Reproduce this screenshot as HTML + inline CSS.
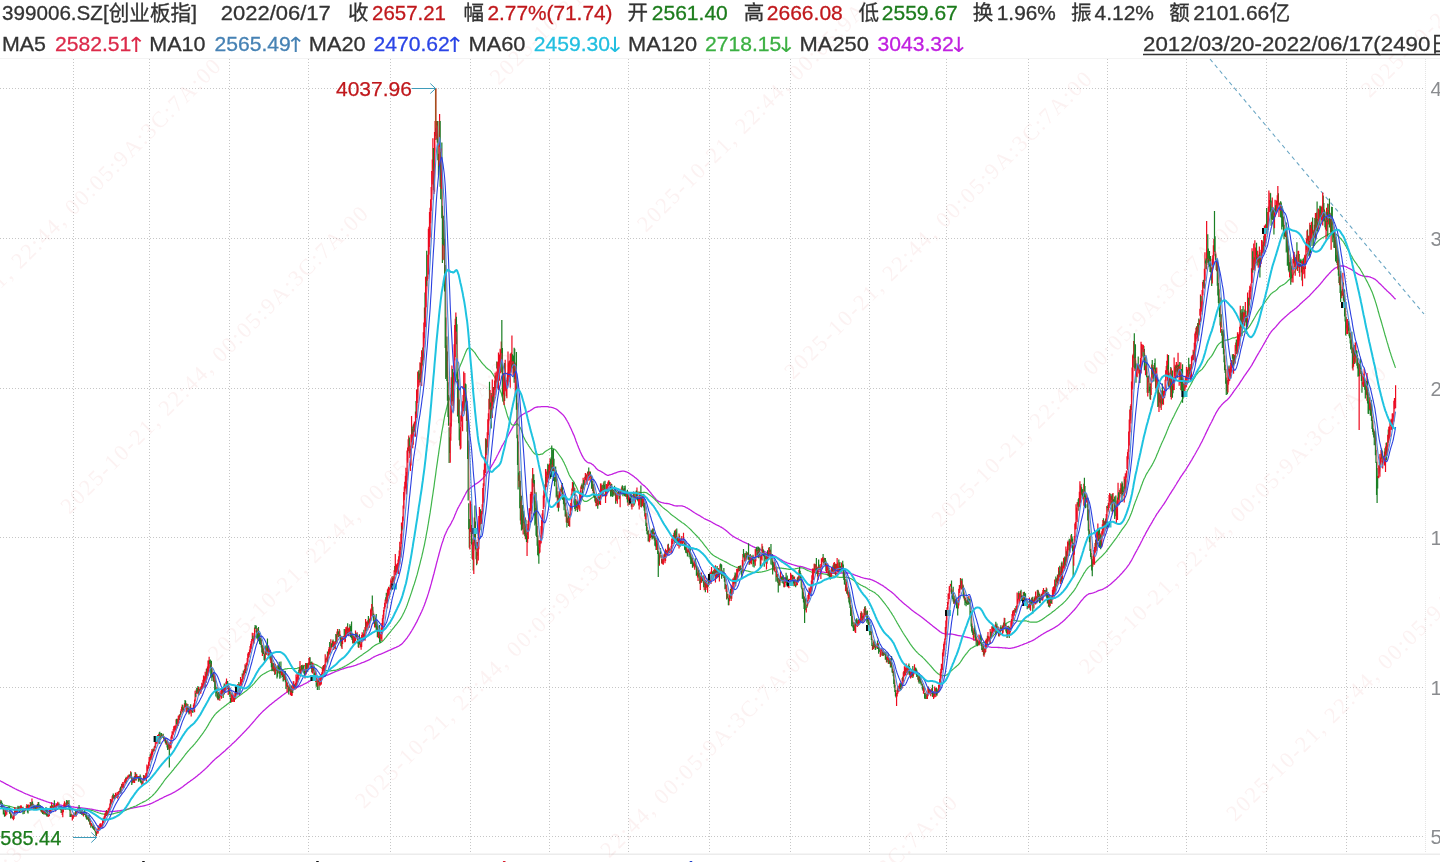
<!DOCTYPE html>
<html lang="zh-CN"><head><meta charset="utf-8"><title>399006.SZ 创业板指</title>
<style>
html,body{margin:0;padding:0;background:#fff;}
body{width:1440px;height:862px;overflow:hidden;position:relative;font-family:"Liberation Sans","Noto Sans CJK SC",sans-serif;}
svg{position:absolute;left:0;top:0;display:block;}
</style></head><body>
<svg width="1440" height="862" viewBox="0 0 1440 862">
<defs><clipPath id="cp"><rect x="0" y="59" width="1440" height="794"/></clipPath></defs>
<rect width="1440" height="862" fill="#fff"/>
<g stroke="#c6c6c6" stroke-width="1" stroke-dasharray="1 2" fill="none">
<path d="M73.5 59V853"/>
<path d="M149.5 59V853"/>
<path d="M229.5 59V853"/>
<path d="M308.5 59V853"/>
<path d="M390.5 59V853"/>
<path d="M470.5 59V853"/>
<path d="M549.5 59V853"/>
<path d="M628.5 59V853"/>
<path d="M709.5 59V853"/>
<path d="M790.5 59V853"/>
<path d="M869.5 59V853"/>
<path d="M946.5 59V853"/>
<path d="M1028.5 59V853"/>
<path d="M1107.5 59V853"/>
<path d="M1186.5 59V853"/>
<path d="M1266.5 59V853"/>
<path d="M1346.5 59V853"/>
<path d="M0 88.5H1424"/>
<path d="M0 238.5H1424"/>
<path d="M0 388.5H1424"/>
<path d="M0 537.5H1424"/>
<path d="M0 687.5H1424"/>
<path d="M0 836.5H1424"/>
</g>
<path d="M1425.5 59V853" stroke="#e4e4e4" stroke-width="1" stroke-dasharray="1 1"/>
<path d="M0 58.5H1440" stroke="#f3f3f3" stroke-width="1"/>
<path d="M0 854.2H1440" stroke="#ececec" stroke-width="1.6"/>
<g><g transform="rotate(-45)" font-family="'Liberation Serif', serif" font-size="22.5" fill="#d93a3a" fill-opacity="0.065">
<text x="-922.0" y="-3.3" textLength="424" lengthAdjust="spacing">2025-10-21, 22:44, 00:05:9A:3C:7A:00</text>
<text x="-922.0" y="205.0" textLength="424" lengthAdjust="spacing">2025-10-21, 22:44, 00:05:9A:3C:7A:00</text>
<text x="-922.0" y="413.3" textLength="424" lengthAdjust="spacing">2025-10-21, 22:44, 00:05:9A:3C:7A:00</text>
<text x="-922.0" y="621.6" textLength="424" lengthAdjust="spacing">2025-10-21, 22:44, 00:05:9A:3C:7A:00</text>
<text x="-922.0" y="829.9" textLength="424" lengthAdjust="spacing">2025-10-21, 22:44, 00:05:9A:3C:7A:00</text>
<text x="-922.0" y="1038.2" textLength="424" lengthAdjust="spacing">2025-10-21, 22:44, 00:05:9A:3C:7A:00</text>
<text x="-922.0" y="1246.5" textLength="424" lengthAdjust="spacing">2025-10-21, 22:44, 00:05:9A:3C:7A:00</text>
<text x="-922.0" y="1454.8" textLength="424" lengthAdjust="spacing">2025-10-21, 22:44, 00:05:9A:3C:7A:00</text>
<text x="-922.0" y="1663.1" textLength="424" lengthAdjust="spacing">2025-10-21, 22:44, 00:05:9A:3C:7A:00</text>
<text x="-315.0" y="-3.3" textLength="424" lengthAdjust="spacing">2025-10-21, 22:44, 00:05:9A:3C:7A:00</text>
<text x="-315.0" y="205.0" textLength="424" lengthAdjust="spacing">2025-10-21, 22:44, 00:05:9A:3C:7A:00</text>
<text x="-315.0" y="413.3" textLength="424" lengthAdjust="spacing">2025-10-21, 22:44, 00:05:9A:3C:7A:00</text>
<text x="-315.0" y="621.6" textLength="424" lengthAdjust="spacing">2025-10-21, 22:44, 00:05:9A:3C:7A:00</text>
<text x="-315.0" y="829.9" textLength="424" lengthAdjust="spacing">2025-10-21, 22:44, 00:05:9A:3C:7A:00</text>
<text x="-315.0" y="1038.2" textLength="424" lengthAdjust="spacing">2025-10-21, 22:44, 00:05:9A:3C:7A:00</text>
<text x="-315.0" y="1246.5" textLength="424" lengthAdjust="spacing">2025-10-21, 22:44, 00:05:9A:3C:7A:00</text>
<text x="-315.0" y="1454.8" textLength="424" lengthAdjust="spacing">2025-10-21, 22:44, 00:05:9A:3C:7A:00</text>
<text x="-315.0" y="1663.1" textLength="424" lengthAdjust="spacing">2025-10-21, 22:44, 00:05:9A:3C:7A:00</text>
<text x="292.0" y="-3.3" textLength="424" lengthAdjust="spacing">2025-10-21, 22:44, 00:05:9A:3C:7A:00</text>
<text x="292.0" y="205.0" textLength="424" lengthAdjust="spacing">2025-10-21, 22:44, 00:05:9A:3C:7A:00</text>
<text x="292.0" y="413.3" textLength="424" lengthAdjust="spacing">2025-10-21, 22:44, 00:05:9A:3C:7A:00</text>
<text x="292.0" y="621.6" textLength="424" lengthAdjust="spacing">2025-10-21, 22:44, 00:05:9A:3C:7A:00</text>
<text x="292.0" y="829.9" textLength="424" lengthAdjust="spacing">2025-10-21, 22:44, 00:05:9A:3C:7A:00</text>
<text x="292.0" y="1038.2" textLength="424" lengthAdjust="spacing">2025-10-21, 22:44, 00:05:9A:3C:7A:00</text>
<text x="292.0" y="1246.5" textLength="424" lengthAdjust="spacing">2025-10-21, 22:44, 00:05:9A:3C:7A:00</text>
<text x="292.0" y="1454.8" textLength="424" lengthAdjust="spacing">2025-10-21, 22:44, 00:05:9A:3C:7A:00</text>
<text x="292.0" y="1663.1" textLength="424" lengthAdjust="spacing">2025-10-21, 22:44, 00:05:9A:3C:7A:00</text>
<text x="899.0" y="-3.3" textLength="424" lengthAdjust="spacing">2025-10-21, 22:44, 00:05:9A:3C:7A:00</text>
<text x="899.0" y="205.0" textLength="424" lengthAdjust="spacing">2025-10-21, 22:44, 00:05:9A:3C:7A:00</text>
<text x="899.0" y="413.3" textLength="424" lengthAdjust="spacing">2025-10-21, 22:44, 00:05:9A:3C:7A:00</text>
<text x="899.0" y="621.6" textLength="424" lengthAdjust="spacing">2025-10-21, 22:44, 00:05:9A:3C:7A:00</text>
<text x="899.0" y="829.9" textLength="424" lengthAdjust="spacing">2025-10-21, 22:44, 00:05:9A:3C:7A:00</text>
<text x="899.0" y="1038.2" textLength="424" lengthAdjust="spacing">2025-10-21, 22:44, 00:05:9A:3C:7A:00</text>
<text x="899.0" y="1246.5" textLength="424" lengthAdjust="spacing">2025-10-21, 22:44, 00:05:9A:3C:7A:00</text>
<text x="899.0" y="1454.8" textLength="424" lengthAdjust="spacing">2025-10-21, 22:44, 00:05:9A:3C:7A:00</text>
<text x="899.0" y="1663.1" textLength="424" lengthAdjust="spacing">2025-10-21, 22:44, 00:05:9A:3C:7A:00</text>
</g></g>
<path d="M1210 59L1424 314" stroke="#6aa6c4" stroke-width="1.1" stroke-dasharray="4 3.5" fill="none"/>
<polyline points="0.0,780.7 0.6,781.0 1.1,781.3 1.7,781.6 2.2,781.9 2.8,782.2 3.4,782.5 3.9,782.8 4.5,783.1 5.0,783.4 5.6,783.7 6.2,784.1 6.7,784.4 7.3,784.6 7.8,784.9 8.4,785.2 9.0,785.5 9.5,785.8 10.1,786.1 10.7,786.4 11.2,786.7 11.8,787.0 12.3,787.3 12.9,787.7 13.5,788.0 14.0,788.2 14.6,788.5 15.1,788.8 15.7,789.0 16.3,789.3 16.8,789.6 17.4,789.9 17.9,790.2 18.5,790.4 19.1,790.7 19.6,791.0 20.2,791.2 20.7,791.4 21.3,791.7 21.9,792.0 22.4,792.2 23.0,792.5 23.5,792.8 24.1,793.0 24.7,793.3 25.2,793.5 25.8,793.8 26.4,794.0 26.9,794.2 27.5,794.5 28.0,794.7 28.6,795.0 29.2,795.2 29.7,795.4 30.3,795.6 30.8,795.8 31.4,796.1 32.0,796.2 32.5,796.4 33.1,796.7 33.6,796.9 34.2,797.1 34.8,797.3 35.3,797.5 35.9,797.7 36.4,798.0 37.0,798.2 37.6,798.4 38.1,798.6 38.7,798.8 39.2,799.0 39.8,799.1 40.4,799.3 40.9,799.6 41.5,799.8 42.1,799.9 42.6,800.1 43.2,800.3 43.7,800.6 44.3,800.8 44.9,801.0 45.4,801.2 46.0,801.4 46.5,801.6 47.1,801.8 47.7,802.0 48.2,802.2 48.8,802.4 49.3,802.5 49.9,802.7 50.5,802.9 51.0,803.0 51.6,803.1 52.1,803.3 52.7,803.4 53.3,803.6 53.8,803.7 54.4,803.8 54.9,804.0 55.5,804.1 56.1,804.2 56.6,804.3 57.2,804.5 57.8,804.6 58.3,804.7 58.9,804.8 59.4,804.9 60.0,805.0 60.6,805.1 61.1,805.2 61.7,805.4 62.2,805.5 62.8,805.6 63.4,805.7 63.9,805.7 64.5,805.8 65.0,805.9 65.6,806.0 66.2,806.1 66.7,806.1 67.3,806.2 67.8,806.3 68.4,806.3 69.0,806.4 69.5,806.5 70.1,806.6 70.6,806.6 71.2,806.7 71.8,806.8 72.3,806.9 72.9,807.0 73.5,807.0 74.0,807.1 74.6,807.2 75.1,807.3 75.7,807.3 76.3,807.4 76.8,807.4 77.4,807.5 77.9,807.5 78.5,807.6 79.1,807.6 79.6,807.7 80.2,807.7 80.7,807.8 81.3,807.8 81.9,807.9 82.4,808.0 83.0,808.1 83.5,808.1 84.1,808.2 84.7,808.3 85.2,808.3 85.8,808.4 86.3,808.5 86.9,808.6 87.5,808.6 88.0,808.7 88.6,808.8 89.2,808.9 89.7,809.0 90.3,809.1 90.8,809.1 91.4,809.2 92.0,809.3 92.5,809.4 93.1,809.5 93.6,809.7 94.2,809.8 94.8,809.9 95.3,810.0 95.9,810.1 96.4,810.3 97.0,810.4 97.6,810.5 98.1,810.6 98.7,810.7 99.2,810.8 99.8,810.9 100.4,811.0 100.9,811.0 101.5,811.1 102.0,811.2 102.6,811.3 103.2,811.3 103.7,811.4 104.3,811.4 104.9,811.5 105.4,811.5 106.0,811.5 106.5,811.6 107.1,811.6 107.7,811.6 108.2,811.6 108.8,811.6 109.3,811.6 109.9,811.6 110.5,811.6 111.0,811.6 111.6,811.5 112.1,811.5 112.7,811.4 113.3,811.4 113.8,811.3 114.4,811.3 114.9,811.3 115.5,811.2 116.1,811.1 116.6,811.1 117.2,811.0 117.7,811.0 118.3,810.9 118.9,810.8 119.4,810.8 120.0,810.7 120.6,810.6 121.1,810.5 121.7,810.4 122.2,810.3 122.8,810.2 123.4,810.1 123.9,810.0 124.5,809.9 125.0,809.7 125.6,809.6 126.2,809.5 126.7,809.4 127.3,809.2 127.8,809.1 128.4,809.0 129.0,808.8 129.5,808.7 130.1,808.5 130.6,808.4 131.2,808.3 131.8,808.2 132.3,808.1 132.9,808.0 133.4,807.8 134.0,807.7 134.6,807.6 135.1,807.5 135.7,807.4 136.3,807.3 136.8,807.1 137.4,807.0 137.9,806.9 138.5,806.8 139.1,806.7 139.6,806.6 140.2,806.5 140.7,806.4 141.3,806.3 141.9,806.2 142.4,806.1 143.0,806.0 143.5,805.9 144.1,805.8 144.7,805.6 145.2,805.5 145.8,805.3 146.3,805.2 146.9,805.0 147.5,804.8 148.0,804.7 148.6,804.5 149.1,804.3 149.7,804.1 150.3,803.8 150.8,803.6 151.4,803.4 152.0,803.1 152.5,802.8 153.1,802.6 153.6,802.3 154.2,802.0 154.8,801.8 155.3,801.5 155.9,801.2 156.4,800.9 157.0,800.7 157.6,800.4 158.1,800.1 158.7,799.8 159.2,799.5 159.8,799.2 160.4,798.9 160.9,798.7 161.5,798.4 162.0,798.1 162.6,797.8 163.2,797.5 163.7,797.2 164.3,796.9 164.8,796.6 165.4,796.4 166.0,796.1 166.5,795.8 167.1,795.6 167.7,795.4 168.2,795.1 168.8,794.9 169.3,794.6 169.9,794.4 170.5,794.1 171.0,793.9 171.6,793.6 172.1,793.3 172.7,793.0 173.3,792.7 173.8,792.4 174.4,792.1 174.9,791.8 175.5,791.5 176.1,791.1 176.6,790.8 177.2,790.4 177.7,790.1 178.3,789.7 178.9,789.4 179.4,789.0 180.0,788.7 180.5,788.3 181.1,787.9 181.7,787.5 182.2,787.1 182.8,786.7 183.4,786.2 183.9,785.8 184.5,785.4 185.0,784.9 185.6,784.5 186.2,784.1 186.7,783.7 187.3,783.2 187.8,782.8 188.4,782.4 189.0,782.0 189.5,781.6 190.1,781.2 190.6,780.8 191.2,780.4 191.8,780.0 192.3,779.6 192.9,779.2 193.4,778.8 194.0,778.4 194.6,778.0 195.1,777.5 195.7,777.1 196.2,776.6 196.8,776.2 197.4,775.7 197.9,775.3 198.5,774.8 199.1,774.3 199.6,773.9 200.2,773.4 200.7,772.9 201.3,772.4 201.9,771.9 202.4,771.4 203.0,770.9 203.5,770.4 204.1,769.9 204.7,769.4 205.2,768.9 205.8,768.4 206.3,767.9 206.9,767.4 207.5,766.8 208.0,766.3 208.6,765.7 209.1,765.1 209.7,764.5 210.3,763.9 210.8,763.3 211.4,762.8 211.9,762.2 212.5,761.6 213.1,761.1 213.6,760.5 214.2,760.0 214.8,759.4 215.3,758.9 215.9,758.5 216.4,758.0 217.0,757.5 217.6,757.1 218.1,756.6 218.7,756.2 219.2,755.7 219.8,755.2 220.4,754.8 220.9,754.3 221.5,753.8 222.0,753.3 222.6,752.8 223.2,752.4 223.7,751.8 224.3,751.4 224.8,750.9 225.4,750.4 226.0,749.8 226.5,749.3 227.1,748.7 227.6,748.2 228.2,747.7 228.8,747.2 229.3,746.7 229.9,746.1 230.5,745.7 231.0,745.2 231.6,744.6 232.1,744.1 232.7,743.6 233.3,743.1 233.8,742.6 234.4,742.0 234.9,741.5 235.5,740.9 236.1,740.4 236.6,739.8 237.2,739.3 237.7,738.7 238.3,738.1 238.9,737.6 239.4,737.0 240.0,736.5 240.5,735.9 241.1,735.3 241.7,734.7 242.2,734.1 242.8,733.5 243.3,733.0 243.9,732.4 244.5,731.8 245.0,731.2 245.6,730.6 246.2,730.0 246.7,729.4 247.3,728.8 247.8,728.2 248.4,727.6 249.0,727.0 249.5,726.3 250.1,725.7 250.6,725.1 251.2,724.4 251.8,723.8 252.3,723.2 252.9,722.5 253.4,721.9 254.0,721.2 254.6,720.6 255.1,719.9 255.7,719.2 256.2,718.6 256.8,717.9 257.4,717.3 257.9,716.6 258.5,716.0 259.0,715.3 259.6,714.7 260.2,714.1 260.7,713.5 261.3,713.0 261.9,712.4 262.4,711.9 263.0,711.3 263.5,710.8 264.1,710.3 264.7,709.8 265.2,709.3 265.8,708.8 266.3,708.3 266.9,707.8 267.5,707.3 268.0,706.8 268.6,706.3 269.1,705.8 269.7,705.3 270.3,704.8 270.8,704.4 271.4,703.9 271.9,703.5 272.5,703.0 273.1,702.6 273.6,702.1 274.2,701.7 274.7,701.2 275.3,700.8 275.9,700.4 276.4,700.0 277.0,699.6 277.6,699.1 278.1,698.7 278.7,698.3 279.2,697.8 279.8,697.4 280.4,697.0 280.9,696.5 281.5,696.1 282.0,695.6 282.6,695.2 283.2,694.8 283.7,694.4 284.3,694.0 284.8,693.6 285.4,693.2 286.0,692.8 286.5,692.5 287.1,692.1 287.6,691.8 288.2,691.5 288.8,691.2 289.3,690.9 289.9,690.7 290.4,690.4 291.0,690.1 291.6,689.9 292.1,689.6 292.7,689.4 293.2,689.1 293.8,688.9 294.4,688.6 294.9,688.4 295.5,688.1 296.1,687.9 296.6,687.7 297.2,687.4 297.7,687.2 298.3,686.9 298.9,686.7 299.4,686.4 300.0,686.1 300.5,685.9 301.1,685.6 301.7,685.3 302.2,685.1 302.8,684.8 303.3,684.5 303.9,684.2 304.5,684.0 305.0,683.7 305.6,683.4 306.1,683.1 306.7,682.8 307.3,682.5 307.8,682.2 308.4,681.9 308.9,681.5 309.5,681.2 310.1,680.9 310.6,680.5 311.2,680.3 311.8,680.0 312.3,679.7 312.9,679.5 313.4,679.2 314.0,679.0 314.6,678.8 315.1,678.6 315.7,678.4 316.2,678.2 316.8,678.1 317.4,677.9 317.9,677.8 318.5,677.6 319.0,677.5 319.6,677.3 320.2,677.2 320.7,677.1 321.3,676.9 321.8,676.8 322.4,676.6 323.0,676.5 323.5,676.3 324.1,676.2 324.6,676.0 325.2,675.8 325.8,675.6 326.3,675.4 326.9,675.2 327.5,675.1 328.0,674.8 328.6,674.6 329.1,674.3 329.7,674.1 330.3,673.9 330.8,673.6 331.4,673.4 331.9,673.1 332.5,672.8 333.1,672.6 333.6,672.3 334.2,672.1 334.7,671.9 335.3,671.7 335.9,671.5 336.4,671.2 337.0,671.0 337.5,670.8 338.1,670.6 338.7,670.3 339.2,670.1 339.8,669.9 340.3,669.7 340.9,669.5 341.5,669.3 342.0,669.1 342.6,668.9 343.2,668.8 343.7,668.6 344.3,668.4 344.8,668.2 345.4,668.0 346.0,667.9 346.5,667.7 347.1,667.5 347.6,667.4 348.2,667.2 348.8,667.1 349.3,667.0 349.9,666.9 350.4,666.8 351.0,666.6 351.6,666.5 352.1,666.3 352.7,666.2 353.2,666.0 353.8,665.9 354.4,665.7 354.9,665.5 355.5,665.3 356.0,665.1 356.6,664.9 357.2,664.6 357.7,664.4 358.3,664.2 358.9,664.0 359.4,663.8 360.0,663.6 360.5,663.4 361.1,663.2 361.7,662.9 362.2,662.7 362.8,662.5 363.3,662.3 363.9,662.1 364.5,661.9 365.0,661.6 365.6,661.3 366.1,661.1 366.7,660.9 367.3,660.6 367.8,660.4 368.4,660.1 368.9,659.9 369.5,659.6 370.1,659.3 370.6,658.9 371.2,658.6 371.7,658.2 372.3,657.8 372.9,657.5 373.4,657.2 374.0,656.9 374.6,656.6 375.1,656.3 375.7,656.0 376.2,655.8 376.8,655.5 377.4,655.3 377.9,655.1 378.5,654.9 379.0,654.6 379.6,654.4 380.2,654.3 380.7,654.1 381.3,653.9 381.8,653.7 382.4,653.4 383.0,653.2 383.5,653.0 384.1,652.7 384.6,652.4 385.2,652.2 385.8,651.9 386.3,651.6 386.9,651.4 387.4,651.1 388.0,650.8 388.6,650.6 389.1,650.3 389.7,650.1 390.3,649.8 390.8,649.6 391.4,649.3 391.9,649.1 392.5,648.9 393.1,648.6 393.6,648.4 394.2,648.2 394.7,647.9 395.3,647.7 395.9,647.5 396.4,647.2 397.0,646.9 397.5,646.7 398.1,646.4 398.7,646.1 399.2,645.8 399.8,645.4 400.3,645.0 400.9,644.6 401.5,644.2 402.0,643.7 402.6,643.2 403.1,642.6 403.7,641.9 404.3,641.3 404.8,640.6 405.4,639.9 406.0,639.2 406.5,638.5 407.1,637.8 407.6,637.0 408.2,636.1 408.8,635.3 409.3,634.5 409.9,633.6 410.4,632.8 411.0,631.9 411.6,631.0 412.1,630.0 412.7,629.1 413.2,628.1 413.8,627.2 414.4,626.2 414.9,625.2 415.5,624.2 416.0,623.1 416.6,622.1 417.2,620.9 417.7,619.8 418.3,618.6 418.8,617.4 419.4,616.3 420.0,615.1 420.5,613.9 421.1,612.7 421.7,611.5 422.2,610.2 422.8,608.9 423.3,607.6 423.9,606.2 424.5,604.7 425.0,603.3 425.6,601.7 426.1,600.1 426.7,598.5 427.3,596.8 427.8,595.1 428.4,593.4 428.9,591.6 429.5,589.7 430.1,587.8 430.6,585.9 431.2,583.9 431.7,581.8 432.3,579.7 432.9,577.5 433.4,575.5 434.0,573.5 434.5,571.3 435.1,569.0 435.7,566.8 436.2,564.6 436.8,562.3 437.4,560.2 437.9,558.1 438.5,556.1 439.0,554.0 439.6,551.9 440.2,549.8 440.7,547.9 441.3,545.9 441.8,544.1 442.4,542.4 443.0,540.7 443.5,539.0 444.1,537.3 444.6,535.7 445.2,534.4 445.8,533.2 446.3,531.9 446.9,530.7 447.4,529.6 448.0,528.5 448.6,527.5 449.1,526.7 449.7,525.9 450.2,524.9 450.8,523.9 451.4,522.8 451.9,521.6 452.5,520.5 453.1,519.5 453.6,518.3 454.2,517.0 454.7,515.6 455.3,514.2 455.9,512.8 456.4,511.4 457.0,510.2 457.5,509.0 458.1,507.9 458.7,506.8 459.2,505.8 459.8,504.8 460.3,503.8 460.9,502.8 461.5,501.8 462.0,500.7 462.6,499.6 463.1,498.6 463.7,497.5 464.3,496.4 464.8,495.3 465.4,494.2 465.9,493.2 466.5,492.2 467.1,491.2 467.6,490.4 468.2,489.8 468.8,489.3 469.3,488.9 469.9,488.4 470.4,487.8 471.0,487.4 471.6,486.9 472.1,486.6 472.7,486.2 473.2,485.9 473.8,485.5 474.4,485.0 474.9,484.5 475.5,484.1 476.0,483.8 476.6,483.5 477.2,483.2 477.7,482.8 478.3,482.4 478.8,482.0 479.4,481.5 480.0,481.0 480.5,480.5 481.1,480.0 481.6,479.5 482.2,479.0 482.8,478.4 483.3,477.8 483.9,477.1 484.5,476.5 485.0,475.8 485.6,475.0 486.1,474.3 486.7,473.6 487.3,472.8 487.8,472.0 488.4,471.1 488.9,470.2 489.5,469.3 490.1,468.4 490.6,467.5 491.2,466.6 491.7,465.7 492.3,464.7 492.9,463.8 493.4,462.8 494.0,461.8 494.5,460.8 495.1,459.8 495.7,458.8 496.2,457.7 496.8,456.6 497.3,455.5 497.9,454.5 498.5,453.3 499.0,452.2 499.6,451.1 500.2,449.9 500.7,448.7 501.3,447.6 501.8,446.4 502.4,445.4 503.0,444.5 503.5,443.5 504.1,442.5 504.6,441.6 505.2,440.6 505.8,439.6 506.3,438.7 506.9,437.7 507.4,436.8 508.0,435.8 508.6,434.7 509.1,433.7 509.7,432.7 510.2,431.7 510.8,430.7 511.4,429.7 511.9,428.7 512.5,427.7 513.0,426.7 513.6,425.7 514.2,424.7 514.7,423.7 515.3,422.7 515.9,421.7 516.4,420.8 517.0,420.0 517.5,419.3 518.1,418.6 518.7,418.0 519.2,417.4 519.8,416.8 520.3,416.3 520.9,415.8 521.5,415.3 522.0,414.9 522.6,414.5 523.1,414.2 523.7,413.8 524.3,413.5 524.8,413.2 525.4,412.9 525.9,412.7 526.5,412.4 527.1,412.2 527.6,412.0 528.2,411.7 528.7,411.4 529.3,411.1 529.9,410.8 530.4,410.5 531.0,410.1 531.6,409.7 532.1,409.4 532.7,409.0 533.2,408.6 533.8,408.2 534.4,407.9 534.9,407.6 535.5,407.4 536.0,407.3 536.6,407.1 537.2,407.0 537.7,407.0 538.3,406.9 538.8,406.9 539.4,406.9 540.0,406.8 540.5,406.8 541.1,406.7 541.6,406.7 542.2,406.7 542.8,406.7 543.3,406.6 543.9,406.6 544.4,406.6 545.0,406.6 545.6,406.6 546.1,406.6 546.7,406.6 547.3,406.7 547.8,406.7 548.4,406.9 548.9,407.0 549.5,407.1 550.1,407.1 550.6,407.2 551.2,407.3 551.7,407.4 552.3,407.6 552.9,407.7 553.4,407.9 554.0,408.1 554.5,408.3 555.1,408.5 555.7,408.8 556.2,409.0 556.8,409.4 557.3,409.8 557.9,410.3 558.5,410.8 559.0,411.3 559.6,411.8 560.1,412.2 560.7,412.7 561.3,413.2 561.8,413.7 562.4,414.2 562.9,414.8 563.5,415.4 564.1,416.1 564.6,416.9 565.2,417.7 565.8,418.6 566.3,419.6 566.9,420.5 567.4,421.5 568.0,422.5 568.6,423.6 569.1,424.7 569.7,425.9 570.2,427.1 570.8,428.3 571.4,429.5 571.9,430.8 572.5,432.0 573.0,433.4 573.6,434.6 574.2,435.8 574.7,437.3 575.3,438.8 575.8,440.4 576.4,441.9 577.0,443.4 577.5,444.9 578.1,446.3 578.6,447.7 579.2,449.1 579.8,450.5 580.3,451.8 580.9,453.0 581.5,454.3 582.0,455.4 582.6,456.4 583.1,457.3 583.7,458.3 584.3,459.2 584.8,460.0 585.4,460.6 585.9,461.0 586.5,461.6 587.1,462.0 587.6,462.3 588.2,462.6 588.7,462.8 589.3,462.9 589.9,463.0 590.4,463.2 591.0,463.4 591.5,463.8 592.1,464.3 592.7,464.6 593.2,465.0 593.8,465.5 594.3,466.1 594.9,466.7 595.5,467.4 596.0,468.2 596.6,468.8 597.2,469.3 597.7,469.7 598.3,470.1 598.8,470.5 599.4,470.7 600.0,471.0 600.5,471.2 601.1,471.5 601.6,471.8 602.2,472.1 602.8,472.5 603.3,472.8 603.9,473.2 604.4,473.6 605.0,474.0 605.6,474.4 606.1,474.7 606.7,475.0 607.2,475.3 607.8,475.4 608.4,475.4 608.9,475.2 609.5,474.9 610.0,474.8 610.6,474.7 611.2,474.5 611.7,474.3 612.3,474.1 612.9,473.8 613.4,473.6 614.0,473.4 614.5,473.2 615.1,473.1 615.7,472.9 616.2,472.6 616.8,472.4 617.3,472.2 617.9,472.0 618.5,471.8 619.0,471.7 619.6,471.6 620.1,471.5 620.7,471.4 621.3,471.3 621.8,471.2 622.4,471.1 622.9,471.1 623.5,471.2 624.1,471.2 624.6,471.3 625.2,471.5 625.7,471.6 626.3,471.8 626.9,472.0 627.4,472.3 628.0,472.5 628.6,472.9 629.1,473.2 629.7,473.6 630.2,474.0 630.8,474.4 631.4,474.8 631.9,475.1 632.5,475.5 633.0,475.9 633.6,476.3 634.2,476.7 634.7,477.2 635.3,477.7 635.8,478.1 636.4,478.6 637.0,479.1 637.5,479.6 638.1,480.1 638.6,480.7 639.2,481.2 639.8,481.8 640.3,482.3 640.9,482.9 641.4,483.5 642.0,484.1 642.6,484.5 643.1,484.9 643.7,485.4 644.3,485.8 644.8,486.3 645.4,486.8 645.9,487.4 646.5,488.0 647.1,488.5 647.6,489.2 648.2,489.8 648.7,490.5 649.3,491.2 649.9,491.9 650.4,492.5 651.0,493.2 651.5,493.9 652.1,494.6 652.7,495.3 653.2,496.0 653.8,496.6 654.3,497.3 654.9,498.0 655.5,498.7 656.0,499.4 656.6,499.9 657.1,500.4 657.7,500.8 658.3,501.1 658.8,501.4 659.4,501.7 660.0,501.9 660.5,502.1 661.1,502.3 661.6,502.5 662.2,502.7 662.8,502.8 663.3,502.9 663.9,503.1 664.4,503.2 665.0,503.3 665.6,503.4 666.1,503.4 666.7,503.5 667.2,503.5 667.8,503.6 668.4,503.7 668.9,503.8 669.5,503.9 670.0,504.1 670.6,504.3 671.2,504.5 671.7,504.7 672.3,504.9 672.8,505.2 673.4,505.4 674.0,505.6 674.5,505.7 675.1,505.8 675.7,505.9 676.2,505.9 676.8,506.0 677.3,506.0 677.9,505.9 678.5,505.9 679.0,505.8 679.6,505.8 680.1,505.8 680.7,505.8 681.3,505.9 681.8,505.9 682.4,506.0 682.9,506.2 683.5,506.3 684.1,506.5 684.6,506.7 685.2,507.0 685.7,507.3 686.3,507.6 686.9,507.8 687.4,508.2 688.0,508.5 688.5,508.8 689.1,509.1 689.7,509.5 690.2,509.8 690.8,510.2 691.4,510.6 691.9,511.0 692.5,511.3 693.0,511.7 693.6,512.1 694.2,512.5 694.7,512.8 695.3,513.2 695.8,513.5 696.4,513.9 697.0,514.2 697.5,514.5 698.1,514.8 698.6,515.1 699.2,515.4 699.8,515.7 700.3,516.1 700.9,516.4 701.4,516.8 702.0,517.1 702.6,517.5 703.1,517.8 703.7,518.2 704.2,518.5 704.8,518.8 705.4,519.1 705.9,519.4 706.5,519.6 707.1,519.9 707.6,520.2 708.2,520.4 708.7,520.7 709.3,520.9 709.9,521.1 710.4,521.4 711.0,521.7 711.5,522.0 712.1,522.3 712.7,522.7 713.2,523.1 713.8,523.4 714.3,523.7 714.9,524.0 715.5,524.3 716.0,524.6 716.6,524.8 717.1,525.1 717.7,525.4 718.3,525.6 718.8,525.9 719.4,526.2 719.9,526.5 720.5,526.8 721.1,527.1 721.6,527.4 722.2,527.8 722.8,528.1 723.3,528.5 723.9,528.9 724.4,529.3 725.0,529.7 725.6,530.1 726.1,530.6 726.7,531.0 727.2,531.5 727.8,532.0 728.4,532.5 728.9,533.0 729.5,533.5 730.0,534.0 730.6,534.5 731.2,534.9 731.7,535.4 732.3,535.8 732.8,536.1 733.4,536.5 734.0,536.9 734.5,537.2 735.1,537.5 735.6,537.8 736.2,538.1 736.8,538.4 737.3,538.7 737.9,539.0 738.5,539.2 739.0,539.5 739.6,539.8 740.1,540.1 740.7,540.4 741.3,540.7 741.8,541.0 742.4,541.3 742.9,541.6 743.5,541.9 744.1,542.2 744.6,542.4 745.2,542.7 745.7,542.9 746.3,543.2 746.9,543.5 747.4,543.7 748.0,544.0 748.5,544.3 749.1,544.6 749.7,544.9 750.2,545.2 750.8,545.5 751.3,545.8 751.9,546.0 752.5,546.3 753.0,546.6 753.6,546.8 754.2,547.1 754.7,547.4 755.3,547.6 755.8,547.8 756.4,548.0 757.0,548.2 757.5,548.5 758.1,548.7 758.6,548.9 759.2,549.2 759.8,549.4 760.3,549.7 760.9,549.9 761.4,550.2 762.0,550.4 762.6,550.7 763.1,550.9 763.7,551.2 764.2,551.4 764.8,551.7 765.4,552.0 765.9,552.2 766.5,552.5 767.0,552.7 767.6,553.0 768.2,553.2 768.7,553.4 769.3,553.6 769.9,553.8 770.4,554.0 771.0,554.3 771.5,554.5 772.1,554.7 772.7,555.0 773.2,555.3 773.8,555.5 774.3,555.8 774.9,556.1 775.5,556.4 776.0,556.7 776.6,557.1 777.1,557.4 777.7,557.8 778.3,558.1 778.8,558.4 779.4,558.8 779.9,559.1 780.5,559.4 781.1,559.7 781.6,560.1 782.2,560.4 782.7,560.7 783.3,561.1 783.9,561.4 784.4,561.7 785.0,562.0 785.6,562.2 786.1,562.4 786.7,562.7 787.2,562.9 787.8,563.1 788.4,563.3 788.9,563.4 789.5,563.6 790.0,563.8 790.6,564.0 791.2,564.1 791.7,564.3 792.3,564.5 792.8,564.7 793.4,564.8 794.0,565.0 794.5,565.2 795.1,565.4 795.6,565.5 796.2,565.7 796.8,565.9 797.3,566.0 797.9,566.1 798.4,566.2 799.0,566.3 799.6,566.3 800.1,566.4 800.7,566.5 801.3,566.6 801.8,566.7 802.4,566.9 802.9,567.0 803.5,567.1 804.1,567.3 804.6,567.5 805.2,567.7 805.7,568.0 806.3,568.2 806.9,568.4 807.4,568.6 808.0,568.8 808.5,569.0 809.1,569.1 809.7,569.3 810.2,569.5 810.8,569.6 811.3,569.8 811.9,569.9 812.5,570.0 813.0,570.2 813.6,570.3 814.1,570.4 814.7,570.5 815.3,570.7 815.8,570.8 816.4,570.9 817.0,571.0 817.5,571.2 818.1,571.3 818.6,571.4 819.2,571.5 819.8,571.7 820.3,571.8 820.9,571.8 821.4,571.9 822.0,572.0 822.6,572.1 823.1,572.2 823.7,572.2 824.2,572.3 824.8,572.4 825.4,572.4 825.9,572.5 826.5,572.6 827.0,572.7 827.6,572.7 828.2,572.8 828.7,572.9 829.3,573.0 829.8,573.1 830.4,573.2 831.0,573.2 831.5,573.3 832.1,573.3 832.7,573.3 833.2,573.4 833.8,573.4 834.3,573.4 834.9,573.4 835.5,573.4 836.0,573.4 836.6,573.4 837.1,573.4 837.7,573.4 838.3,573.4 838.8,573.3 839.4,573.3 839.9,573.3 840.5,573.2 841.1,573.2 841.6,573.1 842.2,573.1 842.7,573.0 843.3,573.0 843.9,573.0 844.4,572.9 845.0,572.9 845.5,572.9 846.1,573.0 846.7,573.0 847.2,573.0 847.8,573.0 848.3,573.1 848.9,573.1 849.5,573.2 850.0,573.3 850.6,573.5 851.2,573.6 851.7,573.8 852.3,574.0 852.8,574.2 853.4,574.4 854.0,574.7 854.5,574.9 855.1,575.1 855.6,575.3 856.2,575.5 856.8,575.7 857.3,575.9 857.9,576.1 858.4,576.3 859.0,576.5 859.6,576.7 860.1,576.9 860.7,577.1 861.2,577.3 861.8,577.5 862.4,577.7 862.9,577.8 863.5,578.0 864.0,578.2 864.6,578.3 865.2,578.4 865.7,578.5 866.3,578.6 866.9,578.7 867.4,578.8 868.0,578.9 868.5,579.0 869.1,579.1 869.7,579.2 870.2,579.4 870.8,579.5 871.3,579.7 871.9,579.9 872.5,580.2 873.0,580.4 873.6,580.7 874.1,580.9 874.7,581.2 875.3,581.5 875.8,581.7 876.4,582.0 876.9,582.3 877.5,582.6 878.1,582.9 878.6,583.2 879.2,583.6 879.7,583.9 880.3,584.2 880.9,584.6 881.4,584.9 882.0,585.2 882.6,585.5 883.1,585.9 883.7,586.3 884.2,586.7 884.8,587.1 885.4,587.5 885.9,587.9 886.5,588.3 887.0,588.7 887.6,589.2 888.2,589.6 888.7,590.0 889.3,590.4 889.8,590.8 890.4,591.2 891.0,591.6 891.5,592.1 892.1,592.5 892.6,593.0 893.2,593.4 893.8,593.9 894.3,594.4 894.9,594.9 895.4,595.5 896.0,596.1 896.6,596.7 897.1,597.2 897.7,597.8 898.3,598.3 898.8,598.9 899.4,599.4 899.9,599.9 900.5,600.4 901.1,601.0 901.6,601.5 902.2,602.0 902.7,602.5 903.3,603.0 903.9,603.5 904.4,603.9 905.0,604.4 905.5,604.8 906.1,605.3 906.7,605.7 907.2,606.2 907.8,606.6 908.3,607.1 908.9,607.6 909.5,608.0 910.0,608.5 910.6,609.0 911.1,609.5 911.7,609.9 912.3,610.4 912.8,610.8 913.4,611.3 914.0,611.7 914.5,612.1 915.1,612.5 915.6,612.9 916.2,613.3 916.8,613.7 917.3,614.0 917.9,614.4 918.4,614.8 919.0,615.2 919.6,615.6 920.1,616.0 920.7,616.4 921.2,616.8 921.8,617.2 922.4,617.7 922.9,618.1 923.5,618.5 924.0,619.0 924.6,619.4 925.2,619.9 925.7,620.4 926.3,620.8 926.8,621.3 927.4,621.7 928.0,622.2 928.5,622.6 929.1,623.0 929.7,623.5 930.2,623.9 930.8,624.4 931.3,624.8 931.9,625.3 932.5,625.7 933.0,626.2 933.6,626.6 934.1,627.1 934.7,627.5 935.3,628.0 935.8,628.4 936.4,628.8 936.9,629.3 937.5,629.7 938.1,630.1 938.6,630.6 939.2,631.0 939.7,631.5 940.3,631.9 940.9,632.2 941.4,632.6 942.0,632.9 942.5,633.1 943.1,633.3 943.7,633.5 944.2,633.7 944.8,633.8 945.4,634.0 945.9,634.0 946.5,634.0 947.0,634.1 947.6,634.1 948.2,634.1 948.7,634.1 949.3,634.1 949.8,634.1 950.4,634.0 951.0,634.0 951.5,634.1 952.1,634.1 952.6,634.2 953.2,634.3 953.8,634.5 954.3,634.6 954.9,634.7 955.4,634.9 956.0,635.0 956.6,635.1 957.1,635.3 957.7,635.4 958.2,635.6 958.8,635.7 959.4,635.7 959.9,635.8 960.5,635.9 961.1,635.9 961.6,636.0 962.2,636.1 962.7,636.2 963.3,636.4 963.9,636.5 964.4,636.7 965.0,636.8 965.5,637.0 966.1,637.1 966.7,637.2 967.2,637.4 967.8,637.5 968.3,637.6 968.9,637.7 969.5,637.8 970.0,638.0 970.6,638.2 971.1,638.3 971.7,638.6 972.3,638.8 972.8,639.1 973.4,639.3 973.9,639.6 974.5,639.8 975.1,640.1 975.6,640.4 976.2,640.7 976.8,641.0 977.3,641.3 977.9,641.6 978.4,641.9 979.0,642.1 979.6,642.4 980.1,642.7 980.7,643.0 981.2,643.3 981.8,643.7 982.4,644.0 982.9,644.3 983.5,644.6 984.0,644.9 984.6,645.2 985.2,645.5 985.7,645.7 986.3,645.9 986.8,646.1 987.4,646.3 988.0,646.5 988.5,646.7 989.1,646.8 989.6,647.0 990.2,647.1 990.8,647.2 991.3,647.3 991.9,647.3 992.5,647.3 993.0,647.3 993.6,647.3 994.1,647.3 994.7,647.3 995.3,647.3 995.8,647.4 996.4,647.4 996.9,647.4 997.5,647.4 998.1,647.5 998.6,647.5 999.2,647.5 999.7,647.6 1000.3,647.6 1000.9,647.6 1001.4,647.7 1002.0,647.7 1002.5,647.8 1003.1,647.8 1003.7,647.8 1004.2,647.9 1004.8,647.9 1005.3,648.0 1005.9,648.0 1006.5,648.1 1007.0,648.2 1007.6,648.2 1008.2,648.3 1008.7,648.3 1009.3,648.3 1009.8,648.3 1010.4,648.3 1011.0,648.2 1011.5,648.2 1012.1,648.0 1012.6,647.9 1013.2,647.8 1013.8,647.7 1014.3,647.5 1014.9,647.4 1015.4,647.2 1016.0,647.1 1016.6,646.9 1017.1,646.7 1017.7,646.5 1018.2,646.3 1018.8,646.1 1019.4,645.9 1019.9,645.7 1020.5,645.5 1021.0,645.2 1021.6,645.0 1022.2,644.8 1022.7,644.6 1023.3,644.4 1023.9,644.1 1024.4,643.9 1025.0,643.7 1025.5,643.5 1026.1,643.3 1026.7,643.0 1027.2,642.8 1027.8,642.6 1028.3,642.4 1028.9,642.2 1029.5,641.9 1030.0,641.7 1030.6,641.5 1031.1,641.2 1031.7,641.0 1032.3,640.7 1032.8,640.4 1033.4,640.2 1033.9,639.8 1034.5,639.5 1035.1,639.1 1035.6,638.7 1036.2,638.3 1036.7,638.0 1037.3,637.6 1037.9,637.2 1038.4,636.8 1039.0,636.4 1039.6,636.1 1040.1,635.8 1040.7,635.4 1041.2,635.0 1041.8,634.7 1042.4,634.3 1042.9,634.0 1043.5,633.6 1044.0,633.3 1044.6,633.0 1045.2,632.7 1045.7,632.4 1046.3,632.0 1046.8,631.7 1047.4,631.4 1048.0,631.2 1048.5,630.9 1049.1,630.6 1049.6,630.3 1050.2,630.0 1050.8,629.7 1051.3,629.4 1051.9,629.1 1052.4,628.8 1053.0,628.5 1053.6,628.2 1054.1,627.9 1054.7,627.5 1055.3,627.2 1055.8,626.8 1056.4,626.4 1056.9,626.1 1057.5,625.7 1058.1,625.3 1058.6,624.9 1059.2,624.4 1059.7,624.0 1060.3,623.6 1060.9,623.1 1061.4,622.7 1062.0,622.3 1062.5,621.8 1063.1,621.3 1063.7,620.8 1064.2,620.3 1064.8,619.7 1065.3,619.2 1065.9,618.6 1066.5,618.1 1067.0,617.5 1067.6,616.9 1068.1,616.3 1068.7,615.8 1069.3,615.2 1069.8,614.6 1070.4,614.0 1071.0,613.4 1071.5,612.8 1072.1,612.2 1072.6,611.6 1073.2,611.1 1073.8,610.5 1074.3,609.8 1074.9,609.2 1075.4,608.5 1076.0,607.8 1076.6,607.1 1077.1,606.4 1077.7,605.6 1078.2,604.9 1078.8,604.2 1079.4,603.4 1079.9,602.7 1080.5,601.9 1081.0,601.2 1081.6,600.5 1082.2,599.8 1082.7,599.2 1083.3,598.6 1083.8,597.9 1084.4,597.3 1085.0,596.7 1085.5,596.2 1086.1,595.7 1086.7,595.2 1087.2,594.8 1087.8,594.5 1088.3,594.2 1088.9,593.9 1089.5,593.7 1090.0,593.6 1090.6,593.5 1091.1,593.4 1091.7,593.3 1092.3,593.2 1092.8,593.0 1093.4,592.8 1093.9,592.7 1094.5,592.5 1095.1,592.2 1095.6,592.0 1096.2,591.8 1096.7,591.5 1097.3,591.2 1097.9,590.9 1098.4,590.7 1099.0,590.4 1099.5,590.3 1100.1,590.1 1100.7,589.9 1101.2,589.8 1101.8,589.6 1102.4,589.3 1102.9,589.1 1103.5,588.8 1104.0,588.5 1104.6,588.2 1105.2,587.9 1105.7,587.6 1106.3,587.2 1106.8,586.9 1107.4,586.5 1108.0,586.1 1108.5,585.7 1109.1,585.3 1109.6,584.9 1110.2,584.5 1110.8,584.0 1111.3,583.5 1111.9,583.0 1112.4,582.5 1113.0,582.0 1113.6,581.4 1114.1,581.0 1114.7,580.5 1115.2,579.9 1115.8,579.4 1116.4,578.9 1116.9,578.4 1117.5,577.8 1118.0,577.2 1118.6,576.7 1119.2,576.1 1119.7,575.5 1120.3,574.9 1120.9,574.3 1121.4,573.7 1122.0,573.1 1122.5,572.5 1123.1,571.8 1123.7,571.2 1124.2,570.5 1124.8,569.9 1125.3,569.2 1125.9,568.6 1126.5,567.9 1127.0,567.2 1127.6,566.4 1128.1,565.7 1128.7,564.9 1129.3,564.0 1129.8,563.1 1130.4,562.2 1130.9,561.3 1131.5,560.4 1132.1,559.3 1132.6,558.3 1133.2,557.2 1133.7,556.1 1134.3,555.0 1134.9,553.9 1135.4,552.9 1136.0,551.8 1136.6,550.8 1137.1,549.8 1137.7,548.8 1138.2,547.7 1138.8,546.7 1139.4,545.6 1139.9,544.6 1140.5,543.5 1141.0,542.4 1141.6,541.3 1142.2,540.2 1142.7,539.0 1143.3,537.9 1143.8,536.8 1144.4,535.8 1145.0,534.8 1145.5,533.7 1146.1,532.7 1146.6,531.6 1147.2,530.6 1147.8,529.6 1148.3,528.6 1148.9,527.7 1149.4,526.7 1150.0,525.7 1150.6,524.8 1151.1,523.8 1151.7,522.8 1152.3,521.8 1152.8,520.8 1153.4,519.9 1153.9,518.9 1154.5,518.0 1155.1,517.0 1155.6,516.1 1156.2,515.2 1156.7,514.2 1157.3,513.4 1157.9,512.6 1158.4,511.8 1159.0,511.0 1159.5,510.2 1160.1,509.4 1160.7,508.7 1161.2,507.9 1161.8,507.0 1162.3,506.2 1162.9,505.4 1163.5,504.6 1164.0,503.8 1164.6,503.0 1165.1,502.1 1165.7,501.2 1166.3,500.3 1166.8,499.3 1167.4,498.4 1168.0,497.4 1168.5,496.5 1169.1,495.6 1169.6,494.7 1170.2,493.8 1170.8,493.0 1171.3,492.1 1171.9,491.2 1172.4,490.3 1173.0,489.5 1173.6,488.6 1174.1,487.7 1174.7,486.8 1175.2,485.9 1175.8,485.0 1176.4,484.0 1176.9,483.1 1177.5,482.2 1178.0,481.3 1178.6,480.4 1179.2,479.5 1179.7,478.6 1180.3,477.7 1180.8,476.8 1181.4,476.0 1182.0,475.1 1182.5,474.3 1183.1,473.5 1183.7,472.7 1184.2,471.9 1184.8,471.1 1185.3,470.2 1185.9,469.4 1186.5,468.5 1187.0,467.6 1187.6,466.7 1188.1,465.8 1188.7,464.9 1189.3,464.0 1189.8,463.1 1190.4,462.2 1190.9,461.2 1191.5,460.3 1192.1,459.3 1192.6,458.3 1193.2,457.4 1193.7,456.4 1194.3,455.5 1194.9,454.5 1195.4,453.5 1196.0,452.5 1196.5,451.5 1197.1,450.5 1197.7,449.5 1198.2,448.5 1198.8,447.5 1199.4,446.5 1199.9,445.4 1200.5,444.3 1201.0,443.3 1201.6,442.2 1202.2,441.1 1202.7,439.9 1203.3,438.8 1203.8,437.7 1204.4,436.5 1205.0,435.3 1205.5,434.1 1206.1,432.9 1206.6,431.8 1207.2,430.6 1207.8,429.4 1208.3,428.3 1208.9,427.1 1209.4,426.0 1210.0,424.9 1210.6,423.8 1211.1,422.8 1211.7,421.7 1212.2,420.6 1212.8,419.4 1213.4,418.2 1213.9,417.0 1214.5,415.9 1215.1,414.8 1215.6,413.7 1216.2,412.7 1216.7,411.7 1217.3,410.8 1217.9,409.9 1218.4,409.0 1219.0,408.2 1219.5,407.5 1220.1,406.8 1220.7,406.1 1221.2,405.4 1221.8,404.8 1222.3,404.2 1222.9,403.6 1223.5,403.0 1224.0,402.5 1224.6,402.0 1225.1,401.5 1225.7,401.0 1226.3,400.6 1226.8,400.1 1227.4,399.7 1227.9,399.1 1228.5,398.5 1229.1,397.9 1229.6,397.2 1230.2,396.5 1230.8,395.7 1231.3,394.9 1231.9,394.1 1232.4,393.3 1233.0,392.5 1233.6,391.7 1234.1,390.9 1234.7,390.2 1235.2,389.4 1235.8,388.6 1236.4,387.8 1236.9,387.1 1237.5,386.3 1238.0,385.6 1238.6,384.8 1239.2,384.0 1239.7,383.1 1240.3,382.2 1240.8,381.3 1241.4,380.5 1242.0,379.6 1242.5,378.8 1243.1,377.9 1243.6,377.1 1244.2,376.2 1244.8,375.4 1245.3,374.6 1245.9,373.8 1246.5,373.0 1247.0,372.2 1247.6,371.5 1248.1,370.6 1248.7,369.8 1249.3,369.0 1249.8,368.2 1250.4,367.3 1250.9,366.5 1251.5,365.6 1252.1,364.6 1252.6,363.6 1253.2,362.7 1253.7,361.7 1254.3,360.7 1254.9,359.7 1255.4,358.7 1256.0,357.7 1256.5,356.6 1257.1,355.7 1257.7,354.7 1258.2,353.7 1258.8,352.8 1259.3,351.8 1259.9,350.9 1260.5,349.9 1261.0,349.0 1261.6,348.0 1262.2,347.0 1262.7,346.0 1263.3,345.0 1263.8,344.1 1264.4,343.1 1265.0,342.1 1265.5,341.0 1266.1,340.0 1266.6,339.0 1267.2,338.1 1267.8,337.1 1268.3,336.2 1268.9,335.2 1269.4,334.3 1270.0,333.5 1270.6,332.6 1271.1,331.8 1271.7,331.1 1272.2,330.5 1272.8,329.9 1273.4,329.3 1273.9,328.8 1274.5,328.2 1275.0,327.6 1275.6,327.0 1276.2,326.4 1276.7,325.7 1277.3,325.0 1277.9,324.3 1278.4,323.7 1279.0,323.0 1279.5,322.4 1280.1,321.7 1280.7,321.1 1281.2,320.5 1281.8,320.0 1282.3,319.5 1282.9,319.0 1283.5,318.5 1284.0,318.0 1284.6,317.5 1285.1,316.9 1285.7,316.4 1286.3,315.9 1286.8,315.4 1287.4,314.9 1287.9,314.4 1288.5,313.9 1289.1,313.4 1289.6,312.9 1290.2,312.4 1290.7,312.0 1291.3,311.6 1291.9,311.2 1292.4,310.8 1293.0,310.4 1293.6,310.0 1294.1,309.5 1294.7,309.1 1295.2,308.6 1295.8,308.2 1296.4,307.7 1296.9,307.3 1297.5,306.8 1298.0,306.2 1298.6,305.7 1299.2,305.2 1299.7,304.6 1300.3,304.1 1300.8,303.5 1301.4,303.0 1302.0,302.5 1302.5,302.0 1303.1,301.4 1303.6,300.9 1304.2,300.4 1304.8,299.9 1305.3,299.4 1305.9,298.9 1306.4,298.5 1307.0,298.0 1307.6,297.4 1308.1,296.9 1308.7,296.4 1309.3,295.9 1309.8,295.3 1310.4,294.7 1310.9,294.1 1311.5,293.5 1312.1,292.9 1312.6,292.3 1313.2,291.7 1313.7,291.1 1314.3,290.5 1314.9,289.9 1315.4,289.3 1316.0,288.7 1316.5,288.2 1317.1,287.5 1317.7,287.0 1318.2,286.4 1318.8,285.8 1319.3,285.1 1319.9,284.5 1320.5,283.8 1321.0,283.2 1321.6,282.5 1322.1,281.8 1322.7,281.1 1323.3,280.4 1323.8,279.7 1324.4,279.0 1325.0,278.3 1325.5,277.7 1326.1,277.0 1326.6,276.4 1327.2,275.8 1327.8,275.2 1328.3,274.5 1328.9,273.9 1329.4,273.3 1330.0,272.7 1330.6,272.1 1331.1,271.5 1331.7,270.9 1332.2,270.4 1332.8,269.9 1333.4,269.5 1333.9,269.0 1334.5,268.6 1335.0,268.2 1335.6,267.9 1336.2,267.6 1336.7,267.3 1337.3,267.0 1337.8,266.7 1338.4,266.5 1339.0,266.3 1339.5,266.2 1340.1,266.0 1340.7,266.0 1341.2,266.0 1341.8,265.9 1342.3,266.0 1342.9,266.0 1343.5,266.0 1344.0,266.1 1344.6,266.2 1345.1,266.5 1345.7,266.7 1346.3,266.9 1346.8,267.2 1347.4,267.5 1347.9,267.8 1348.5,268.1 1349.1,268.3 1349.6,268.6 1350.2,268.9 1350.7,269.2 1351.3,269.5 1351.9,269.8 1352.4,270.2 1353.0,270.6 1353.5,271.0 1354.1,271.4 1354.7,271.8 1355.2,272.3 1355.8,272.6 1356.4,273.0 1356.9,273.4 1357.5,273.7 1358.0,274.1 1358.6,274.4 1359.2,274.7 1359.7,274.9 1360.3,275.1 1360.8,275.3 1361.4,275.5 1362.0,275.7 1362.5,275.9 1363.1,276.0 1363.6,276.2 1364.2,276.2 1364.8,276.3 1365.3,276.4 1365.9,276.4 1366.4,276.5 1367.0,276.5 1367.6,276.5 1368.1,276.6 1368.7,276.7 1369.2,276.8 1369.8,276.9 1370.4,277.1 1370.9,277.3 1371.5,277.5 1372.1,277.8 1372.6,278.0 1373.2,278.3 1373.7,278.6 1374.3,278.9 1374.9,279.2 1375.4,279.6 1376.0,280.1 1376.5,280.6 1377.1,281.1 1377.7,281.6 1378.2,282.1 1378.8,282.7 1379.3,283.2 1379.9,283.7 1380.5,284.3 1381.0,284.8 1381.6,285.3 1382.1,285.9 1382.7,286.5 1383.3,287.0 1383.8,287.6 1384.4,288.2 1384.9,288.7 1385.5,289.3 1386.1,289.8 1386.6,290.4 1387.2,290.9 1387.8,291.4 1388.3,291.9 1388.9,292.4 1389.4,293.0 1390.0,293.5 1390.6,294.0 1391.1,294.6 1391.7,295.2 1392.2,295.8 1392.8,296.4 1393.4,297.0 1393.9,297.6 1394.5,298.2 1395.0,298.7 1395.6,299.3" fill="none" stroke="#c31fe0" stroke-width="1.3" stroke-linejoin="round" stroke-opacity="1"/>
<polyline points="0.0,804.4 0.6,804.5 1.1,804.6 1.7,804.7 2.2,804.8 2.8,804.9 3.4,805.0 3.9,805.1 4.5,805.2 5.0,805.4 5.6,805.5 6.2,805.6 6.7,805.7 7.3,805.8 7.8,805.9 8.4,806.0 9.0,806.1 9.5,806.2 10.1,806.4 10.7,806.5 11.2,806.7 11.8,806.9 12.3,807.0 12.9,807.2 13.5,807.4 14.0,807.5 14.6,807.6 15.1,807.7 15.7,807.8 16.3,807.9 16.8,808.0 17.4,808.0 17.9,808.1 18.5,808.1 19.1,808.2 19.6,808.3 20.2,808.3 20.7,808.4 21.3,808.5 21.9,808.5 22.4,808.6 23.0,808.6 23.5,808.7 24.1,808.8 24.7,808.8 25.2,808.9 25.8,808.9 26.4,808.9 26.9,809.0 27.5,809.0 28.0,809.0 28.6,809.1 29.2,809.1 29.7,809.1 30.3,809.1 30.8,809.1 31.4,809.1 32.0,809.1 32.5,809.0 33.1,809.1 33.6,809.1 34.2,809.0 34.8,809.1 35.3,809.1 35.9,809.0 36.4,809.0 37.0,809.0 37.6,809.0 38.1,809.0 38.7,809.0 39.2,809.0 39.8,809.0 40.4,808.9 40.9,809.0 41.5,809.0 42.1,809.0 42.6,809.0 43.2,809.0 43.7,809.1 44.3,809.1 44.9,809.1 45.4,809.2 46.0,809.2 46.5,809.2 47.1,809.3 47.7,809.3 48.2,809.4 48.8,809.4 49.3,809.4 49.9,809.4 50.5,809.4 51.0,809.4 51.6,809.3 52.1,809.3 52.7,809.2 53.3,809.2 53.8,809.2 54.4,809.2 54.9,809.2 55.5,809.1 56.1,809.1 56.6,809.1 57.2,809.0 57.8,809.0 58.3,808.9 58.9,808.9 59.4,808.9 60.0,808.9 60.6,808.9 61.1,809.0 61.7,809.0 62.2,809.0 62.8,809.0 63.4,809.1 63.9,809.0 64.5,809.0 65.0,809.1 65.6,809.1 66.2,809.0 66.7,809.0 67.3,809.0 67.8,809.1 68.4,809.1 69.0,809.1 69.5,809.1 70.1,809.1 70.6,809.2 71.2,809.2 71.8,809.2 72.3,809.2 72.9,809.3 73.5,809.3 74.0,809.3 74.6,809.4 75.1,809.4 75.7,809.5 76.3,809.5 76.8,809.5 77.4,809.5 77.9,809.4 78.5,809.3 79.1,809.3 79.6,809.2 80.2,809.2 80.7,809.1 81.3,809.1 81.9,809.1 82.4,809.2 83.0,809.2 83.5,809.2 84.1,809.2 84.7,809.3 85.2,809.3 85.8,809.4 86.3,809.4 86.9,809.5 87.5,809.6 88.0,809.7 88.6,809.8 89.2,809.9 89.7,810.0 90.3,810.1 90.8,810.2 91.4,810.4 92.0,810.5 92.5,810.6 93.1,810.8 93.6,811.0 94.2,811.2 94.8,811.4 95.3,811.6 95.9,811.8 96.4,812.0 97.0,812.2 97.6,812.4 98.1,812.6 98.7,812.8 99.2,813.0 99.8,813.2 100.4,813.3 100.9,813.5 101.5,813.7 102.0,813.8 102.6,813.9 103.2,814.0 103.7,814.1 104.3,814.2 104.9,814.3 105.4,814.4 106.0,814.4 106.5,814.5 107.1,814.5 107.7,814.6 108.2,814.6 108.8,814.6 109.3,814.5 109.9,814.5 110.5,814.4 111.0,814.3 111.6,814.2 112.1,814.0 112.7,813.9 113.3,813.8 113.8,813.6 114.4,813.5 114.9,813.3 115.5,813.1 116.1,813.0 116.6,812.8 117.2,812.7 117.7,812.6 118.3,812.5 118.9,812.3 119.4,812.2 120.0,812.1 120.6,811.9 121.1,811.8 121.7,811.6 122.2,811.4 122.8,811.2 123.4,811.0 123.9,810.9 124.5,810.7 125.0,810.5 125.6,810.3 126.2,810.0 126.7,809.8 127.3,809.5 127.8,809.3 128.4,809.0 129.0,808.7 129.5,808.4 130.1,808.1 130.6,807.8 131.2,807.6 131.8,807.4 132.3,807.2 132.9,807.0 133.4,806.8 134.0,806.6 134.6,806.4 135.1,806.2 135.7,806.0 136.3,805.7 136.8,805.4 137.4,805.1 137.9,804.8 138.5,804.5 139.1,804.2 139.6,803.8 140.2,803.5 140.7,803.2 141.3,803.0 141.9,802.7 142.4,802.4 143.0,802.1 143.5,801.9 144.1,801.6 144.7,801.3 145.2,801.1 145.8,800.8 146.3,800.5 146.9,800.1 147.5,799.7 148.0,799.4 148.6,799.0 149.1,798.5 149.7,798.0 150.3,797.6 150.8,797.1 151.4,796.6 152.0,796.1 152.5,795.6 153.1,795.0 153.6,794.5 154.2,793.9 154.8,793.3 155.3,792.7 155.9,792.0 156.4,791.4 157.0,790.7 157.6,790.0 158.1,789.2 158.7,788.5 159.2,787.7 159.8,787.0 160.4,786.2 160.9,785.5 161.5,784.7 162.0,783.9 162.6,783.1 163.2,782.3 163.7,781.5 164.3,780.7 164.8,780.0 165.4,779.2 166.0,778.5 166.5,777.8 167.1,777.1 167.7,776.5 168.2,775.8 168.8,775.2 169.3,774.5 169.9,773.9 170.5,773.2 171.0,772.6 171.6,771.9 172.1,771.2 172.7,770.5 173.3,769.8 173.8,769.1 174.4,768.4 174.9,767.7 175.5,767.0 176.1,766.3 176.6,765.6 177.2,765.0 177.7,764.3 178.3,763.6 178.9,762.9 179.4,762.2 180.0,761.5 180.5,760.8 181.1,760.1 181.7,759.4 182.2,758.6 182.8,757.9 183.4,757.2 183.9,756.5 184.5,755.7 185.0,755.0 185.6,754.2 186.2,753.5 186.7,752.8 187.3,752.1 187.8,751.5 188.4,750.8 189.0,750.2 189.5,749.6 190.1,748.9 190.6,748.3 191.2,747.7 191.8,747.1 192.3,746.5 192.9,746.0 193.4,745.4 194.0,744.7 194.6,744.1 195.1,743.4 195.7,742.7 196.2,742.0 196.8,741.3 197.4,740.6 197.9,739.9 198.5,739.2 199.1,738.4 199.6,737.7 200.2,736.9 200.7,736.2 201.3,735.4 201.9,734.6 202.4,733.9 203.0,733.1 203.5,732.3 204.1,731.5 204.7,730.7 205.2,729.8 205.8,729.0 206.3,728.1 206.9,727.2 207.5,726.3 208.0,725.4 208.6,724.4 209.1,723.3 209.7,722.3 210.3,721.4 210.8,720.5 211.4,719.6 211.9,718.7 212.5,717.9 213.1,717.1 213.6,716.3 214.2,715.5 214.8,714.8 215.3,714.2 215.9,713.6 216.4,713.0 217.0,712.5 217.6,712.0 218.1,711.5 218.7,711.0 219.2,710.5 219.8,710.1 220.4,709.6 220.9,709.1 221.5,708.7 222.0,708.2 222.6,707.8 223.2,707.4 223.7,706.9 224.3,706.5 224.8,706.1 225.4,705.7 226.0,705.3 226.5,704.8 227.1,704.3 227.6,703.9 228.2,703.5 228.8,703.1 229.3,702.7 229.9,702.4 230.5,702.1 231.0,701.8 231.6,701.5 232.1,701.1 232.7,700.7 233.3,700.4 233.8,700.0 234.4,699.6 234.9,699.2 235.5,698.7 236.1,698.3 236.6,697.8 237.2,697.4 237.7,696.9 238.3,696.5 238.9,696.1 239.4,695.7 240.0,695.3 240.5,694.9 241.1,694.5 241.7,694.1 242.2,693.7 242.8,693.3 243.3,692.9 243.9,692.4 244.5,692.0 245.0,691.6 245.6,691.2 246.2,690.7 246.7,690.3 247.3,689.9 247.8,689.4 248.4,688.9 249.0,688.4 249.5,688.0 250.1,687.5 250.6,686.9 251.2,686.4 251.8,685.9 252.3,685.3 252.9,684.7 253.4,684.2 254.0,683.6 254.6,682.9 255.1,682.2 255.7,681.5 256.2,680.8 256.8,680.2 257.4,679.6 257.9,678.9 258.5,678.3 259.0,677.6 259.6,677.0 260.2,676.5 260.7,675.9 261.3,675.4 261.9,675.0 262.4,674.6 263.0,674.3 263.5,674.0 264.1,673.7 264.7,673.4 265.2,673.1 265.8,672.8 266.3,672.4 266.9,672.1 267.5,671.8 268.0,671.5 268.6,671.2 269.1,670.9 269.7,670.7 270.3,670.5 270.8,670.3 271.4,670.1 271.9,670.0 272.5,670.0 273.1,669.9 273.6,669.8 274.2,669.8 274.7,669.8 275.3,669.9 275.9,669.9 276.4,670.0 277.0,670.1 277.6,670.1 278.1,670.1 278.7,670.1 279.2,670.1 279.8,670.0 280.4,670.0 280.9,669.9 281.5,669.9 282.0,669.8 282.6,669.6 283.2,669.5 283.7,669.4 284.3,669.2 284.8,669.1 285.4,668.9 286.0,668.9 286.5,668.8 287.1,668.7 287.6,668.6 288.2,668.5 288.8,668.5 289.3,668.5 289.9,668.5 290.4,668.5 291.0,668.5 291.6,668.5 292.1,668.5 292.7,668.5 293.2,668.6 293.8,668.6 294.4,668.7 294.9,668.7 295.5,668.6 296.1,668.6 296.6,668.5 297.2,668.3 297.7,668.1 298.3,667.9 298.9,667.7 299.4,667.4 300.0,667.2 300.5,667.0 301.1,666.8 301.7,666.5 302.2,666.3 302.8,666.1 303.3,665.9 303.9,665.7 304.5,665.6 305.0,665.4 305.6,665.3 306.1,665.1 306.7,664.9 307.3,664.8 307.8,664.7 308.4,664.5 308.9,664.4 309.5,664.2 310.1,664.1 310.6,664.1 311.2,664.0 311.8,664.0 312.3,664.0 312.9,664.0 313.4,664.0 314.0,664.1 314.6,664.2 315.1,664.4 315.7,664.6 316.2,664.8 316.8,665.1 317.4,665.4 317.9,665.7 318.5,666.0 319.0,666.4 319.6,666.8 320.2,667.1 320.7,667.4 321.3,667.8 321.8,668.2 322.4,668.5 323.0,668.9 323.5,669.2 324.1,669.5 324.6,669.7 325.2,670.0 325.8,670.2 326.3,670.4 326.9,670.6 327.5,670.7 328.0,670.8 328.6,670.9 329.1,670.9 329.7,670.9 330.3,670.9 330.8,670.8 331.4,670.7 331.9,670.7 332.5,670.6 333.1,670.5 333.6,670.4 334.2,670.4 334.7,670.4 335.3,670.3 335.9,670.2 336.4,670.0 337.0,669.9 337.5,669.6 338.1,669.4 338.7,669.2 339.2,668.9 339.8,668.6 340.3,668.4 340.9,668.2 341.5,668.0 342.0,667.7 342.6,667.4 343.2,667.2 343.7,666.9 344.3,666.6 344.8,666.3 345.4,666.0 346.0,665.7 346.5,665.3 347.1,665.0 347.6,664.7 348.2,664.4 348.8,664.0 349.3,663.7 349.9,663.3 350.4,663.0 351.0,662.6 351.6,662.3 352.1,661.9 352.7,661.6 353.2,661.2 353.8,660.8 354.4,660.4 354.9,660.1 355.5,659.6 356.0,659.2 356.6,658.7 357.2,658.3 357.7,657.9 358.3,657.5 358.9,657.0 359.4,656.7 360.0,656.3 360.5,655.9 361.1,655.6 361.7,655.2 362.2,654.8 362.8,654.4 363.3,654.0 363.9,653.6 364.5,653.2 365.0,652.8 365.6,652.4 366.1,652.1 366.7,651.7 367.3,651.3 367.8,650.9 368.4,650.5 368.9,650.1 369.5,649.7 370.1,649.3 370.6,648.8 371.2,648.3 371.7,647.7 372.3,647.2 372.9,646.8 373.4,646.3 374.0,646.0 374.6,645.6 375.1,645.2 375.7,644.9 376.2,644.6 376.8,644.3 377.4,644.1 377.9,643.8 378.5,643.6 379.0,643.3 379.6,643.1 380.2,642.8 380.7,642.6 381.3,642.2 381.8,641.8 382.4,641.3 383.0,640.8 383.5,640.2 384.1,639.6 384.6,638.9 385.2,638.2 385.8,637.6 386.3,636.9 386.9,636.2 387.4,635.4 388.0,634.7 388.6,634.0 389.1,633.3 389.7,632.6 390.3,632.0 390.8,631.3 391.4,630.5 391.9,629.8 392.5,629.2 393.1,628.5 393.6,627.8 394.2,627.1 394.7,626.4 395.3,625.7 395.9,625.0 396.4,624.3 397.0,623.6 397.5,622.9 398.1,622.2 398.7,621.4 399.2,620.7 399.8,619.9 400.3,619.1 400.9,618.2 401.5,617.3 402.0,616.3 402.6,615.2 403.1,614.1 403.7,612.9 404.3,611.7 404.8,610.5 405.4,609.3 406.0,608.0 406.5,606.6 407.1,605.2 407.6,603.6 408.2,602.0 408.8,600.2 409.3,598.7 409.9,597.1 410.4,595.6 411.0,593.9 411.6,592.2 412.1,590.5 412.7,588.8 413.2,587.0 413.8,585.4 414.4,583.7 414.9,582.0 415.5,580.1 416.0,578.3 416.6,576.4 417.2,574.4 417.7,572.3 418.3,570.1 418.8,568.0 419.4,565.8 420.0,563.6 420.5,561.4 421.1,559.2 421.7,556.9 422.2,554.5 422.8,552.1 423.3,549.7 423.9,547.2 424.5,544.5 425.0,541.7 425.6,538.8 426.1,535.8 426.7,532.7 427.3,529.7 427.8,526.5 428.4,523.2 428.9,519.9 429.5,516.4 430.1,512.9 430.6,509.3 431.2,505.6 431.7,501.8 432.3,497.9 432.9,494.0 433.4,490.3 434.0,486.6 434.5,482.5 435.1,478.3 435.7,474.1 436.2,470.0 436.8,465.9 437.4,461.9 437.9,458.1 438.5,454.4 439.0,450.6 439.6,446.6 440.2,442.9 440.7,439.3 441.3,435.5 441.8,432.1 442.4,429.0 443.0,425.8 443.5,422.6 444.1,419.4 444.6,416.5 445.2,414.0 445.8,411.8 446.3,409.4 446.9,407.1 447.4,405.0 448.0,403.1 448.6,401.3 449.1,399.9 449.7,398.4 450.2,396.9 450.8,395.2 451.4,393.4 451.9,391.4 452.5,389.7 453.1,388.1 453.6,386.2 454.2,384.1 454.7,382.0 455.3,379.7 455.9,377.4 456.4,375.4 457.0,373.6 457.5,372.1 458.1,370.5 458.7,369.1 459.2,367.9 459.8,366.7 460.3,365.4 460.9,364.1 461.5,362.8 462.0,361.5 462.6,360.1 463.1,358.7 463.7,357.3 464.3,355.8 464.8,354.4 465.4,353.0 465.9,351.7 466.5,350.4 467.1,349.4 467.6,348.6 468.2,348.2 468.8,348.2 469.3,348.4 469.9,348.5 470.4,348.5 471.0,348.8 471.6,349.2 472.1,349.8 472.7,350.3 473.2,351.0 473.8,351.6 474.4,352.1 474.9,352.8 475.5,353.7 476.0,354.7 476.6,355.6 477.2,356.4 477.7,357.2 478.3,358.0 478.8,358.8 479.4,359.5 480.0,360.2 480.5,361.0 481.1,361.7 481.6,362.5 482.2,363.1 482.8,363.8 483.3,364.4 483.9,365.0 484.5,365.6 485.0,366.2 485.6,366.9 486.1,367.5 486.7,368.0 487.3,368.5 487.8,369.0 488.4,369.3 488.9,369.7 489.5,370.1 490.1,370.5 490.6,371.1 491.2,371.7 491.7,372.6 492.3,373.3 492.9,374.2 493.4,375.2 494.0,376.1 494.5,377.0 495.1,378.0 495.7,379.1 496.2,380.2 496.8,381.5 497.3,382.7 497.9,384.1 498.5,385.5 499.0,387.1 499.6,388.7 500.2,390.4 500.7,391.8 501.3,393.2 501.8,395.0 502.4,397.3 503.0,399.6 503.5,401.8 504.1,404.0 504.6,406.1 505.2,408.0 505.8,409.9 506.3,411.8 506.9,413.9 507.4,415.7 508.0,417.2 508.6,418.9 509.1,420.2 509.7,421.1 510.2,422.1 510.8,423.1 511.4,424.1 511.9,424.7 512.5,425.0 513.0,425.0 513.6,425.2 514.2,425.2 514.7,425.1 515.3,424.8 515.9,424.3 516.4,424.0 517.0,423.8 517.5,424.0 518.1,424.5 518.7,425.3 519.2,426.2 519.8,427.0 520.3,427.9 520.9,429.0 521.5,430.4 522.0,432.0 522.6,433.7 523.1,435.4 523.7,436.9 524.3,438.2 524.8,439.3 525.4,440.4 525.9,441.4 526.5,442.3 527.1,443.2 527.6,444.0 528.2,444.9 528.7,445.8 529.3,446.6 529.9,447.5 530.4,448.4 531.0,449.2 531.6,450.0 532.1,450.8 532.7,451.6 533.2,452.1 533.8,452.8 534.4,453.5 534.9,454.0 535.5,454.1 536.0,454.1 536.6,454.0 537.2,454.1 537.7,454.4 538.3,454.6 538.8,454.7 539.4,454.6 540.0,454.5 540.5,454.3 541.1,454.2 541.6,454.2 542.2,454.1 542.8,453.8 543.3,453.3 543.9,452.7 544.4,452.3 545.0,451.7 545.6,451.3 546.1,450.9 546.7,450.6 547.3,450.2 547.8,449.9 548.4,449.5 548.9,449.2 549.5,448.8 550.1,448.6 550.6,448.4 551.2,448.3 551.7,448.4 552.3,448.4 552.9,448.5 553.4,448.7 554.0,449.0 554.5,449.3 555.1,449.7 555.7,450.2 556.2,450.9 556.8,451.6 557.3,452.4 557.9,453.2 558.5,454.0 559.0,454.7 559.6,455.5 560.1,456.2 560.7,457.0 561.3,457.8 561.8,458.7 562.4,459.6 562.9,460.6 563.5,461.7 564.1,462.8 564.6,464.0 565.2,465.2 565.8,466.4 566.3,467.7 566.9,469.1 567.4,470.5 568.0,471.9 568.6,473.3 569.1,474.7 569.7,475.7 570.2,476.7 570.8,477.6 571.4,478.5 571.9,479.3 572.5,480.1 573.0,480.9 573.6,481.7 574.2,482.6 574.7,483.7 575.3,484.8 575.8,485.9 576.4,487.0 577.0,488.2 577.5,489.4 578.1,490.7 578.6,491.9 579.2,493.1 579.8,494.2 580.3,495.2 580.9,496.2 581.5,497.2 582.0,498.1 582.6,499.2 583.1,500.1 583.7,500.7 584.3,501.2 584.8,501.4 585.4,501.4 585.9,501.4 586.5,501.4 587.1,501.2 587.6,500.8 588.2,500.6 588.7,500.2 589.3,499.8 589.9,499.4 590.4,499.0 591.0,498.6 591.5,498.2 592.1,497.8 592.7,497.5 593.2,497.0 593.8,496.7 594.3,496.3 594.9,496.0 595.5,495.9 596.0,495.7 596.6,495.6 597.2,495.6 597.7,495.6 598.3,495.6 598.8,495.6 599.4,495.7 600.0,495.9 600.5,496.0 601.1,496.1 601.6,495.9 602.2,495.8 602.8,495.6 603.3,495.2 603.9,494.9 604.4,494.5 605.0,494.0 605.6,493.5 606.1,493.0 606.7,492.5 607.2,492.0 607.8,491.6 608.4,491.2 608.9,490.8 609.5,490.6 610.0,490.4 610.6,490.3 611.2,490.2 611.7,490.2 612.3,490.3 612.9,490.4 613.4,490.5 614.0,490.6 614.5,490.8 615.1,491.0 615.7,491.2 616.2,491.4 616.8,491.7 617.3,492.0 617.9,492.2 618.5,492.4 619.0,492.7 619.6,492.9 620.1,493.1 620.7,493.3 621.3,493.4 621.8,493.5 622.4,493.6 622.9,493.7 623.5,493.8 624.1,493.7 624.6,493.7 625.2,493.6 625.7,493.6 626.3,493.5 626.9,493.5 627.4,493.6 628.0,493.6 628.6,493.7 629.1,493.8 629.7,493.9 630.2,493.9 630.8,493.9 631.4,493.9 631.9,493.9 632.5,493.7 633.0,493.6 633.6,493.4 634.2,493.2 634.7,493.0 635.3,492.9 635.8,492.6 636.4,492.4 637.0,492.2 637.5,492.1 638.1,492.1 638.6,492.1 639.2,492.2 639.8,492.3 640.3,492.4 640.9,492.5 641.4,492.5 642.0,492.5 642.6,492.5 643.1,492.4 643.7,492.3 644.3,492.4 644.8,492.4 645.4,492.5 645.9,492.6 646.5,492.8 647.1,493.1 647.6,493.5 648.2,493.9 648.7,494.3 649.3,494.7 649.9,495.1 650.4,495.5 651.0,495.9 651.5,496.4 652.1,496.8 652.7,497.3 653.2,497.8 653.8,498.2 654.3,498.8 654.9,499.4 655.5,500.0 656.0,500.6 656.6,501.1 657.1,501.7 657.7,502.3 658.3,503.0 658.8,503.6 659.4,504.2 660.0,504.7 660.5,505.3 661.1,505.8 661.6,506.3 662.2,506.9 662.8,507.4 663.3,507.9 663.9,508.3 664.4,508.7 665.0,509.2 665.6,509.6 666.1,510.1 666.7,510.5 667.2,510.9 667.8,511.4 668.4,511.9 668.9,512.4 669.5,512.9 670.0,513.4 670.6,514.0 671.2,514.4 671.7,514.9 672.3,515.3 672.8,515.7 673.4,516.1 674.0,516.5 674.5,516.9 675.1,517.3 675.7,517.7 676.2,518.2 676.8,518.6 677.3,519.1 677.9,519.5 678.5,520.0 679.0,520.3 679.6,520.7 680.1,521.1 680.7,521.5 681.3,521.9 681.8,522.4 682.4,522.8 682.9,523.1 683.5,523.5 684.1,523.8 684.6,524.2 685.2,524.7 685.7,525.2 686.3,525.6 686.9,526.1 687.4,526.6 688.0,527.1 688.5,527.6 689.1,528.1 689.7,528.7 690.2,529.2 690.8,529.8 691.4,530.3 691.9,530.9 692.5,531.5 693.0,532.1 693.6,532.7 694.2,533.3 694.7,533.8 695.3,534.4 695.8,535.0 696.4,535.5 697.0,536.1 697.5,536.8 698.1,537.3 698.6,537.9 699.2,538.6 699.8,539.3 700.3,539.9 700.9,540.6 701.4,541.3 702.0,541.9 702.6,542.6 703.1,543.4 703.7,544.1 704.2,544.9 704.8,545.6 705.4,546.3 705.9,547.0 706.5,547.7 707.1,548.5 707.6,549.2 708.2,550.0 708.7,550.7 709.3,551.3 709.9,552.0 710.4,552.7 711.0,553.3 711.5,553.8 712.1,554.3 712.7,554.8 713.2,555.2 713.8,555.6 714.3,555.9 714.9,556.3 715.5,556.6 716.0,556.9 716.6,557.2 717.1,557.5 717.7,557.8 718.3,558.1 718.8,558.5 719.4,558.8 719.9,559.1 720.5,559.4 721.1,559.7 721.6,559.9 722.2,560.2 722.8,560.4 723.3,560.7 723.9,561.0 724.4,561.3 725.0,561.6 725.6,561.9 726.1,562.1 726.7,562.4 727.2,562.8 727.8,563.1 728.4,563.5 728.9,563.8 729.5,564.1 730.0,564.4 730.6,564.7 731.2,565.0 731.7,565.2 732.3,565.5 732.8,565.8 733.4,566.0 734.0,566.3 734.5,566.5 735.1,566.8 735.6,567.0 736.2,567.2 736.8,567.4 737.3,567.6 737.9,567.8 738.5,568.0 739.0,568.2 739.6,568.4 740.1,568.6 740.7,568.9 741.3,569.2 741.8,569.5 742.4,569.7 742.9,569.9 743.5,570.1 744.1,570.3 744.6,570.4 745.2,570.5 745.7,570.6 746.3,570.8 746.9,570.9 747.4,571.0 748.0,571.1 748.5,571.3 749.1,571.4 749.7,571.6 750.2,571.7 750.8,571.9 751.3,572.0 751.9,572.1 752.5,572.2 753.0,572.3 753.6,572.3 754.2,572.4 754.7,572.5 755.3,572.5 755.8,572.5 756.4,572.5 757.0,572.5 757.5,572.5 758.1,572.4 758.6,572.3 759.2,572.2 759.8,572.2 760.3,572.1 760.9,572.1 761.4,572.0 762.0,571.9 762.6,571.7 763.1,571.6 763.7,571.5 764.2,571.4 764.8,571.2 765.4,571.1 765.9,571.0 766.5,570.8 767.0,570.6 767.6,570.5 768.2,570.3 768.7,570.0 769.3,569.8 769.9,569.6 770.4,569.3 771.0,569.1 771.5,568.9 772.1,568.7 772.7,568.5 773.2,568.4 773.8,568.2 774.3,568.1 774.9,567.9 775.5,567.8 776.0,567.8 776.6,567.8 777.1,567.8 777.7,567.8 778.3,567.9 778.8,568.0 779.4,568.1 779.9,568.1 780.5,568.1 781.1,568.2 781.6,568.2 782.2,568.3 782.7,568.3 783.3,568.4 783.9,568.6 784.4,568.6 785.0,568.7 785.6,568.7 786.1,568.8 786.7,568.8 787.2,569.0 787.8,569.1 788.4,569.2 788.9,569.3 789.5,569.4 790.0,569.4 790.6,569.4 791.2,569.4 791.7,569.4 792.3,569.3 792.8,569.2 793.4,569.2 794.0,569.1 794.5,569.0 795.1,568.9 795.6,568.7 796.2,568.6 796.8,568.5 797.3,568.4 797.9,568.2 798.4,568.2 799.0,568.0 799.6,567.9 800.1,567.8 800.7,567.8 801.3,567.8 801.8,567.9 802.4,568.0 802.9,568.1 803.5,568.3 804.1,568.6 804.6,568.8 805.2,569.1 805.7,569.4 806.3,569.8 806.9,570.1 807.4,570.4 808.0,570.6 808.5,570.8 809.1,571.0 809.7,571.2 810.2,571.5 810.8,571.8 811.3,572.0 811.9,572.1 812.5,572.3 813.0,572.4 813.6,572.5 814.1,572.6 814.7,572.7 815.3,572.8 815.8,572.9 816.4,573.0 817.0,573.1 817.5,573.2 818.1,573.3 818.6,573.4 819.2,573.4 819.8,573.5 820.3,573.6 820.9,573.7 821.4,573.7 822.0,573.7 822.6,573.7 823.1,573.8 823.7,573.9 824.2,574.0 824.8,574.1 825.4,574.2 825.9,574.3 826.5,574.4 827.0,574.6 827.6,574.6 828.2,574.7 828.7,574.9 829.3,575.1 829.8,575.3 830.4,575.5 831.0,575.7 831.5,575.8 832.1,575.9 832.7,576.0 833.2,576.1 833.8,576.2 834.3,576.3 834.9,576.4 835.5,576.5 836.0,576.6 836.6,576.8 837.1,576.9 837.7,577.1 838.3,577.1 838.8,577.2 839.4,577.3 839.9,577.3 840.5,577.3 841.1,577.4 841.6,577.3 842.2,577.3 842.7,577.3 843.3,577.2 843.9,577.2 844.4,577.2 845.0,577.2 845.5,577.3 846.1,577.3 846.7,577.3 847.2,577.4 847.8,577.6 848.3,577.7 848.9,577.9 849.5,578.1 850.0,578.3 850.6,578.5 851.2,578.8 851.7,579.1 852.3,579.4 852.8,579.8 853.4,580.2 854.0,580.6 854.5,581.0 855.1,581.4 855.6,581.7 856.2,582.0 856.8,582.4 857.3,582.7 857.9,583.1 858.4,583.5 859.0,583.9 859.6,584.3 860.1,584.6 860.7,584.9 861.2,585.2 861.8,585.5 862.4,585.8 862.9,586.1 863.5,586.4 864.0,586.6 864.6,586.8 865.2,587.1 865.7,587.4 866.3,587.8 866.9,588.1 867.4,588.5 868.0,588.9 868.5,589.2 869.1,589.6 869.7,589.9 870.2,590.2 870.8,590.5 871.3,590.7 871.9,591.1 872.5,591.4 873.0,591.7 873.6,592.0 874.1,592.3 874.7,592.7 875.3,593.1 875.8,593.6 876.4,594.1 876.9,594.5 877.5,594.9 878.1,595.4 878.6,596.0 879.2,596.6 879.7,597.3 880.3,597.9 880.9,598.6 881.4,599.3 882.0,600.0 882.6,600.8 883.1,601.5 883.7,602.2 884.2,602.9 884.8,603.5 885.4,604.3 885.9,605.0 886.5,605.8 887.0,606.5 887.6,607.3 888.2,608.1 888.7,608.9 889.3,609.7 889.8,610.6 890.4,611.5 891.0,612.3 891.5,613.1 892.1,614.1 892.6,615.0 893.2,615.8 893.8,616.8 894.3,617.8 894.9,618.8 895.4,619.8 896.0,620.8 896.6,621.8 897.1,622.8 897.7,623.7 898.3,624.7 898.8,625.7 899.4,626.6 899.9,627.6 900.5,628.5 901.1,629.5 901.6,630.5 902.2,631.4 902.7,632.3 903.3,633.3 903.9,634.1 904.4,635.0 905.0,635.8 905.5,636.7 906.1,637.5 906.7,638.4 907.2,639.2 907.8,640.1 908.3,640.9 908.9,641.8 909.5,642.7 910.0,643.6 910.6,644.4 911.1,645.2 911.7,646.0 912.3,646.7 912.8,647.5 913.4,648.2 914.0,648.9 914.5,649.5 915.1,650.1 915.6,650.8 916.2,651.4 916.8,652.0 917.3,652.6 917.9,653.2 918.4,653.7 919.0,654.2 919.6,654.6 920.1,655.1 920.7,655.6 921.2,656.0 921.8,656.5 922.4,657.0 922.9,657.6 923.5,658.1 924.0,658.7 924.6,659.3 925.2,659.9 925.7,660.5 926.3,661.1 926.8,661.7 927.4,662.4 928.0,663.0 928.5,663.6 929.1,664.2 929.7,664.8 930.2,665.4 930.8,666.0 931.3,666.6 931.9,667.3 932.5,668.0 933.0,668.6 933.6,669.3 934.1,670.0 934.7,670.6 935.3,671.2 935.8,671.7 936.4,672.2 936.9,672.7 937.5,673.2 938.1,673.7 938.6,674.1 939.2,674.5 939.7,674.8 940.3,675.0 940.9,675.2 941.4,675.4 942.0,675.6 942.5,675.6 943.1,675.6 943.7,675.7 944.2,675.6 944.8,675.6 945.4,675.5 945.9,675.3 946.5,675.0 947.0,674.6 947.6,674.2 948.2,673.8 948.7,673.3 949.3,672.8 949.8,672.3 950.4,671.7 951.0,671.1 951.5,670.6 952.1,670.1 952.6,669.6 953.2,669.1 953.8,668.6 954.3,668.1 954.9,667.7 955.4,667.2 956.0,666.7 956.6,666.2 957.1,665.7 957.7,665.3 958.2,664.8 958.8,664.2 959.4,663.5 959.9,662.8 960.5,662.0 961.1,661.2 961.6,660.3 962.2,659.4 962.7,658.6 963.3,657.7 963.9,656.9 964.4,656.1 965.0,655.4 965.5,654.7 966.1,654.0 966.7,653.3 967.2,652.6 967.8,651.8 968.3,651.1 968.9,650.4 969.5,649.8 970.0,649.2 970.6,648.7 971.1,648.3 971.7,648.0 972.3,647.7 972.8,647.4 973.4,647.1 973.9,646.7 974.5,646.4 975.1,646.1 975.6,645.9 976.2,645.7 976.8,645.4 977.3,645.1 977.9,644.8 978.4,644.6 979.0,644.3 979.6,644.1 980.1,643.7 980.7,643.5 981.2,643.3 981.8,643.1 982.4,642.9 982.9,642.7 983.5,642.6 984.0,642.4 984.6,642.2 985.2,641.9 985.7,641.6 986.3,641.3 986.8,641.0 987.4,640.7 988.0,640.3 988.5,639.9 989.1,639.5 989.6,639.1 990.2,638.7 990.8,638.2 991.3,637.7 991.9,637.2 992.5,636.6 993.0,636.0 993.6,635.4 994.1,634.9 994.7,634.3 995.3,633.8 995.8,633.3 996.4,632.8 996.9,632.2 997.5,631.7 998.1,631.2 998.6,630.7 999.2,630.2 999.7,629.7 1000.3,629.2 1000.9,628.6 1001.4,628.1 1002.0,627.6 1002.5,627.0 1003.1,626.5 1003.7,625.9 1004.2,625.3 1004.8,624.8 1005.3,624.2 1005.9,623.8 1006.5,623.3 1007.0,622.9 1007.6,622.6 1008.2,622.2 1008.7,621.9 1009.3,621.7 1009.8,621.5 1010.4,621.3 1011.0,621.1 1011.5,620.9 1012.1,620.7 1012.6,620.5 1013.2,620.4 1013.8,620.4 1014.3,620.4 1014.9,620.4 1015.4,620.5 1016.0,620.7 1016.6,620.8 1017.1,620.9 1017.7,621.0 1018.2,621.1 1018.8,621.2 1019.4,621.2 1019.9,621.2 1020.5,621.1 1021.0,621.1 1021.6,621.1 1022.2,621.1 1022.7,621.0 1023.3,621.0 1023.9,620.9 1024.4,620.9 1025.0,620.8 1025.5,620.8 1026.1,620.9 1026.7,621.0 1027.2,621.2 1027.8,621.4 1028.3,621.6 1028.9,621.8 1029.5,621.9 1030.0,622.0 1030.6,622.1 1031.1,622.2 1031.7,622.2 1032.3,622.2 1032.8,622.2 1033.4,622.2 1033.9,622.2 1034.5,622.2 1035.1,622.2 1035.6,622.1 1036.2,622.1 1036.7,622.1 1037.3,621.9 1037.9,621.7 1038.4,621.5 1039.0,621.2 1039.6,620.9 1040.1,620.6 1040.7,620.3 1041.2,620.1 1041.8,619.7 1042.4,619.4 1042.9,619.0 1043.5,618.6 1044.0,618.2 1044.6,617.7 1045.2,617.3 1045.7,616.9 1046.3,616.5 1046.8,616.1 1047.4,615.7 1048.0,615.4 1048.5,615.0 1049.1,614.6 1049.6,614.2 1050.2,613.8 1050.8,613.4 1051.3,612.9 1051.9,612.5 1052.4,612.0 1053.0,611.6 1053.6,611.2 1054.1,610.8 1054.7,610.3 1055.3,609.9 1055.8,609.4 1056.4,608.9 1056.9,608.4 1057.5,608.0 1058.1,607.5 1058.6,607.0 1059.2,606.5 1059.7,606.1 1060.3,605.6 1060.9,605.1 1061.4,604.7 1062.0,604.3 1062.5,603.8 1063.1,603.2 1063.7,602.7 1064.2,602.2 1064.8,601.6 1065.3,601.1 1065.9,600.4 1066.5,599.8 1067.0,599.1 1067.6,598.5 1068.1,597.8 1068.7,597.1 1069.3,596.4 1069.8,595.7 1070.4,595.0 1071.0,594.3 1071.5,593.6 1072.1,592.9 1072.6,592.3 1073.2,591.6 1073.8,590.9 1074.3,590.1 1074.9,589.3 1075.4,588.4 1076.0,587.5 1076.6,586.5 1077.1,585.4 1077.7,584.4 1078.2,583.4 1078.8,582.4 1079.4,581.5 1079.9,580.5 1080.5,579.5 1081.0,578.5 1081.6,577.5 1082.2,576.5 1082.7,575.6 1083.3,574.6 1083.8,573.6 1084.4,572.6 1085.0,571.8 1085.5,571.0 1086.1,570.1 1086.7,569.3 1087.2,568.6 1087.8,568.0 1088.3,567.4 1088.9,566.9 1089.5,566.4 1090.0,566.0 1090.6,565.7 1091.1,565.3 1091.7,565.1 1092.3,564.8 1092.8,564.5 1093.4,564.1 1093.9,563.7 1094.5,563.2 1095.1,562.7 1095.6,562.2 1096.2,561.7 1096.7,561.1 1097.3,560.5 1097.9,560.0 1098.4,559.4 1099.0,558.8 1099.5,558.3 1100.1,557.8 1100.7,557.4 1101.2,556.8 1101.8,556.3 1102.4,555.7 1102.9,555.1 1103.5,554.5 1104.0,553.9 1104.6,553.3 1105.2,552.7 1105.7,552.1 1106.3,551.4 1106.8,550.7 1107.4,549.9 1108.0,549.2 1108.5,548.4 1109.1,547.6 1109.6,546.9 1110.2,546.1 1110.8,545.4 1111.3,544.6 1111.9,543.9 1112.4,543.1 1113.0,542.4 1113.6,541.6 1114.1,540.9 1114.7,540.2 1115.2,539.4 1115.8,538.7 1116.4,537.9 1116.9,537.2 1117.5,536.3 1118.0,535.5 1118.6,534.6 1119.2,533.8 1119.7,532.9 1120.3,532.1 1120.9,531.3 1121.4,530.4 1122.0,529.7 1122.5,528.9 1123.1,528.2 1123.7,527.5 1124.2,526.7 1124.8,525.9 1125.3,525.1 1125.9,524.3 1126.5,523.5 1127.0,522.5 1127.6,521.5 1128.1,520.5 1128.7,519.4 1129.3,518.2 1129.8,516.9 1130.4,515.6 1130.9,514.3 1131.5,512.9 1132.1,511.3 1132.6,509.6 1133.2,508.0 1133.7,506.3 1134.3,504.7 1134.9,503.1 1135.4,501.6 1136.0,500.2 1136.6,498.7 1137.1,497.3 1137.7,495.8 1138.2,494.4 1138.8,492.9 1139.4,491.5 1139.9,490.1 1140.5,488.5 1141.0,486.8 1141.6,485.2 1142.2,483.7 1142.7,482.2 1143.3,480.8 1143.8,479.5 1144.4,478.3 1145.0,477.2 1145.5,476.0 1146.1,474.8 1146.6,473.8 1147.2,472.9 1147.8,472.0 1148.3,471.0 1148.9,470.2 1149.4,469.3 1150.0,468.4 1150.6,467.5 1151.1,466.6 1151.7,465.6 1152.3,464.6 1152.8,463.6 1153.4,462.5 1153.9,461.5 1154.5,460.3 1155.1,459.1 1155.6,457.9 1156.2,456.5 1156.7,455.2 1157.3,453.8 1157.9,452.5 1158.4,451.2 1159.0,449.8 1159.5,448.4 1160.1,447.0 1160.7,445.7 1161.2,444.4 1161.8,443.1 1162.3,441.9 1162.9,440.7 1163.5,439.4 1164.0,438.2 1164.6,437.1 1165.1,435.8 1165.7,434.4 1166.3,433.1 1166.8,431.6 1167.4,430.1 1168.0,428.7 1168.5,427.3 1169.1,426.0 1169.6,424.8 1170.2,423.6 1170.8,422.5 1171.3,421.3 1171.9,420.1 1172.4,418.9 1173.0,417.9 1173.6,416.8 1174.1,415.7 1174.7,414.5 1175.2,413.3 1175.8,412.2 1176.4,411.0 1176.9,410.0 1177.5,408.9 1178.0,407.7 1178.6,406.7 1179.2,405.6 1179.7,404.5 1180.3,403.5 1180.8,402.4 1181.4,401.3 1182.0,400.2 1182.5,399.3 1183.1,398.2 1183.7,397.3 1184.2,396.3 1184.8,395.4 1185.3,394.4 1185.9,393.4 1186.5,392.4 1187.0,391.3 1187.6,390.3 1188.1,389.4 1188.7,388.3 1189.3,387.3 1189.8,386.3 1190.4,385.3 1190.9,384.3 1191.5,383.2 1192.1,382.1 1192.6,381.0 1193.2,380.0 1193.7,379.0 1194.3,378.1 1194.9,377.1 1195.4,376.2 1196.0,375.2 1196.5,374.5 1197.1,373.8 1197.7,373.1 1198.2,372.4 1198.8,371.9 1199.4,371.4 1199.9,371.0 1200.5,370.5 1201.0,370.1 1201.6,369.7 1202.2,369.1 1202.7,368.4 1203.3,367.7 1203.8,366.9 1204.4,366.1 1205.0,365.3 1205.5,364.4 1206.1,363.5 1206.6,362.6 1207.2,361.6 1207.8,360.7 1208.3,359.9 1208.9,359.3 1209.4,358.6 1210.0,357.9 1210.6,357.3 1211.1,356.6 1211.7,355.9 1212.2,355.1 1212.8,354.1 1213.4,353.2 1213.9,352.1 1214.5,351.0 1215.1,349.9 1215.6,348.9 1216.2,347.9 1216.7,346.9 1217.3,345.9 1217.9,345.1 1218.4,344.4 1219.0,343.8 1219.5,343.3 1220.1,342.9 1220.7,342.4 1221.2,342.1 1221.8,341.8 1222.3,341.5 1222.9,341.1 1223.5,340.9 1224.0,340.7 1224.6,340.6 1225.1,340.3 1225.7,340.2 1226.3,340.1 1226.8,340.0 1227.4,339.9 1227.9,339.8 1228.5,339.6 1229.1,339.4 1229.6,339.2 1230.2,339.0 1230.8,338.7 1231.3,338.5 1231.9,338.2 1232.4,338.0 1233.0,337.9 1233.6,337.9 1234.1,337.9 1234.7,337.8 1235.2,337.6 1235.8,337.3 1236.4,337.1 1236.9,336.9 1237.5,336.6 1238.0,336.2 1238.6,335.8 1239.2,335.5 1239.7,335.0 1240.3,334.4 1240.8,333.8 1241.4,333.4 1242.0,333.0 1242.5,332.6 1243.1,332.2 1243.6,331.7 1244.2,331.2 1244.8,330.8 1245.3,330.4 1245.9,329.9 1246.5,329.5 1247.0,329.1 1247.6,328.5 1248.1,328.0 1248.7,327.3 1249.3,326.6 1249.8,325.8 1250.4,324.9 1250.9,324.0 1251.5,323.1 1252.1,322.0 1252.6,321.1 1253.2,320.1 1253.7,319.2 1254.3,318.3 1254.9,317.3 1255.4,316.3 1256.0,315.3 1256.5,314.3 1257.1,313.4 1257.7,312.4 1258.2,311.5 1258.8,310.7 1259.3,309.8 1259.9,309.0 1260.5,308.3 1261.0,307.4 1261.6,306.6 1262.2,305.8 1262.7,305.1 1263.3,304.4 1263.8,303.7 1264.4,302.9 1265.0,302.0 1265.5,301.3 1266.1,300.5 1266.6,299.7 1267.2,299.0 1267.8,298.2 1268.3,297.4 1268.9,296.6 1269.4,295.8 1270.0,295.1 1270.6,294.4 1271.1,293.8 1271.7,293.4 1272.2,292.9 1272.8,292.5 1273.4,292.1 1273.9,291.8 1274.5,291.5 1275.0,291.1 1275.6,290.7 1276.2,290.2 1276.7,289.7 1277.3,289.2 1277.9,288.5 1278.4,287.9 1279.0,287.3 1279.5,286.8 1280.1,286.4 1280.7,286.1 1281.2,285.8 1281.8,285.5 1282.3,285.2 1282.9,284.9 1283.5,284.5 1284.0,284.3 1284.6,283.9 1285.1,283.5 1285.7,283.0 1286.3,282.5 1286.8,282.0 1287.4,281.4 1287.9,280.8 1288.5,280.3 1289.1,279.8 1289.6,279.2 1290.2,278.6 1290.7,278.0 1291.3,277.3 1291.9,276.5 1292.4,275.8 1293.0,274.8 1293.6,273.7 1294.1,272.6 1294.7,271.6 1295.2,270.6 1295.8,269.7 1296.4,268.7 1296.9,267.8 1297.5,266.9 1298.0,266.1 1298.6,265.2 1299.2,264.5 1299.7,263.7 1300.3,262.8 1300.8,262.0 1301.4,261.2 1302.0,260.5 1302.5,259.8 1303.1,259.1 1303.6,258.5 1304.2,257.8 1304.8,257.1 1305.3,256.4 1305.9,255.7 1306.4,254.9 1307.0,254.1 1307.6,253.5 1308.1,252.8 1308.7,252.1 1309.3,251.6 1309.8,250.9 1310.4,250.2 1310.9,249.6 1311.5,248.9 1312.1,248.2 1312.6,247.5 1313.2,246.8 1313.7,246.1 1314.3,245.3 1314.9,244.6 1315.4,243.9 1316.0,243.2 1316.5,242.6 1317.1,242.0 1317.7,241.5 1318.2,240.9 1318.8,240.4 1319.3,240.0 1319.9,239.6 1320.5,239.1 1321.0,238.7 1321.6,238.3 1322.1,237.9 1322.7,237.5 1323.3,237.2 1323.8,236.9 1324.4,236.5 1325.0,236.2 1325.5,235.9 1326.1,235.6 1326.6,235.3 1327.2,234.9 1327.8,234.6 1328.3,234.3 1328.9,233.9 1329.4,233.7 1330.0,233.4 1330.6,233.3 1331.1,233.1 1331.7,232.9 1332.2,232.9 1332.8,232.9 1333.4,233.0 1333.9,233.1 1334.5,233.2 1335.0,233.5 1335.6,233.8 1336.2,234.3 1336.7,234.7 1337.3,235.3 1337.8,235.8 1338.4,236.3 1339.0,236.8 1339.5,237.4 1340.1,238.0 1340.7,238.6 1341.2,239.2 1341.8,239.9 1342.3,240.6 1342.9,241.2 1343.5,242.0 1344.0,242.8 1344.6,243.7 1345.1,244.8 1345.7,245.7 1346.3,246.7 1346.8,247.7 1347.4,248.7 1347.9,249.7 1348.5,250.6 1349.1,251.7 1349.6,252.6 1350.2,253.6 1350.7,254.6 1351.3,255.6 1351.9,256.5 1352.4,257.6 1353.0,258.7 1353.5,259.6 1354.1,260.5 1354.7,261.4 1355.2,262.2 1355.8,262.9 1356.4,263.6 1356.9,264.4 1357.5,265.3 1358.0,266.0 1358.6,266.8 1359.2,267.6 1359.7,268.4 1360.3,269.2 1360.8,270.2 1361.4,271.2 1362.0,272.2 1362.5,273.2 1363.1,274.2 1363.6,275.2 1364.2,276.2 1364.8,277.2 1365.3,278.3 1365.9,279.3 1366.4,280.4 1367.0,281.4 1367.6,282.5 1368.1,283.6 1368.7,284.8 1369.2,285.9 1369.8,287.0 1370.4,288.3 1370.9,289.4 1371.5,290.7 1372.1,292.0 1372.6,293.4 1373.2,295.0 1373.7,296.5 1374.3,298.2 1374.9,299.9 1375.4,301.6 1376.0,303.4 1376.5,305.2 1377.1,307.2 1377.7,309.2 1378.2,311.3 1378.8,313.2 1379.3,315.2 1379.9,317.1 1380.5,319.0 1381.0,320.8 1381.6,322.7 1382.1,324.6 1382.7,326.7 1383.3,328.6 1383.8,330.6 1384.4,332.6 1384.9,334.5 1385.5,336.5 1386.1,338.4 1386.6,340.4 1387.2,342.4 1387.8,344.2 1388.3,346.2 1388.9,348.0 1389.4,349.8 1390.0,351.7 1390.6,353.4 1391.1,355.2 1391.7,356.9 1392.2,358.5 1392.8,360.1 1393.4,361.7 1393.9,363.3 1394.5,364.9 1395.0,366.4 1395.6,367.8" fill="none" stroke="#3fb54a" stroke-width="1.2" stroke-linejoin="round" stroke-opacity="1"/>
<g stroke-width="1.2" fill="none"><path d="M0.00 799.8V804.8M6.73 808.2V814.7M11.21 813.7V817.5M13.46 815.5V820.2M20.19 805.8V810.3M24.67 809.7V812.3M26.91 803.9V808.4M29.16 807.1V809.4M33.64 804.9V809.3M38.13 801.9V810.1M49.34 810.1V816.3M51.59 802.3V807.9M53.83 804.1V808.4M56.07 805.7V807.9M58.31 803.8V805.2M60.56 806.9V809.7M62.80 807.6V817.2M74.01 813.3V816.3M76.26 811.0V816.6M78.50 808.4V809.2M80.74 810.3V813.9M85.23 812.9V815.0M87.47 817.4V819.5M94.20 827.8V829.5M96.44 832.1V836.0M98.68 827.3V829.3M100.93 823.2V827.8M105.41 812.7V817.2M107.66 811.6V814.5M109.90 803.4V808.5M112.14 796.2V802.6M118.87 791.1V794.0M121.11 785.9V793.5M123.36 783.9V787.8M125.60 777.9V783.6M127.84 775.4V778.9M130.08 775.8V778.5M132.33 779.4V783.3M134.57 775.9V783.0M136.81 774.2V777.3M139.06 778.0V780.7M143.54 775.1V780.7M145.78 773.3V778.7M148.03 765.2V768.9M152.51 750.2V755.1M157.00 738.3V743.9M165.97 740.5V744.4M168.21 744.7V749.6M170.45 742.6V747.6M172.70 731.8V734.2M174.94 725.8V732.5M181.67 706.8V711.1M183.91 706.7V711.8M186.15 704.2V712.5M195.13 690.8V700.9M197.37 687.9V693.7M199.61 688.8V692.9M201.85 682.8V689.5M206.34 668.8V682.8M208.58 660.6V672.7M213.07 675.0V678.3M219.80 692.4V700.7M226.53 678.5V686.7M235.50 692.8V697.4M237.74 684.0V690.5M239.98 683.4V687.8M244.47 668.9V674.5M246.71 662.5V666.8M251.20 641.1V648.9M253.44 638.3V644.5M257.93 627.9V639.9M262.41 645.5V656.1M273.63 663.0V671.5M278.11 664.9V673.0M280.35 666.1V672.9M287.08 685.7V692.4M289.32 687.0V690.5M291.57 686.4V696.0M293.81 681.3V688.3M296.05 674.4V688.8M298.30 672.0V680.0M302.78 664.8V671.3M305.02 669.3V678.4M309.51 657.2V665.0M320.72 676.8V684.8M322.97 666.1V674.4M325.21 654.3V670.1M331.94 646.2V647.0M334.18 641.6V647.6M336.42 634.4V643.6M345.40 629.2V641.7M358.85 639.1V648.1M361.10 639.2V649.8M363.34 634.1V637.0M365.58 619.0V631.3M367.82 620.2V630.3M370.07 617.7V621.5M374.55 621.1V627.6M381.28 627.8V638.8M383.52 609.9V618.7M399.22 550.6V563.7M401.47 522.4V543.9M403.71 492.0V508.8M405.95 467.7V488.7M408.19 439.2V451.3M410.44 448.8V471.0M412.68 428.9V448.3M414.92 422.2V432.2M421.65 350.3V386.1M423.89 322.6V347.5M426.14 276.2V307.3M428.38 228.7V274.5M430.62 199.2V223.3M432.87 138.3V168.8M435.11 121.0V139.9M439.59 114.0V146.9M446.32 345.3V377.6M450.81 405.2V440.7M455.29 318.7V356.9M462.02 404.3V414.7M466.51 397.7V420.9M482.21 504.3V514.3M484.45 463.5V475.0M486.69 440.3V455.3M488.94 398.8V420.4M500.15 348.7V370.4M506.88 382.5V398.3M515.85 362.6V378.6M527.06 524.0V556.1M529.31 508.2V519.3M531.55 492.1V514.2M540.52 535.6V543.7M542.76 509.9V523.5M545.01 484.2V491.4M547.25 469.2V482.6M549.49 463.4V477.6M560.71 488.8V496.1M567.44 517.7V523.0M569.68 513.9V526.7M571.92 488.4V494.1M578.65 503.2V506.8M580.89 486.4V501.3M583.14 477.7V489.7M585.38 473.0V480.0M589.86 471.2V480.6M598.84 493.0V503.9M601.08 483.4V493.4M603.32 483.4V493.9M605.56 490.8V503.1M607.81 482.3V489.9M610.05 482.1V488.9M621.26 488.4V492.1M627.99 494.1V505.7M632.48 497.4V503.0M634.72 496.2V504.1M636.96 487.5V498.2M639.21 492.2V509.4M641.45 495.1V507.6M650.42 533.2V537.9M652.66 528.4V538.6M659.39 554.5V565.7M661.63 558.4V563.5M663.88 554.6V561.6M666.12 550.3V557.5M670.61 549.5V551.1M672.85 535.3V544.1M681.82 536.0V544.4M688.55 549.3V552.0M697.52 572.5V577.4M704.25 582.6V590.3M706.49 580.6V587.8M708.73 578.3V585.6M710.98 571.6V584.1M715.46 565.2V582.4M719.95 564.6V574.7M728.92 597.4V605.2M731.16 584.8V601.1M733.40 578.8V584.2M735.65 573.7V586.3M737.89 569.8V572.0M740.13 565.4V568.1M742.38 559.9V569.7M746.86 553.5V559.8M751.35 555.6V564.2M755.83 549.9V561.3M771.53 556.4V558.7M773.78 562.2V570.2M780.50 571.2V580.8M782.75 576.2V579.7M784.99 576.9V586.8M791.72 574.6V578.1M796.20 581.5V585.5M798.45 576.6V579.9M807.42 600.1V606.6M811.90 575.2V590.6M814.15 563.8V569.1M820.88 563.9V579.0M827.60 563.6V570.1M829.85 573.8V578.8M832.09 569.4V572.3M834.33 562.1V573.2M841.06 566.7V570.1M845.55 583.8V591.3M854.52 625.5V630.5M861.25 611.2V622.2M863.49 615.4V619.0M865.73 608.3V616.5M872.46 645.0V649.9M874.70 644.5V647.8M876.95 643.6V647.0M881.43 648.3V651.0M883.67 651.6V655.7M892.65 668.4V673.0M897.13 690.1V696.4M899.37 684.3V688.8M901.62 683.4V687.9M903.86 670.9V676.3M906.10 663.6V673.0M908.35 665.3V671.6M910.59 671.5V678.4M915.07 668.9V671.3M921.80 683.9V684.3M926.29 695.7V699.1M930.77 689.7V696.2M933.02 692.3V696.9M937.50 690.5V694.3M939.75 679.1V689.9M941.99 664.3V670.1M944.23 641.4V650.2M946.47 612.9V628.4M948.72 593.5V598.9M964.42 596.2V600.6M968.90 596.0V604.0M973.39 630.9V638.4M977.87 641.8V645.2M980.12 635.3V639.9M982.36 648.1V652.1M989.09 636.6V640.5M991.33 631.7V637.1M993.57 625.3V631.8M1000.30 627.1V635.3M1002.54 625.8V634.0M1011.52 619.1V626.7M1018.24 592.9V600.4M1020.49 591.0V597.5M1022.73 598.8V602.9M1024.97 599.3V604.2M1029.46 597.4V607.7M1033.94 601.2V608.5M1036.19 596.1V602.2M1038.43 590.4V599.3M1040.67 595.4V600.8M1042.92 589.9V599.8M1051.89 597.7V604.0M1056.37 578.6V582.0M1058.62 567.2V581.1M1060.86 566.7V581.0M1063.10 563.0V568.8M1067.59 541.7V556.1M1069.83 541.3V552.7M1074.31 535.9V554.7M1076.56 507.5V519.8M1083.29 493.9V499.3M1094.50 547.0V564.8M1096.74 531.2V551.0M1098.99 531.4V537.2M1101.23 540.0V547.3M1112.44 493.7V514.3M1116.93 500.5V511.4M1119.17 493.2V505.1M1123.66 490.8V495.3M1125.90 476.0V493.4M1128.14 449.2V459.3M1132.63 355.2V389.2M1134.87 357.5V371.0M1137.11 364.9V377.2M1139.36 364.6V382.9M1141.60 344.1V358.0M1150.57 383.8V399.7M1161.79 390.6V405.6M1164.03 392.3V397.2M1166.27 365.9V376.0M1175.24 364.8V381.0M1177.48 364.5V377.4M1181.97 372.3V391.6M1184.21 380.1V393.7M1186.46 366.7V387.3M1190.94 363.9V379.3M1193.18 349.8V359.7M1195.43 331.6V362.4M1199.91 308.7V315.7M1202.16 290.1V314.4M1204.40 268.8V288.7M1206.64 221.0V269.3M1213.37 245.3V266.2M1226.83 380.8V391.0M1231.31 360.0V372.8M1233.56 353.9V373.7M1235.80 342.4V351.1M1238.04 338.1V352.3M1240.28 305.7V336.7M1242.53 311.8V326.0M1247.01 321.4V327.6M1249.26 290.2V305.4M1251.50 268.3V283.5M1253.74 243.5V270.1M1255.98 248.4V263.2M1258.23 254.6V267.8M1260.47 258.3V267.2M1264.96 227.0V242.2M1269.44 200.1V212.0M1276.17 200.3V211.7M1285.14 234.4V236.9M1289.63 262.1V277.6M1291.87 266.0V282.3M1294.11 251.9V264.3M1296.35 254.6V262.1M1298.60 250.8V265.5M1303.08 260.7V274.2M1305.33 255.9V269.0M1309.81 222.7V257.5M1314.30 224.7V237.7M1316.54 212.5V230.7M1318.78 208.9V229.4M1321.03 205.7V217.7M1334.48 229.7V247.9M1347.94 323.4V333.6M1359.15 365.0V430.0M1363.64 373.8V387.0M1365.88 386.8V395.3M1374.85 431.6V437.5M1383.83 455.9V462.3M1386.07 442.7V452.2M1392.80 413.2V422.5M1395.04 398.1V403.9" stroke="#ee0a1e"/><path d="M2.24 803.1V809.3M4.49 812.8V816.8M8.97 806.0V809.7M15.70 810.2V812.3M17.94 805.7V812.0M22.43 807.4V811.2M31.40 803.2V808.0M35.89 806.3V810.1M40.37 805.2V810.3M42.61 809.4V814.0M44.86 812.4V814.6M47.10 813.5V816.8M65.04 803.1V807.6M67.28 800.7V804.6M69.53 805.5V810.6M71.77 813.9V816.8M82.98 811.1V815.4M89.71 818.9V824.6M91.96 824.0V826.2M103.17 817.8V822.4M114.38 795.1V799.6M116.63 794.7V797.9M141.30 780.5V783.5M150.27 753.6V760.2M154.76 745.8V747.7M159.24 732.4V738.5M161.48 732.9V736.2M163.73 736.6V739.2M177.18 718.9V728.2M179.43 714.6V720.3M188.40 707.7V712.6M190.64 704.2V710.9M192.88 709.8V713.1M204.10 676.2V687.6M210.83 662.5V677.9M215.31 676.5V689.3M217.55 692.7V699.6M222.04 688.6V695.4M224.28 683.5V694.2M228.77 686.6V692.0M231.01 692.5V702.6M233.25 694.7V700.1M242.23 673.6V680.0M248.95 652.0V657.0M255.68 626.3V628.6M260.17 638.3V640.7M264.65 654.2V661.8M266.90 643.5V648.5M269.14 650.1V658.5M271.38 654.0V667.3M275.87 667.1V670.3M282.60 670.9V676.9M284.84 670.8V678.2M300.54 668.5V676.5M307.27 663.8V671.6M311.75 661.4V672.2M314.00 665.6V677.5M316.24 678.2V686.8M318.48 679.4V682.2M327.45 651.5V664.1M329.70 641.9V654.4M338.67 632.0V636.9M340.91 636.9V646.1M343.15 636.0V639.9M347.64 623.2V635.0M349.88 624.3V633.9M352.12 633.4V640.0M354.37 636.2V643.9M356.61 634.4V638.1M372.31 595.4V610.8M376.80 624.0V631.1M379.04 632.1V636.2M385.77 597.3V600.9M388.01 588.6V592.3M390.25 584.7V589.5M392.49 578.1V583.5M394.74 566.1V571.9M396.98 564.9V573.4M417.17 389.1V398.1M419.41 373.5V382.4M437.35 121.0V142.5M441.84 142.4V218.2M444.08 220.3V260.3M448.57 395.1V425.8M453.05 385.7V405.9M457.54 371.9V416.5M459.78 428.8V445.8M464.27 387.3V412.4M468.75 503.2V529.3M470.99 504.1V532.4M473.24 542.0V570.4M475.48 521.5V549.6M477.72 542.0V555.8M479.97 513.2V530.2M491.18 392.9V428.6M493.42 386.9V408.2M495.67 375.6V388.1M497.91 363.4V376.1M502.39 347.9V396.5M504.64 363.1V400.9M509.12 361.1V381.8M511.36 352.6V371.5M513.61 355.4V373.6M518.09 441.4V489.6M520.34 480.7V520.6M522.58 505.0V529.5M524.82 530.2V536.2M533.79 474.2V486.8M536.04 492.2V535.8M538.28 544.3V556.2M551.74 445.6V470.2M553.98 458.7V478.1M556.22 470.6V497.6M558.46 495.6V511.6M562.95 491.6V500.1M565.19 502.8V516.5M574.16 490.2V495.6M576.41 501.2V507.9M587.62 471.8V474.6M592.11 480.9V486.0M594.35 492.3V498.0M596.59 497.4V506.1M612.29 488.2V497.1M614.53 485.7V490.9M616.78 494.2V499.8M619.02 492.9V499.2M623.51 489.0V491.3M625.75 492.0V496.7M630.23 494.8V502.1M643.69 493.8V507.4M645.93 512.9V526.1M648.18 531.1V541.6M654.91 537.4V545.7M657.15 538.3V540.3M668.36 543.8V553.2M675.09 533.1V538.1M677.33 537.5V544.1M679.58 535.5V540.6M684.06 538.9V541.9M686.31 546.7V553.3M690.79 554.4V563.9M693.03 561.4V566.6M695.28 558.3V565.6M699.76 578.1V583.8M702.01 576.1V581.1M713.22 571.8V574.3M717.71 570.3V577.7M722.19 570.4V576.2M724.43 576.4V581.7M726.68 585.0V599.4M744.62 554.5V561.5M749.10 558.1V564.8M753.59 557.7V564.0M758.08 546.5V552.0M760.32 556.2V566.8M762.56 546.3V553.6M764.80 553.5V557.2M767.05 556.5V563.7M769.29 547.0V552.1M776.02 572.2V581.8M778.26 578.1V592.5M787.23 575.5V586.8M789.48 579.0V582.8M793.96 580.4V586.3M800.69 573.1V580.5M802.93 588.1V598.5M805.18 599.5V604.6M809.66 588.6V594.9M816.39 558.0V573.5M818.63 559.4V569.4M823.12 553.9V562.4M825.36 558.0V565.7M836.58 563.9V570.0M838.82 559.6V570.4M843.30 564.5V576.7M847.79 590.2V595.4M850.03 596.8V608.1M852.27 616.0V624.1M856.76 618.3V625.7M859.00 619.0V624.8M867.97 619.3V624.5M870.22 630.4V633.3M879.19 647.5V651.8M885.92 651.9V659.3M888.16 652.9V663.6M890.40 658.6V667.4M894.89 685.1V692.1M912.83 665.9V677.9M917.32 674.0V676.2M919.56 674.8V681.5M924.05 686.8V691.9M928.53 686.8V693.2M935.26 688.5V692.8M950.96 583.8V586.7M953.20 586.7V601.6M955.44 599.6V602.3M957.69 605.4V615.5M959.93 584.9V589.8M962.17 578.4V585.8M966.66 600.5V604.2M971.14 612.2V626.4M975.63 630.0V640.1M984.60 648.4V654.4M986.84 639.3V642.8M995.82 621.7V634.4M998.06 626.4V632.8M1004.79 617.9V626.2M1007.03 628.1V638.1M1009.27 627.0V638.0M1013.76 609.9V612.7M1016.00 605.9V611.4M1027.22 602.6V609.2M1031.70 597.8V605.3M1045.16 590.0V593.9M1047.40 593.7V603.4M1049.64 594.6V607.4M1054.13 586.1V594.1M1065.34 557.3V565.1M1072.07 536.5V541.8M1078.80 498.1V510.8M1081.04 483.9V494.2M1085.53 495.5V508.3M1087.77 497.7V520.6M1090.01 535.8V551.1M1092.26 559.4V576.3M1103.47 518.3V530.6M1105.71 518.4V524.3M1107.96 504.7V511.7M1110.20 493.7V505.6M1114.69 496.4V519.0M1121.41 484.6V494.5M1130.39 405.9V420.4M1143.84 346.0V360.5M1146.09 356.9V373.8M1148.33 376.0V382.3M1152.81 367.0V378.5M1155.06 358.5V381.6M1157.30 376.2V389.5M1159.54 392.5V402.6M1168.51 355.1V386.8M1170.76 366.9V397.0M1173.00 382.1V393.3M1179.73 362.1V376.4M1188.70 357.7V377.0M1197.67 323.1V337.8M1208.88 257.9V266.8M1211.13 267.3V280.3M1215.61 253.8V259.9M1217.86 264.5V295.6M1220.10 297.6V325.5M1222.34 330.8V348.0M1224.58 355.4V370.2M1229.07 365.6V379.3M1244.77 309.5V325.4M1262.71 244.7V253.4M1267.20 220.9V233.8M1271.68 209.1V219.1M1273.93 213.7V234.4M1278.41 193.3V204.4M1280.66 201.3V216.9M1282.90 216.0V221.9M1287.38 232.6V265.7M1300.84 258.7V266.0M1307.57 229.6V240.6M1312.05 227.1V246.1M1323.27 195.4V220.8M1325.51 220.4V229.4M1327.75 203.5V236.7M1330.00 212.8V226.6M1332.24 207.1V225.0M1336.73 255.3V262.9M1338.97 260.8V282.9M1341.21 290.4V296.0M1343.45 282.4V300.7M1345.70 319.4V335.5M1350.18 332.4V343.5M1352.43 347.6V368.6M1354.67 350.9V364.1M1356.91 350.7V365.7M1361.40 371.0V380.9M1368.13 392.2V413.7M1370.37 403.4V415.7M1372.61 420.0V432.0M1377.10 467.9V503.1M1379.34 461.7V473.5M1381.58 448.4V458.7M1388.31 429.5V442.7M1390.55 420.5V426.0" stroke="#1a7f24"/><path d="M0.56 801.8V803.8M5.05 809.7V815.5M7.29 807.3V808.8M9.53 807.2V813.5M11.77 814.5V817.5M16.26 809.8V812.7M22.99 806.8V814.3M27.47 805.1V812.6M38.69 802.1V805.5M40.93 806.1V811.6M43.17 810.6V812.8M47.66 811.2V816.0M52.15 804.8V806.8M54.39 800.2V809.7M58.87 802.6V808.3M61.12 806.0V813.1M70.09 807.9V816.9M79.06 805.0V811.0M81.30 809.6V813.7M85.79 811.8V817.3M88.03 814.9V818.9M92.52 826.0V828.1M94.76 827.0V831.0M119.43 790.7V792.3M126.16 776.8V783.2M144.10 775.3V780.8M153.07 748.6V751.7M159.80 731.7V744.0M188.96 706.7V714.6M195.69 693.1V697.1M197.93 685.9V691.7M200.17 686.8V692.6M206.90 668.4V677.0M211.39 660.8V676.5M213.63 671.8V681.8M215.87 688.8V696.4M220.36 692.9V696.1M229.33 687.3V694.0M236.06 684.9V694.6M256.24 625.4V632.0M258.49 626.9V641.3M260.73 637.8V645.0M262.97 645.6V654.0M267.46 638.6V652.3M271.94 656.0V671.2M274.19 663.8V670.7M276.43 666.9V670.8M278.67 665.3V669.5M280.91 661.6V677.7M283.16 671.8V681.6M285.40 671.3V682.3M287.64 682.6V686.9M289.89 684.2V690.7M294.37 684.2V687.7M298.86 669.8V675.3M303.34 665.7V671.1M310.07 657.2V665.8M314.56 672.7V679.4M316.80 683.0V685.0M319.04 678.4V689.9M334.74 643.4V648.4M339.23 628.9V636.2M341.47 637.8V647.6M348.20 628.9V635.1M350.44 626.0V637.2M352.68 633.3V643.6M359.41 634.2V644.0M363.90 629.7V637.9M366.14 622.2V631.2M368.38 615.9V624.3M372.87 606.8V615.9M377.36 622.6V637.3M379.60 625.1V641.9M386.33 592.7V603.0M393.06 576.0V582.3M402.03 525.9V530.4M426.70 250.7V286.3M433.43 148.0V190.3M437.91 121.0V160.2M440.16 121.0V186.8M442.40 205.8V263.0M444.64 238.9V291.5M446.88 336.5V381.1M449.13 427.3V463.1M467.07 401.3V431.8M469.31 519.1V547.7M471.55 525.1V544.6M476.04 542.0V559.2M480.53 509.2V524.6M489.50 381.8V409.3M502.95 378.9V401.4M514.17 347.8V382.8M516.41 351.9V409.7M518.65 472.6V481.0M534.35 480.0V515.6M536.60 500.6V537.1M538.84 540.3V563.7M547.81 463.8V475.0M552.30 449.5V475.1M554.54 472.3V486.2M556.78 487.6V496.0M561.27 487.2V492.2M563.51 497.3V504.3M565.75 509.4V516.5M574.72 487.9V509.0M583.70 480.1V488.2M585.94 475.6V479.0M590.42 471.7V476.8M592.67 480.8V491.1M594.91 495.1V501.6M599.40 497.0V504.4M603.88 481.4V490.0M610.61 484.8V496.5M612.85 490.6V496.5M615.10 489.8V494.7M619.58 493.9V498.4M624.07 486.1V494.8M637.52 493.9V500.6M642.01 494.3V500.1M644.25 502.7V510.7M646.50 522.8V531.1M648.74 530.3V541.0M653.22 528.6V538.5M655.47 536.5V546.6M657.71 539.3V554.1M662.20 559.1V563.6M664.44 553.4V559.2M666.68 550.5V552.5M668.92 547.3V552.7M680.14 538.5V546.7M682.38 540.4V543.8M684.62 541.6V549.8M689.11 544.5V557.3M691.35 557.3V563.6M693.59 563.1V566.0M695.84 561.6V567.4M702.57 578.2V580.9M713.78 569.9V579.3M720.51 563.6V567.4M722.75 571.2V575.0M724.99 573.4V589.2M736.21 572.7V577.4M738.45 566.0V571.0M740.69 565.5V570.0M747.42 552.6V555.5M754.15 557.5V567.5M756.39 547.2V551.4M758.64 546.9V558.3M763.12 549.2V555.4M765.37 556.6V559.0M767.61 550.3V559.9M769.85 549.8V554.7M772.09 554.1V565.3M774.34 564.5V570.8M778.82 582.0V585.7M783.31 575.3V584.1M801.25 575.8V587.5M803.49 592.2V602.4M805.74 598.2V610.3M816.95 567.1V573.7M819.19 564.4V569.1M823.68 558.8V563.4M825.92 560.4V570.9M828.16 564.7V576.0M830.41 572.8V579.4M832.65 566.4V571.5M834.89 564.0V570.2M843.86 568.2V580.1M846.11 579.3V588.6M850.59 604.9V616.0M852.84 622.8V627.5M861.81 612.4V618.3M866.29 612.6V615.0M868.54 619.6V626.0M870.78 626.9V635.1M873.02 642.8V649.3M875.26 644.2V649.9M877.51 640.4V649.0M879.75 650.3V651.7M881.99 650.4V655.5M884.24 651.9V653.1M893.21 671.0V676.3M895.45 690.1V696.3M908.91 663.6V673.6M915.63 667.4V672.0M917.88 675.0V679.8M920.12 680.2V683.8M922.36 683.7V689.4M924.61 692.8V698.7M926.85 693.6V696.4M951.52 580.5V594.2M953.76 597.7V603.7M962.73 584.6V589.9M964.98 599.1V605.2M969.46 598.9V604.1M971.71 623.6V631.4M976.19 636.7V645.1M978.43 641.5V644.9M980.68 634.6V643.0M982.92 643.6V650.6M987.41 635.8V645.4M994.13 627.1V629.6M998.62 629.5V636.2M1000.86 625.2V630.7M1005.35 624.4V626.1M1018.80 591.3V598.9M1021.05 589.7V599.1M1025.53 593.2V604.8M1027.78 604.1V607.6M1030.02 599.6V609.7M1036.75 597.0V603.5M1038.99 592.6V599.4M1045.72 590.8V594.8M1047.96 592.1V598.0M1059.18 571.2V575.2M1072.63 538.7V551.5M1081.60 487.3V494.8M1088.33 509.3V530.8M1090.58 548.9V556.9M1099.55 528.7V548.1M1115.25 504.1V509.4M1121.97 481.5V501.4M1135.43 344.2V369.2M1139.92 366.2V383.0M1142.16 347.9V356.4M1144.40 349.1V370.2M1146.65 362.3V377.3M1148.89 375.5V393.0M1153.37 367.7V381.6M1155.62 367.7V388.2M1157.86 384.5V407.1M1160.10 393.4V407.8M1162.35 383.5V404.2M1175.80 365.8V371.9M1180.29 369.3V383.1M1182.53 364.3V402.7M1193.75 351.5V359.7M1209.45 251.0V266.2M1211.69 267.9V286.0M1216.17 259.2V269.9M1218.42 283.1V303.0M1222.90 336.7V343.4M1225.15 364.7V373.1M1227.39 380.0V394.3M1234.12 355.1V363.9M1236.36 339.6V354.1M1240.84 310.2V327.7M1243.09 306.1V320.1M1254.30 257.3V268.7M1256.54 242.7V262.9M1258.79 257.8V262.6M1281.22 202.6V218.1M1283.46 217.0V233.1M1287.94 243.4V260.9M1290.19 254.8V266.6M1294.67 257.9V267.3M1296.92 242.2V268.6M1299.16 254.0V273.0M1303.64 259.1V269.2M1308.13 235.4V256.3M1310.37 225.0V253.0M1312.62 217.4V233.8M1314.86 218.1V231.8M1317.10 201.5V228.4M1323.83 203.1V221.5M1330.56 216.9V232.6M1332.80 223.2V242.3M1335.04 233.2V247.8M1337.29 246.3V265.0M1344.01 288.9V302.0M1346.26 317.0V328.4M1348.50 321.1V330.8M1350.74 340.2V349.6M1357.47 354.8V368.6M1361.96 375.8V392.7M1366.44 381.0V394.7M1368.69 401.3V414.0M1370.93 402.3V411.0M1373.17 428.2V434.7M1375.41 431.0V455.3M1377.66 476.1V488.4M1382.14 450.4V465.8M1386.63 442.5V460.4" stroke="#1a7f24"/><path d="M2.80 805.1V809.1M14.02 812.5V818.9M18.50 807.0V810.2M20.75 805.6V811.6M25.23 808.2V811.1M29.72 804.9V810.7M31.96 798.6V810.0M34.20 805.0V809.3M36.45 804.7V809.3M45.42 810.2V813.8M49.90 807.8V812.8M56.63 803.5V807.6M63.36 806.9V812.2M65.60 805.0V809.4M67.85 800.8V805.9M72.33 815.3V820.6M74.57 814.2V816.6M76.82 810.6V812.8M83.55 812.9V816.4M90.27 820.5V825.0M97.00 829.1V833.9M99.25 826.9V830.3M101.49 825.1V827.2M103.73 817.8V823.0M105.97 810.9V815.5M108.22 808.4V814.3M110.46 798.9V806.5M112.70 795.1V800.2M114.94 795.6V798.9M117.19 792.0V797.0M121.67 783.7V787.2M123.92 782.1V788.1M128.40 775.6V777.1M130.64 771.2V777.4M132.89 778.0V780.6M135.13 772.1V778.8M137.37 776.0V777.9M139.62 776.1V779.9M141.86 783.0V785.0M146.34 772.7V781.4M148.59 761.8V767.9M150.83 755.9V758.8M155.32 736.1V747.7M157.56 734.9V740.1M162.04 734.3V736.2M164.29 736.8V740.4M166.53 740.4V744.8M168.77 742.5V747.5M171.02 736.6V748.3M173.26 728.9V734.8M175.50 725.6V730.1M177.74 718.8V726.1M179.99 714.3V717.3M182.23 704.5V710.6M184.47 703.3V707.5M186.72 703.3V711.9M191.20 708.2V716.5M193.44 704.8V711.2M202.42 683.7V688.9M204.66 676.6V681.2M209.14 656.8V668.5M218.12 695.7V700.2M222.60 688.5V692.7M224.84 685.4V692.7M227.09 680.9V686.6M231.57 694.5V702.1M233.81 694.9V702.0M238.30 686.0V691.9M240.54 677.1V684.1M242.79 673.7V682.3M245.03 664.3V672.4M247.27 658.1V665.3M249.51 649.3V655.1M251.76 639.1V647.5M254.00 633.0V643.5M265.21 650.4V661.0M269.70 650.9V655.1M292.13 684.9V695.8M296.61 677.0V686.0M301.10 666.1V673.4M305.59 663.1V673.6M307.83 662.9V669.1M312.31 662.8V673.3M321.29 674.1V684.6M323.53 665.1V671.2M325.77 658.6V662.5M328.01 653.0V659.8M330.26 649.5V652.5M332.50 640.7V647.0M336.98 631.6V643.2M343.71 636.3V638.3M345.96 626.9V635.3M354.93 637.1V641.6M357.17 632.2V639.5M361.66 635.1V646.9M370.63 609.4V620.9M375.11 619.6V625.0M381.84 622.9V641.0M384.08 607.0V611.7M388.57 586.7V595.7M390.81 579.3V588.7M395.30 553.9V575.3M397.54 563.1V571.9M399.78 541.8V564.4M404.27 486.5V500.3M406.51 472.0V494.6M408.76 435.6V451.0M411.00 434.5V465.5M413.24 424.7V444.7M415.48 411.6V436.7M417.73 371.8V403.1M419.97 362.2V385.4M422.21 352.3V361.7M424.46 307.4V338.2M428.94 226.7V254.4M431.18 187.0V210.8M435.67 88.0V136.3M451.37 377.3V426.5M453.61 372.2V411.3M455.85 312.5V332.6M458.10 397.8V414.9M460.34 427.0V449.5M462.58 401.2V431.2M464.83 373.0V395.9M473.80 533.6V574.0M478.28 532.4V560.5M482.77 488.1V507.0M485.01 456.9V471.1M487.25 432.3V447.4M491.74 395.3V410.1M493.98 387.7V401.3M496.23 371.4V380.8M498.47 352.4V390.1M500.71 349.8V373.2M505.20 359.8V390.9M507.44 372.4V388.5M509.68 360.6V377.4M511.93 335.4V364.4M520.90 501.0V524.4M523.14 514.3V534.4M525.38 517.6V539.2M527.63 528.4V542.7M529.87 508.6V519.8M532.11 478.4V503.6M541.08 525.9V543.2M543.33 495.6V509.1M545.57 469.0V490.6M550.05 458.5V469.5M559.02 494.5V507.7M568.00 517.8V521.2M570.24 506.3V517.0M572.48 482.1V491.3M576.97 499.5V510.3M579.21 501.9V508.5M581.45 484.9V489.1M588.18 471.3V480.8M597.15 499.8V504.0M601.64 485.5V491.9M606.12 483.9V496.6M608.37 480.7V486.1M617.34 493.6V503.8M621.82 486.5V492.3M626.31 492.1V497.0M628.55 494.6V501.1M630.80 500.7V503.1M633.04 495.0V506.9M635.28 499.2V502.5M639.77 492.6V504.6M650.98 530.5V534.6M659.95 553.3V556.8M671.17 545.7V548.9M673.41 534.9V541.1M675.65 529.4V543.0M677.89 540.0V546.1M686.87 547.9V551.9M698.08 567.4V581.1M700.32 576.3V590.0M704.81 576.2V585.0M707.05 582.9V587.2M709.29 573.9V583.2M711.54 567.1V578.1M716.02 567.7V575.1M718.27 568.0V577.1M727.24 593.7V598.6M729.48 595.3V601.3M731.72 585.9V598.8M733.97 577.3V587.9M742.94 554.1V572.7M745.18 554.1V561.1M749.67 554.9V564.4M751.91 557.0V560.1M760.88 555.7V564.6M776.58 566.6V576.9M781.07 575.7V579.7M785.55 577.5V583.0M787.79 580.6V586.7M790.04 579.0V584.9M792.28 575.0V583.9M794.52 576.5V585.8M796.76 579.8V585.4M799.01 569.8V580.7M807.98 595.1V601.0M810.22 590.7V593.7M812.46 568.5V583.8M814.71 563.7V572.8M821.44 558.2V566.9M837.14 557.9V569.3M839.38 562.7V573.0M841.62 562.6V572.4M848.35 591.8V598.5M855.08 623.2V632.3M857.32 621.4V627.1M859.56 621.4V623.2M864.05 609.1V620.5M886.48 656.7V662.6M888.72 658.0V664.0M890.96 657.9V666.3M897.69 686.1V694.1M899.93 682.8V688.9M902.18 677.9V688.5M904.42 666.2V676.3M906.66 668.6V670.3M911.15 671.3V677.4M913.39 672.0V676.4M929.09 689.1V693.8M931.33 689.2V694.0M933.58 690.9V698.9M935.82 687.8V697.0M938.06 689.2V691.7M940.31 672.2V682.6M942.55 652.4V669.7M944.79 638.5V644.9M947.03 607.3V616.1M949.28 586.2V599.0M956.01 599.3V604.7M958.25 600.0V608.6M960.49 577.9V588.3M967.22 596.9V603.8M973.95 628.2V640.8M985.16 648.0V652.7M989.65 638.0V643.4M991.89 626.2V636.2M996.38 625.6V629.3M1003.11 624.8V632.7M1007.59 625.9V637.3M1009.83 627.4V635.6M1012.08 614.1V627.4M1014.32 609.8V615.8M1016.56 605.5V612.5M1023.29 592.0V601.1M1032.26 597.2V602.0M1034.50 597.4V603.6M1041.23 593.7V597.8M1043.48 587.9V593.9M1050.20 597.4V605.9M1052.45 589.8V598.9M1054.69 579.4V592.3M1056.93 578.2V586.4M1061.42 562.7V581.7M1063.66 557.7V568.1M1065.90 546.4V566.6M1068.15 540.5V550.0M1070.39 539.5V549.4M1074.88 523.6V538.1M1077.12 502.2V522.0M1079.36 491.7V506.6M1083.85 483.7V505.8M1086.09 494.0V500.3M1092.82 559.0V566.7M1095.06 542.9V552.2M1097.30 530.8V537.7M1101.79 531.3V547.2M1104.03 523.2V535.8M1106.28 513.9V529.3M1108.52 502.8V510.3M1110.76 496.3V503.6M1113.00 493.1V502.6M1117.49 497.4V519.9M1119.73 490.1V497.8M1124.22 476.4V502.6M1126.46 470.6V477.7M1128.70 431.5V452.1M1130.95 404.3V423.6M1133.19 353.7V366.9M1137.67 364.0V370.4M1151.13 377.4V395.0M1164.59 390.4V398.3M1166.83 360.7V377.4M1169.07 372.7V386.1M1171.32 368.3V399.6M1173.56 377.4V390.2M1178.05 352.8V374.9M1184.77 386.5V393.8M1187.02 368.7V384.6M1189.26 367.2V375.6M1191.50 356.5V380.7M1195.99 327.8V339.0M1198.23 323.2V341.1M1200.47 294.6V322.0M1202.72 282.0V295.2M1204.96 252.2V281.0M1207.20 249.9V259.7M1213.93 238.8V251.7M1220.66 321.8V332.8M1229.63 369.0V380.9M1231.87 360.3V368.3M1238.60 334.2V346.1M1245.33 302.1V322.4M1247.57 292.5V326.4M1249.82 285.8V299.5M1252.06 248.3V283.1M1261.03 249.7V264.1M1263.27 241.9V253.0M1265.52 224.4V247.0M1267.76 212.0V229.2M1270.00 192.7V209.5M1272.24 197.4V220.0M1274.49 208.6V228.3M1276.73 201.0V211.7M1278.97 203.2V216.9M1285.70 230.3V236.9M1292.43 274.6V278.3M1301.40 261.2V272.4M1305.89 244.7V261.5M1319.34 209.9V221.2M1321.59 206.9V220.5M1326.07 218.3V239.4M1328.32 210.1V224.4M1339.53 276.8V285.2M1341.77 291.2V298.2M1352.99 363.4V370.5M1355.23 342.4V362.8M1359.71 364.1V376.3M1364.20 368.6V382.9M1379.90 453.9V476.7M1384.39 451.4V465.4M1388.87 426.8V440.5M1391.11 418.8V430.1M1393.36 414.4V417.6M1395.60 385.2V408.3" stroke="#ee0a1e"/><path d="M5.61 809.5V816.2M14.58 806.9V813.3M16.82 810.0V812.7M21.31 805.5V809.6M25.79 808.1V810.5M30.28 802.1V806.7M48.22 814.6V816.9M54.95 805.3V809.6M57.19 803.2V806.0M63.92 803.6V807.5M66.16 802.3V806.0M72.89 815.3V819.1M75.13 812.0V816.4M77.38 809.9V811.2M79.62 808.0V812.3M97.56 829.1V832.2M99.81 823.7V828.0M102.05 823.5V825.4M104.29 815.9V820.7M108.78 808.1V810.0M115.51 792.8V797.4M117.75 794.0V798.7M119.99 788.2V791.4M124.48 780.4V782.6M126.72 777.9V780.7M128.96 774.4V778.8M133.45 778.2V782.8M137.93 776.1V778.6M144.66 776.1V779.4M146.91 764.6V777.2M149.15 756.9V765.9M151.39 751.6V757.5M155.88 738.2V742.2M158.12 735.0V740.3M160.36 736.3V739.6M164.85 739.2V741.6M171.58 734.7V738.3M173.82 726.2V729.4M176.06 719.3V730.5M178.30 715.8V726.0M187.28 707.5V709.1M189.52 710.1V713.5M191.76 708.5V711.6M194.00 703.2V708.0M196.25 689.4V693.9M198.49 686.9V695.5M200.73 688.5V693.8M202.98 679.7V687.0M205.22 671.7V687.6M207.46 666.4V675.5M214.19 673.2V682.2M220.92 690.4V697.3M225.40 686.5V691.9M232.13 694.5V702.1M234.38 696.0V701.9M241.10 679.9V686.7M247.83 653.4V662.3M250.08 645.9V649.0M252.32 632.7V641.0M254.56 627.4V640.4M259.05 633.1V634.8M281.47 670.8V675.0M288.20 685.6V691.2M290.45 689.1V695.3M297.17 672.8V684.0M306.15 665.1V674.5M308.39 662.8V668.5M312.87 662.8V673.5M319.60 678.3V685.2M321.85 672.3V679.2M328.57 649.3V655.7M330.82 639.2V650.3M335.30 640.9V649.3M337.55 629.1V635.0M339.79 630.6V635.9M342.03 636.9V649.0M346.52 627.4V634.8M348.76 628.1V636.2M351.00 630.9V634.5M353.25 635.3V643.1M355.49 630.4V641.3M362.22 632.3V639.4M364.46 633.5V638.9M366.70 621.6V626.9M368.95 622.4V625.4M371.19 608.3V615.0M382.40 618.2V633.4M384.65 602.8V608.7M386.89 595.7V603.7M389.13 588.4V598.4M391.37 580.9V583.5M393.62 577.3V580.6M395.86 563.7V574.5M398.10 559.6V572.0M402.59 516.5V529.2M404.83 481.8V490.7M407.07 450.5V480.6M411.56 416.0V442.4M418.29 371.4V386.9M427.26 275.7V280.8M429.50 211.9V247.0M431.74 171.1V199.8M433.99 170.7V194.0M442.96 244.3V259.8M451.93 365.5V394.4M454.17 344.2V383.3M460.90 415.6V448.5M463.14 395.1V410.9M469.87 528.3V549.4M474.36 517.5V543.8M478.84 516.0V549.3M481.09 513.2V523.5M483.33 483.3V502.8M485.57 438.2V473.0M487.82 419.2V446.8M490.06 390.0V409.4M492.30 379.6V417.9M494.54 380.4V389.7M499.03 360.9V371.1M501.27 341.5V353.8M503.51 372.9V394.4M505.76 377.5V390.0M508.00 351.5V384.3M510.24 353.8V387.7M519.21 475.3V487.0M528.19 520.5V539.1M530.43 494.1V510.9M532.67 467.9V495.3M539.40 540.6V553.4M541.64 519.9V534.3M543.89 490.2V506.9M552.86 459.6V476.4M555.10 469.1V477.9M557.34 494.9V507.7M559.59 491.1V501.1M561.83 484.7V491.9M566.31 514.1V522.5M570.80 503.0V509.5M579.77 493.8V511.2M586.50 474.4V483.2M590.99 476.1V479.7M593.23 486.5V493.4M606.69 484.1V495.8M608.93 480.2V484.2M611.17 483.4V491.8M613.41 491.6V494.5M617.90 491.9V494.7M620.14 489.5V507.3M626.87 491.9V499.2M633.60 491.4V497.5M635.84 491.4V498.6M640.33 493.2V499.3M642.57 494.2V506.3M649.30 535.3V542.3M653.78 531.9V537.0M662.76 559.8V564.3M665.00 551.7V563.3M667.24 550.0V555.2M669.48 548.4V553.0M671.73 538.4V552.7M673.97 532.8V540.6M678.46 538.4V542.5M680.70 539.3V545.2M682.94 539.3V544.3M689.67 550.0V554.4M694.16 559.9V567.6M707.61 584.0V592.8M712.10 571.5V577.7M714.34 567.5V574.1M716.58 568.5V578.7M723.31 572.6V575.9M730.04 593.5V598.3M734.53 575.4V583.0M736.77 568.9V581.6M739.01 566.0V571.5M745.74 553.1V554.2M747.98 552.6V554.1M752.47 556.4V560.4M754.71 558.8V562.1M759.20 548.7V557.4M761.44 554.9V559.5M768.17 552.5V559.2M770.41 549.7V554.9M774.90 561.5V571.7M779.38 578.9V585.2M788.35 582.9V587.4M790.60 572.9V584.3M797.33 577.8V585.0M806.30 607.6V612.5M808.54 592.9V599.4M810.78 584.8V592.7M813.03 572.6V574.3M822.00 559.4V562.0M824.24 557.7V564.6M826.48 563.6V573.1M828.73 571.0V575.2M830.97 571.4V578.9M837.70 562.5V572.3M842.18 563.8V568.3M846.67 582.0V593.6M855.64 619.7V633.0M860.12 619.1V623.0M864.61 606.9V615.2M873.58 641.4V648.9M878.07 643.0V648.1M880.31 651.5V656.9M882.55 649.3V655.7M911.71 669.0V676.9M913.95 669.3V674.6M918.44 676.4V681.7M927.41 693.6V699.0M931.90 688.0V690.3M938.62 684.9V692.9M940.87 668.8V678.5M943.11 649.3V653.8M945.35 627.1V639.7M947.60 601.9V609.4M949.84 586.1V591.9M954.32 599.5V603.8M958.81 588.8V605.5M976.75 638.5V642.4M978.99 634.4V645.5M985.72 640.2V652.0M987.97 631.9V642.3M990.21 629.0V643.5M992.45 627.2V633.1M994.69 626.5V632.0M999.18 628.7V636.4M1001.42 628.0V630.9M1008.15 629.6V634.8M1010.39 627.9V632.2M1012.64 611.2V616.3M1014.88 608.0V610.6M1017.12 592.4V608.9M1019.37 593.5V603.2M1026.09 601.0V602.6M1028.34 604.9V607.9M1030.58 602.7V610.7M1037.31 590.0V601.9M1044.04 590.9V593.9M1046.28 587.6V597.0M1053.01 587.3V599.2M1055.25 583.7V592.0M1064.22 558.7V570.7M1068.71 542.5V545.5M1070.95 535.3V548.1M1075.44 522.1V529.5M1077.68 502.3V505.6M1079.92 481.2V506.7M1086.65 498.1V502.4M1093.38 550.1V564.1M1095.62 539.8V552.6M1097.86 523.5V540.8M1100.11 533.3V544.4M1102.35 524.2V534.2M1106.84 506.0V522.0M1109.08 495.0V508.1M1111.32 496.2V502.2M1118.05 482.7V505.4M1127.02 456.2V469.1M1129.26 419.4V445.5M1131.51 381.5V410.1M1133.75 341.1V358.1M1140.48 358.1V372.7M1142.72 344.6V349.5M1151.69 364.4V377.7M1153.94 365.1V374.3M1156.18 371.1V391.0M1165.15 379.7V395.3M1167.39 354.2V381.3M1169.64 377.3V381.4M1171.88 375.0V392.1M1174.12 357.4V390.1M1176.36 362.1V370.7M1180.85 362.6V390.1M1185.33 375.8V387.8M1192.06 355.2V359.8M1194.31 342.8V360.1M1203.28 279.9V286.3M1212.25 258.7V283.6M1216.73 261.1V271.3M1227.95 366.5V392.4M1230.19 367.2V378.7M1239.16 332.2V340.8M1241.41 312.8V325.5M1243.65 312.6V322.1M1248.13 297.8V311.9M1250.38 287.1V292.1M1254.86 240.3V270.7M1259.35 246.5V267.2M1261.59 240.1V257.2M1266.08 223.8V234.0M1268.32 206.5V229.9M1275.05 199.8V216.9M1277.29 195.2V208.7M1292.99 258.9V282.4M1295.23 261.4V275.8M1297.48 262.3V271.0M1299.72 261.5V276.7M1304.20 264.4V273.5M1306.45 238.6V250.1M1308.69 236.1V254.7M1310.93 227.8V241.5M1313.18 229.7V234.8M1315.42 213.1V238.3M1322.15 210.2V222.1M1326.63 207.7V230.9M1328.88 203.9V210.5M1331.12 213.6V249.8M1337.85 260.5V269.5M1346.82 320.1V334.3M1353.55 345.0V366.7M1355.79 342.6V357.6M1362.52 382.3V384.5M1367.00 372.9V400.7M1378.22 475.8V478.1M1380.46 457.6V464.8M1382.70 460.7V468.6M1387.19 445.2V455.4M1389.43 426.4V438.6M1391.68 419.6V429.4M1393.92 400.8V421.5" stroke="#ee0a1e"/><path d="M1.12 800.3V805.0M3.36 808.9V814.6M7.85 807.3V810.4M10.09 807.7V814.1M12.34 816.7V818.4M19.06 806.0V809.1M23.55 808.8V811.0M28.04 806.9V813.4M32.52 801.4V805.2M34.76 805.4V807.7M37.01 805.5V807.5M39.25 804.6V807.7M41.49 806.4V812.4M43.74 810.5V814.5M45.98 807.1V815.1M50.46 805.8V811.6M52.71 805.9V809.9M59.43 806.7V808.7M61.68 806.6V812.8M68.41 803.0V805.6M70.65 814.3V816.9M81.86 809.7V814.9M84.11 813.6V815.0M86.35 813.1V818.7M88.59 817.3V821.4M90.83 823.0V827.8M93.08 825.8V828.9M95.32 831.1V832.6M106.53 810.1V815.9M111.02 800.2V804.6M113.26 793.6V798.2M122.23 783.9V787.7M131.21 772.3V778.0M135.69 772.7V780.5M140.18 774.4V781.7M142.42 781.2V783.5M153.63 748.9V751.5M162.61 736.0V737.5M167.09 741.0V747.4M169.33 744.2V767.4M180.55 711.3V715.3M182.79 705.0V712.4M185.03 699.9V704.3M209.70 660.3V663.9M211.95 667.8V680.9M216.43 688.9V693.3M218.68 692.0V699.6M223.16 687.3V698.1M227.65 680.9V688.9M229.89 691.4V697.2M236.62 691.8V694.6M238.86 682.1V692.7M243.35 670.5V675.4M245.59 665.2V673.2M256.80 628.5V638.5M261.29 639.5V647.6M263.53 648.4V654.1M265.78 645.4V654.8M268.02 650.4V655.7M270.26 650.0V660.3M272.50 662.9V670.8M274.75 668.3V675.0M276.99 665.5V678.6M279.23 661.8V674.0M283.72 673.9V680.8M285.96 678.4V688.9M292.69 689.4V692.9M294.93 684.9V688.9M299.42 666.9V671.6M301.66 665.0V669.7M303.90 665.8V673.4M310.63 662.1V667.1M315.12 672.6V680.1M317.36 680.4V690.1M324.09 664.9V668.8M326.33 658.3V660.1M333.06 639.4V644.7M344.27 629.1V636.7M357.73 637.7V643.5M359.97 637.2V645.0M373.43 613.4V620.7M375.67 617.3V627.4M377.92 628.4V636.8M380.16 638.8V642.9M400.34 546.7V549.9M409.32 437.5V453.2M413.80 423.6V432.0M416.04 401.0V414.3M420.53 363.0V382.0M422.77 347.6V365.5M425.02 292.4V318.2M436.23 121.0V139.8M438.47 153.8V175.6M440.72 152.1V199.3M445.20 265.1V348.1M447.44 351.5V400.7M449.69 437.2V452.9M456.42 316.8V344.3M458.66 379.2V423.3M465.39 383.6V403.6M467.63 414.4V458.9M472.12 538.5V558.8M476.60 551.9V565.3M496.79 361.6V368.5M512.49 354.2V368.3M514.73 348.8V378.9M516.97 402.7V438.2M521.46 495.8V530.4M523.70 510.7V523.2M525.94 519.7V538.2M534.91 500.7V525.4M537.16 525.9V545.8M546.13 477.0V486.6M548.37 464.7V478.5M550.61 459.2V478.7M564.07 499.5V510.3M568.56 515.6V525.9M573.04 482.7V483.4M575.29 498.9V511.2M577.53 501.2V511.9M582.01 483.6V488.8M584.26 479.8V485.1M588.74 467.4V476.2M595.47 494.3V502.9M597.71 499.0V508.7M599.96 496.6V500.5M602.20 484.9V494.2M604.44 484.9V491.1M615.66 489.6V503.8M622.38 485.2V491.2M624.63 488.0V496.2M629.11 500.2V505.1M631.36 495.4V506.8M638.08 497.2V501.4M644.81 502.9V516.6M647.06 527.0V534.2M651.54 530.5V537.1M656.03 541.7V550.0M658.27 550.8V577.0M660.51 548.1V554.3M676.21 531.5V537.7M685.18 544.1V550.3M687.43 550.1V556.6M691.91 556.6V564.1M696.40 563.8V575.8M698.64 570.0V576.6M700.88 575.2V582.5M703.13 575.2V582.4M705.37 580.2V592.2M709.86 573.0V582.5M718.83 568.5V577.0M721.07 564.0V572.3M725.56 584.0V588.8M727.80 594.0V597.8M732.28 586.6V588.9M741.25 569.4V574.6M743.50 548.9V557.1M750.23 554.1V562.8M756.95 546.7V555.4M763.68 550.5V556.2M765.93 553.2V563.4M772.65 560.6V574.4M777.14 575.7V580.8M781.63 577.0V581.0M783.87 582.8V587.3M786.11 572.7V581.4M792.84 575.0V581.7M795.08 579.3V583.7M799.57 567.1V574.5M801.81 586.7V589.2M804.05 599.8V609.0M815.27 564.2V570.1M817.51 568.3V576.6M819.75 568.3V570.4M833.21 564.7V570.6M835.45 563.8V575.0M839.94 562.0V571.1M844.42 572.3V584.5M848.91 597.1V602.6M851.15 607.6V615.0M853.40 625.0V630.9M857.88 619.7V624.0M862.37 616.0V622.2M866.85 610.9V622.7M869.10 621.6V631.3M871.34 631.4V640.1M875.82 646.9V649.5M884.80 651.5V655.1M887.04 657.0V662.0M889.28 659.0V663.7M891.52 656.0V667.6M893.77 671.4V683.9M896.01 693.8V697.6M898.25 688.6V691.3M900.50 683.4V689.5M902.74 676.7V681.0M904.98 671.8V673.5M907.22 666.7V673.4M909.47 665.9V675.2M916.20 668.4V674.7M920.68 677.2V682.4M922.92 685.7V690.7M925.17 692.7V695.8M929.65 688.9V691.8M934.14 691.5V695.4M936.38 687.7V695.2M952.08 590.3V594.1M956.57 597.8V607.9M961.05 579.1V588.5M963.29 585.5V597.2M965.54 597.8V603.0M967.78 596.8V605.0M970.02 598.5V615.5M972.27 626.0V632.9M974.51 625.0V634.1M981.24 636.6V646.0M983.48 644.3V655.4M996.94 623.4V632.1M1003.67 622.6V628.8M1005.91 623.5V631.5M1021.61 595.3V601.1M1023.85 592.7V597.7M1032.82 596.7V613.5M1035.07 596.3V601.9M1039.55 594.0V602.9M1041.79 593.9V600.0M1048.52 595.3V606.8M1050.77 597.1V603.2M1057.49 574.6V582.9M1059.74 565.8V577.2M1061.98 561.5V582.8M1066.46 551.3V560.4M1073.19 542.7V577.0M1082.16 489.2V498.4M1084.41 477.7V497.0M1088.89 529.1V535.8M1091.14 553.1V559.2M1104.59 521.3V527.2M1113.56 499.3V503.0M1115.81 495.6V516.2M1120.29 488.2V494.0M1122.54 483.2V495.8M1124.78 478.9V488.8M1135.99 363.4V382.7M1138.24 356.6V369.6M1144.96 356.4V367.8M1147.21 375.7V392.8M1149.45 386.7V391.3M1158.42 389.8V406.5M1160.66 395.2V403.4M1162.91 393.7V398.6M1178.61 364.7V372.1M1183.09 389.0V393.8M1187.58 369.9V375.9M1189.82 364.3V377.3M1196.55 326.3V334.8M1198.79 318.6V335.3M1201.03 295.9V307.3M1205.52 260.6V263.4M1207.76 234.3V262.7M1210.01 257.5V271.9M1214.49 211.0V252.1M1218.98 289.2V305.8M1221.22 314.2V327.4M1223.46 329.6V354.2M1225.71 369.1V383.7M1232.43 354.3V358.8M1234.68 355.2V361.4M1236.92 344.6V352.9M1245.89 310.8V321.2M1252.62 251.3V272.7M1257.11 256.9V265.5M1263.83 235.8V252.7M1270.56 193.2V212.4M1272.81 207.0V219.7M1279.53 203.1V209.7M1281.78 207.6V229.4M1284.02 224.9V239.3M1286.26 222.4V252.6M1288.50 245.4V270.4M1290.75 257.2V284.8M1301.96 262.9V280.4M1317.66 218.9V231.8M1319.90 205.8V225.4M1324.39 209.5V220.7M1333.36 230.5V237.7M1335.60 239.9V261.6M1340.09 273.8V293.1M1342.33 288.9V295.6M1344.58 290.1V316.6M1349.06 323.7V336.2M1351.30 339.5V348.3M1358.03 364.2V376.7M1360.28 358.4V368.9M1364.76 378.5V389.8M1369.25 396.8V410.6M1371.49 400.1V421.1M1373.73 429.6V437.4M1375.98 449.9V463.1M1384.95 448.3V459.3" stroke="#1a7f24"/><path d="M1.68 801.4V808.8M3.92 809.3V814.1M10.65 813.2V818.6M19.62 808.5V812.4M24.11 809.1V814.0M30.84 801.9V806.4M33.08 803.7V808.0M35.32 804.9V809.3M37.57 804.0V808.3M39.81 805.4V808.6M46.54 810.2V815.8M60.00 806.3V809.3M66.72 800.1V805.0M68.97 800.0V808.5M75.70 810.6V815.3M80.18 808.0V813.3M84.67 809.3V814.7M86.91 816.8V819.8M89.15 815.0V819.9M93.64 825.2V829.7M95.88 832.1V835.6M113.82 796.6V798.6M120.55 787.1V793.5M129.52 774.6V777.3M131.77 777.1V784.9M134.01 776.8V780.8M138.49 776.2V781.7M140.74 776.5V782.8M160.92 733.1V739.3M163.17 733.7V738.0M165.41 738.2V743.3M167.65 744.5V749.9M176.62 718.8V724.3M183.35 708.0V709.9M185.59 700.7V707.1M187.84 704.0V710.9M192.32 709.3V712.3M196.81 687.8V692.9M199.05 689.2V695.2M210.27 659.4V670.3M212.51 674.0V677.0M214.75 680.5V689.9M216.99 686.9V697.7M219.24 694.7V697.9M230.45 697.9V702.4M252.88 635.8V639.2M255.12 625.0V629.0M257.36 631.7V638.4M259.61 632.7V644.2M261.85 645.1V652.5M264.09 653.5V660.2M277.55 670.0V676.7M279.79 667.3V678.8M288.76 686.7V694.4M291.01 685.8V692.3M302.22 667.3V671.0M304.46 669.4V675.1M306.71 663.1V672.2M311.19 662.0V668.6M313.44 667.6V670.4M331.38 643.2V647.8M335.86 634.0V642.0M338.11 630.9V637.3M340.35 634.8V641.7M351.56 621.6V638.2M356.05 632.7V637.2M358.29 642.2V647.2M373.99 614.6V623.9M376.23 614.1V629.9M412.12 426.5V434.2M418.85 370.2V379.7M443.52 215.8V245.6M445.76 317.6V378.9M448.00 382.3V417.0M452.49 369.1V401.3M456.98 324.2V380.4M459.22 399.5V440.2M465.95 384.2V410.8M468.19 440.4V500.5M474.92 505.5V545.7M486.13 439.0V453.5M490.62 402.5V418.8M492.86 396.4V401.8M501.83 320.1V372.3M517.53 434.8V464.9M519.78 471.0V508.2M522.02 509.6V525.5M524.26 518.7V534.3M526.50 533.0V542.0M533.23 474.6V482.7M535.48 508.1V523.7M537.72 535.4V555.1M551.18 457.3V467.2M553.42 449.0V481.1M555.66 466.4V481.7M557.90 491.2V499.6M562.39 483.1V499.5M564.63 496.5V506.2M566.87 512.2V527.4M573.60 482.5V491.5M575.85 504.7V507.3M582.57 485.6V497.7M591.55 476.2V488.8M593.79 484.2V496.8M605.00 480.8V491.7M609.49 481.8V485.1M611.73 484.0V495.9M613.97 489.9V495.8M618.46 491.0V493.4M620.70 491.8V492.8M622.95 488.2V496.3M625.19 485.6V496.0M627.43 489.8V502.4M634.16 493.3V505.4M636.40 490.6V499.5M640.89 485.6V507.1M647.62 531.0V534.6M652.10 529.4V539.5M654.35 532.8V540.5M658.83 552.6V564.3M661.07 554.9V558.2M674.53 530.5V543.6M676.77 528.5V542.9M685.74 541.5V552.8M690.23 547.0V559.2M692.47 558.3V567.7M696.96 566.6V574.6M699.20 572.4V578.1M703.69 581.5V587.2M708.17 577.8V586.7M712.66 571.4V577.8M714.90 570.7V575.5M717.14 566.1V573.4M721.63 564.8V578.8M723.87 567.9V578.0M728.36 597.8V605.2M730.60 589.0V598.4M735.09 572.5V584.2M739.57 566.0V571.0M741.82 568.3V576.8M744.06 553.1V558.2M746.30 551.2V558.7M748.54 543.3V559.8M753.03 554.7V566.7M757.52 549.7V557.5M759.76 547.8V555.0M764.24 552.5V566.7M770.97 543.9V564.5M773.22 562.0V567.0M775.46 571.3V572.4M777.70 574.0V582.7M779.94 578.1V585.5M782.19 576.4V582.9M786.67 577.6V585.4M793.40 576.6V583.4M795.64 584.3V587.3M797.89 576.7V582.0M800.13 570.7V579.5M802.37 588.8V598.7M804.61 596.4V623.0M806.86 604.7V607.9M824.80 558.1V564.2M829.29 569.8V578.5M840.50 566.1V571.9M842.74 560.8V571.0M844.99 578.9V584.6M847.23 587.4V594.0M849.47 592.1V604.6M851.71 609.7V626.2M853.96 622.0V630.3M856.20 619.3V624.8M865.17 606.1V614.7M867.41 610.4V621.3M869.66 626.7V634.9M871.90 638.9V645.9M874.14 640.1V647.1M878.63 644.2V653.8M883.11 649.5V655.8M885.36 652.4V659.7M889.84 660.1V663.7M892.09 666.5V672.6M894.33 679.5V687.8M901.06 682.6V689.9M912.27 671.3V675.7M916.76 669.8V677.0M919.00 673.2V683.5M921.24 681.4V685.4M925.73 694.8V698.9M932.46 684.8V696.8M936.94 688.6V695.8M952.64 591.9V599.2M954.88 595.5V602.6M957.13 601.4V608.7M963.86 592.6V598.5M966.10 600.8V606.3M968.34 598.4V604.5M970.58 611.0V617.5M972.83 630.1V634.9M975.07 632.7V637.5M977.31 639.9V646.2M981.80 642.8V650.1M990.77 631.8V638.5M993.01 625.2V628.3M999.74 630.8V632.0M1001.98 627.6V631.3M1006.47 627.6V632.9M1008.71 625.8V630.2M1015.44 609.0V612.8M1022.17 595.4V600.9M1024.41 591.8V601.0M1026.65 601.1V604.9M1031.14 601.0V604.5M1037.87 589.7V600.7M1040.11 596.5V603.3M1044.60 589.9V591.8M1046.84 588.5V598.2M1051.33 596.2V603.2M1055.81 576.5V587.7M1064.78 556.4V566.8M1069.27 538.8V555.8M1071.51 534.1V542.5M1078.24 499.3V507.0M1082.73 489.2V495.7M1084.97 486.0V507.0M1087.21 504.3V507.4M1089.45 530.5V542.3M1091.70 556.0V570.4M1096.18 539.3V547.2M1098.43 527.9V541.1M1100.67 534.6V549.2M1107.40 506.6V508.0M1111.88 494.3V511.6M1114.13 501.6V509.3M1118.61 492.2V499.8M1123.10 486.5V495.5M1134.31 333.3V368.3M1150.01 383.2V399.2M1152.25 360.0V374.6M1154.50 363.0V369.2M1167.95 365.2V370.9M1170.20 379.0V389.6M1172.44 370.5V397.8M1176.92 365.4V378.2M1181.41 369.1V390.7M1183.65 383.6V394.7M1203.84 279.8V288.3M1206.08 258.5V268.9M1208.32 248.5V264.9M1210.57 256.0V272.2M1215.05 236.3V255.8M1217.30 259.1V285.8M1219.54 303.2V317.1M1221.78 329.0V335.8M1224.02 349.2V362.2M1226.27 377.5V395.0M1232.99 357.3V366.5M1241.97 309.1V335.9M1246.45 315.5V334.0M1248.69 297.7V314.9M1259.91 252.2V277.5M1266.64 208.1V230.3M1271.12 200.6V225.7M1273.37 209.7V221.5M1275.61 205.2V212.8M1282.34 206.6V226.7M1284.58 232.1V236.0M1286.82 226.4V251.2M1289.07 263.1V272.2M1291.31 265.6V278.3M1300.28 260.1V266.5M1309.25 241.0V255.3M1313.74 231.4V246.0M1315.98 218.4V239.4M1320.47 206.5V217.9M1324.95 211.5V227.2M1327.19 212.1V222.0M1329.44 198.4V227.5M1331.68 206.7V234.9M1333.92 232.4V247.8M1336.17 237.0V258.9M1338.41 253.4V275.7M1340.65 271.0V301.9M1345.14 305.3V321.6M1349.62 332.8V338.2M1351.86 331.7V353.3M1354.11 344.9V356.8M1356.35 350.2V357.3M1358.59 362.7V376.0M1360.84 368.1V374.1M1365.32 380.2V398.6M1367.56 378.9V403.4M1372.05 416.5V428.9M1374.29 431.4V445.3M1376.54 461.7V494.9" stroke="#1a7f24"/><path d="M6.17 810.8V812.5M8.41 808.7V810.0M12.90 817.0V819.1M15.14 807.9V812.4M17.38 808.0V812.2M21.87 806.9V810.3M26.35 805.7V809.3M28.60 804.6V809.1M42.05 809.8V812.2M44.30 810.5V813.5M48.78 813.6V816.1M51.02 806.2V812.4M53.27 806.2V809.2M55.51 805.3V811.6M57.75 801.8V805.3M62.24 809.3V815.0M64.48 801.3V807.5M71.21 815.4V816.6M73.45 815.2V817.7M77.94 808.0V811.8M82.42 809.7V813.9M91.40 823.0V826.3M98.12 825.3V833.5M100.37 823.5V827.6M102.61 820.0V828.2M104.85 813.6V820.0M107.10 810.7V815.7M109.34 806.7V810.9M111.58 799.6V803.3M116.07 793.5V797.5M118.31 791.7V796.7M122.79 782.1V788.5M125.04 779.1V782.3M127.28 776.9V779.2M136.25 773.9V780.6M142.98 778.3V784.1M145.22 776.5V778.6M147.47 766.6V771.2M149.71 756.7V761.7M151.95 749.1V760.0M154.19 746.4V751.0M156.44 739.5V743.5M158.68 734.0V738.5M169.89 742.5V749.6M172.14 731.3V738.7M174.38 725.7V730.8M178.87 715.6V718.8M181.11 709.3V713.5M190.08 706.3V713.4M194.57 699.4V712.3M201.29 686.0V691.6M203.54 675.4V684.5M205.78 673.8V678.8M208.02 660.6V676.0M221.48 687.7V698.7M223.72 685.8V694.8M225.96 681.8V690.0M228.21 683.4V694.9M232.69 692.6V697.7M234.94 692.9V698.9M237.18 688.3V694.5M239.42 684.6V695.5M241.66 678.9V685.0M243.91 671.6V679.3M246.15 663.1V671.3M248.39 652.2V657.9M250.64 643.8V652.4M266.34 647.7V654.8M268.58 645.4V657.8M270.82 657.7V662.9M273.06 666.3V669.0M275.31 663.7V674.2M282.04 672.6V675.6M284.28 674.4V680.0M286.52 681.4V686.5M293.25 681.2V688.7M295.49 682.7V689.6M297.74 675.6V682.0M299.98 661.0V675.7M308.95 658.1V664.1M315.68 670.8V682.0M317.92 678.8V686.4M320.16 678.7V685.7M322.41 667.4V674.0M324.65 664.2V676.9M326.89 656.6V661.8M329.14 647.1V652.5M333.62 641.5V649.9M342.59 636.5V643.9M344.83 635.0V642.2M347.08 626.3V632.6M349.32 627.3V632.7M353.81 636.0V643.3M360.53 643.9V647.3M362.78 633.8V639.4M365.02 627.0V640.8M367.26 621.7V625.8M369.51 619.0V627.7M371.75 604.0V616.3M378.48 631.4V638.3M380.72 633.9V639.1M382.96 614.7V626.8M385.21 599.5V607.1M387.45 589.6V608.3M389.69 587.5V590.1M391.93 576.4V584.7M394.18 570.3V585.7M396.42 564.4V572.5M398.66 556.2V573.9M400.91 533.8V557.4M403.15 505.5V520.8M405.39 475.8V488.3M407.63 447.5V462.8M409.88 445.8V458.1M414.36 421.5V430.8M416.61 389.7V417.9M421.09 357.0V383.0M423.33 332.3V360.2M425.58 277.1V326.9M427.82 254.7V279.0M430.06 207.7V237.5M432.31 159.4V184.6M434.55 131.9V191.7M436.79 121.2V138.6M439.03 143.0V166.1M441.28 148.4V188.9M450.25 422.8V462.8M454.73 325.0V360.4M461.46 411.3V421.5M463.70 371.4V407.9M470.43 501.2V532.0M472.68 542.3V559.7M477.16 542.0V563.8M479.40 507.0V532.6M481.65 511.1V523.9M483.89 469.8V486.1M488.38 413.3V435.1M495.10 372.8V395.3M497.35 361.8V388.5M499.59 354.5V380.8M504.08 382.3V405.0M506.32 380.0V396.3M508.56 362.5V377.0M510.80 353.6V373.4M513.05 361.3V375.3M515.29 364.2V396.4M528.75 513.3V531.2M530.99 491.8V510.8M539.96 540.2V552.6M542.20 513.4V535.7M544.45 485.5V498.2M546.69 471.5V486.9M548.93 465.2V479.5M560.15 491.5V495.5M569.12 518.9V525.2M571.36 493.8V510.7M578.09 503.8V509.6M580.33 490.6V498.2M584.82 476.8V483.5M587.06 473.4V484.8M589.30 472.0V477.9M596.03 498.6V506.3M598.27 497.2V505.4M600.52 483.5V505.1M602.76 488.9V496.5M607.25 484.7V488.2M616.22 493.2V501.2M629.67 499.2V504.5M631.92 498.1V509.5M638.65 498.4V505.4M643.13 496.5V502.6M645.37 513.3V519.3M649.86 534.0V540.4M656.59 539.7V550.0M663.32 556.9V564.8M665.56 548.7V560.9M667.80 544.4V555.8M670.04 548.4V553.4M672.29 541.0V543.9M679.02 533.6V548.6M681.26 538.4V542.8M683.50 532.7V542.7M687.99 549.2V552.8M694.72 561.0V569.8M701.44 572.4V582.7M705.93 582.7V590.1M710.42 572.5V581.7M719.39 571.7V581.5M726.12 584.7V591.8M732.84 578.5V594.1M737.33 568.4V578.7M750.79 558.1V563.2M755.27 549.1V565.8M762.00 543.7V560.5M766.49 556.3V569.6M768.73 547.8V557.6M784.43 579.8V587.2M788.91 578.8V588.3M791.16 574.9V580.6M809.10 587.4V599.3M811.34 580.6V592.2M813.59 568.4V580.0M815.83 564.6V567.9M818.07 566.4V579.9M820.31 566.7V570.2M822.56 557.3V561.7M827.04 565.5V572.9M831.53 567.0V577.9M833.77 563.1V573.9M836.01 563.7V576.8M838.26 566.5V574.1M858.44 619.9V625.8M860.69 613.1V621.8M862.93 613.3V622.2M876.39 646.5V647.6M880.87 648.8V655.4M887.60 655.6V660.0M896.57 693.0V706.1M898.81 685.7V692.1M903.30 672.2V682.6M905.54 667.4V675.4M907.78 667.1V674.7M910.03 674.2V676.5M914.51 664.2V672.9M923.48 687.6V693.7M927.97 686.6V696.3M930.21 690.4V694.3M934.70 686.5V697.4M939.18 682.8V687.0M941.43 663.7V673.0M943.67 643.8V656.6M945.91 620.5V637.2M948.16 593.6V604.6M950.40 583.9V586.0M959.37 584.9V593.1M961.61 580.6V589.6M979.56 638.8V644.2M984.04 649.0V656.8M986.28 638.5V647.8M988.53 636.3V638.5M995.26 624.6V630.8M997.50 626.6V631.5M1004.23 617.7V629.4M1010.95 621.8V629.0M1013.20 610.3V619.7M1017.68 598.7V603.9M1019.93 592.9V599.2M1028.90 604.6V606.3M1033.38 599.4V603.8M1035.63 591.4V604.4M1042.35 592.4V600.8M1049.08 593.7V605.6M1053.57 586.7V594.7M1058.05 574.9V584.6M1060.30 571.6V584.0M1062.54 565.7V579.1M1067.03 549.3V562.6M1073.75 546.9V565.7M1076.00 504.3V528.9M1080.48 485.4V503.3M1093.94 553.4V561.3M1102.91 520.1V535.5M1105.15 520.4V526.2M1109.64 493.0V501.7M1116.37 505.3V523.7M1120.85 483.2V493.7M1125.34 473.2V490.4M1127.58 452.1V470.2M1129.82 409.6V432.2M1132.07 367.5V389.6M1136.55 365.9V376.6M1138.80 368.6V373.6M1141.04 341.7V373.4M1143.28 345.0V352.1M1145.52 365.7V375.3M1147.77 377.5V396.4M1156.74 367.4V381.8M1158.98 393.6V412.0M1161.22 394.3V410.0M1163.47 390.5V404.8M1165.71 370.3V380.6M1174.68 366.8V375.7M1179.17 366.0V385.8M1185.90 378.2V385.5M1188.14 367.2V382.9M1190.38 367.7V381.8M1192.62 354.7V360.4M1194.87 333.4V351.2M1197.11 326.5V341.5M1199.35 319.6V325.0M1201.60 301.3V311.6M1212.81 255.3V267.3M1228.51 368.8V384.5M1230.75 362.8V378.1M1235.24 345.0V363.5M1237.48 332.3V354.7M1239.72 326.8V346.2M1244.21 312.3V326.6M1250.94 283.5V299.3M1253.18 259.2V269.6M1255.42 247.5V264.2M1257.67 250.7V261.6M1262.15 240.6V252.9M1264.39 225.6V246.1M1268.88 190.5V207.9M1277.85 185.9V205.8M1280.09 204.6V211.1M1293.55 251.6V262.9M1295.79 256.9V267.1M1298.04 251.0V268.1M1302.52 260.4V286.2M1304.77 254.8V278.4M1307.01 230.5V252.5M1311.49 221.8V239.7M1318.22 208.5V220.9M1322.71 192.6V225.4M1342.89 272.7V295.8M1347.38 319.1V333.9M1363.08 374.5V386.6M1369.81 399.4V409.5M1378.78 465.3V478.3M1381.02 450.0V462.2M1383.26 456.5V462.9M1385.51 446.4V472.0M1387.75 434.7V446.8M1389.99 420.7V436.9M1392.24 413.5V428.0M1394.48 398.1V408.9" stroke="#ee0a1e"/></g>
<path d="M435.7 88.5V128" stroke="#a3501c" stroke-width="1.5" fill="none"/>
<rect x="153.7" y="736.0" width="6" height="6" fill="#35c6d2"/><rect x="153.7" y="736.0" width="2" height="6" fill="#0a0a0a"/>
<rect x="235.0" y="686.5" width="6" height="6" fill="#35c6d2"/><rect x="235.0" y="686.5" width="2" height="6" fill="#0a0a0a"/>
<rect x="310.5" y="675.0" width="6" height="6" fill="#35c6d2"/><rect x="310.5" y="675.0" width="2" height="6" fill="#0a0a0a"/>
<rect x="391.0" y="583.5" width="6" height="6" fill="#35c6d2"/><rect x="391.0" y="583.5" width="2" height="6" fill="#0a0a0a"/>
<rect x="471.5" y="528.0" width="6" height="6" fill="#35c6d2"/><rect x="471.5" y="528.0" width="2" height="6" fill="#0a0a0a"/>
<rect x="549.5" y="471.0" width="6" height="6" fill="#35c6d2"/><rect x="549.5" y="471.0" width="2" height="6" fill="#0a0a0a"/>
<rect x="629.0" y="497.5" width="6" height="6" fill="#35c6d2"/><rect x="629.0" y="497.5" width="2" height="6" fill="#0a0a0a"/>
<rect x="708.0" y="574.0" width="6" height="6" fill="#35c6d2"/><rect x="708.0" y="574.0" width="2" height="6" fill="#0a0a0a"/>
<rect x="787.0" y="580.0" width="6" height="6" fill="#35c6d2"/><rect x="787.0" y="580.0" width="2" height="6" fill="#0a0a0a"/>
<rect x="866.0" y="625.0" width="6" height="6" fill="#35c6d2"/><rect x="866.0" y="625.0" width="2" height="6" fill="#0a0a0a"/>
<rect x="945.0" y="610.0" width="6" height="6" fill="#35c6d2"/><rect x="945.0" y="610.0" width="2" height="6" fill="#0a0a0a"/>
<rect x="1022.0" y="600.0" width="6" height="6" fill="#35c6d2"/><rect x="1022.0" y="600.0" width="2" height="6" fill="#0a0a0a"/>
<rect x="1105.5" y="521.5" width="6" height="6" fill="#35c6d2"/><rect x="1105.5" y="521.5" width="2" height="6" fill="#0a0a0a"/>
<rect x="1181.5" y="391.0" width="6" height="6" fill="#35c6d2"/><rect x="1181.5" y="391.0" width="2" height="6" fill="#0a0a0a"/>
<rect x="1262.0" y="228.0" width="6" height="6" fill="#35c6d2"/><rect x="1262.0" y="228.0" width="2" height="6" fill="#0a0a0a"/>
<rect x="1341.0" y="302.0" width="6" height="6" fill="#35c6d2"/><rect x="1341.0" y="302.0" width="2" height="6" fill="#0a0a0a"/>
<polyline points="0.0,803.7 0.6,803.6 1.1,803.6 1.7,804.2 2.2,805.2 2.8,806.3 3.4,807.9 3.9,809.8 4.5,811.0 5.0,812.2 5.6,813.1 6.2,813.3 6.7,812.6 7.3,811.4 7.8,810.3 8.4,809.6 9.0,809.0 9.5,809.5 10.1,810.5 10.7,812.1 11.2,813.5 11.8,815.0 12.3,816.3 12.9,817.2 13.5,817.0 14.0,816.4 14.6,815.5 15.1,814.0 15.7,812.7 16.3,812.0 16.8,811.5 17.4,810.8 17.9,810.5 18.5,809.5 19.1,808.9 19.6,808.8 20.2,808.7 20.7,808.3 21.3,808.6 21.9,808.2 22.4,808.1 23.0,808.4 23.5,809.0 24.1,809.7 24.7,810.3 25.2,810.1 25.8,809.8 26.4,809.3 26.9,808.1 27.5,807.5 28.0,807.6 28.6,807.6 29.2,807.7 29.7,807.6 30.3,807.0 30.8,806.3 31.4,805.7 32.0,804.4 32.5,804.2 33.1,804.6 33.6,804.8 34.2,804.9 34.8,805.9 35.3,806.6 35.9,807.1 36.4,807.3 37.0,807.3 37.6,807.5 38.1,807.0 38.7,806.2 39.2,806.0 39.8,806.2 40.4,806.1 40.9,806.9 41.5,808.2 42.1,809.2 42.6,810.3 43.2,811.2 43.7,812.1 44.3,812.4 44.9,812.9 45.4,812.5 46.0,812.7 46.5,812.9 47.1,813.3 47.7,813.9 48.2,814.9 48.8,815.3 49.3,814.8 49.9,813.8 50.5,812.7 51.0,810.9 51.6,808.9 52.1,807.6 52.7,807.4 53.3,806.7 53.8,806.7 54.4,807.6 54.9,807.9 55.5,807.4 56.1,807.3 56.6,807.0 57.2,805.8 57.8,805.2 58.3,804.7 58.9,804.6 59.4,805.1 60.0,806.1 60.6,806.9 61.1,808.0 61.7,809.3 62.2,809.7 62.8,810.2 63.4,810.2 63.9,809.1 64.5,807.3 65.0,806.3 65.6,805.3 66.2,804.1 66.7,803.9 67.3,803.9 67.8,803.7 68.4,803.8 69.0,804.8 69.5,806.0 70.1,808.2 70.6,810.6 71.2,812.7 71.8,814.6 72.3,816.1 72.9,816.6 73.5,816.5 74.0,816.1 74.6,815.6 75.1,815.0 75.7,814.5 76.3,813.7 76.8,813.2 77.4,812.4 77.9,811.5 78.5,810.3 79.1,810.0 79.6,809.7 80.2,810.1 80.7,810.7 81.3,811.3 81.9,812.2 82.4,812.7 83.0,813.0 83.5,813.3 84.1,813.9 84.7,813.7 85.2,813.8 85.8,814.1 86.3,815.0 86.9,815.7 87.5,816.4 88.0,817.5 88.6,818.5 89.2,818.8 89.7,819.9 90.3,821.2 90.8,822.5 91.4,823.4 92.0,824.5 92.5,825.2 93.1,826.0 93.6,826.8 94.2,827.8 94.8,828.8 95.3,829.7 95.9,830.9 96.4,831.6 97.0,832.1 97.6,831.9 98.1,831.2 98.7,830.2 99.2,829.0 99.8,828.0 100.4,827.1 100.9,826.7 101.5,826.2 102.0,825.6 102.6,824.5 103.2,823.5 103.7,822.1 104.3,820.6 104.9,818.8 105.4,817.5 106.0,815.7 106.5,814.8 107.1,813.7 107.7,812.9 108.2,812.1 108.8,811.5 109.3,810.1 109.9,808.3 110.5,805.9 111.0,804.5 111.6,802.8 112.1,800.9 112.7,799.4 113.3,798.7 113.8,797.7 114.4,797.2 114.9,796.9 115.5,796.5 116.1,796.0 116.6,795.6 117.2,795.0 117.7,794.7 118.3,794.4 118.9,793.8 119.4,793.0 120.0,792.0 120.6,791.3 121.1,790.4 121.7,789.2 122.2,788.2 122.8,787.2 123.4,786.1 123.9,785.1 124.5,784.1 125.0,782.9 125.6,781.6 126.2,780.2 126.7,779.5 127.3,779.0 127.8,778.2 128.4,777.6 129.0,776.8 129.5,776.3 130.1,775.9 130.6,775.6 131.2,776.0 131.8,777.3 132.3,778.0 132.9,778.7 133.4,779.5 134.0,780.0 134.6,779.6 135.1,778.7 135.7,778.5 136.3,777.9 136.8,776.9 137.4,776.6 137.9,776.8 138.5,777.0 139.1,777.5 139.6,777.9 140.2,778.2 140.7,779.1 141.3,779.9 141.9,780.7 142.4,781.9 143.0,781.8 143.5,781.2 144.1,780.2 144.7,779.3 145.2,778.1 145.8,777.3 146.3,776.5 146.9,774.5 147.5,772.2 148.0,770.1 148.6,767.9 149.1,765.2 149.7,763.1 150.3,761.1 150.8,759.0 151.4,757.2 152.0,755.8 152.5,754.6 153.1,753.4 153.6,752.4 154.2,751.0 154.8,749.9 155.3,748.1 155.9,745.9 156.4,743.8 157.0,742.0 157.6,740.3 158.1,739.4 158.7,738.2 159.2,737.4 159.8,737.2 160.4,736.8 160.9,736.6 161.5,736.9 162.0,736.7 162.6,736.3 163.2,736.1 163.7,736.4 164.3,736.8 164.8,737.7 165.4,738.8 166.0,740.0 166.5,740.6 167.1,742.1 167.7,743.6 168.2,744.6 168.8,745.5 169.3,746.5 169.9,746.3 170.5,745.8 171.0,744.0 171.6,742.1 172.1,739.6 172.7,737.0 173.3,734.0 173.8,732.2 174.4,730.8 174.9,729.4 175.5,728.2 176.1,726.7 176.6,725.8 177.2,724.7 177.7,723.5 178.3,721.8 178.9,720.5 179.4,719.0 180.0,717.2 180.5,716.0 181.1,714.6 181.7,713.1 182.2,711.2 182.8,709.8 183.4,708.7 183.9,708.0 184.5,707.1 185.0,706.4 185.6,706.1 186.2,705.3 186.7,705.5 187.3,706.2 187.8,707.4 188.4,708.7 189.0,709.9 189.5,710.5 190.1,710.6 190.6,710.5 191.2,709.8 191.8,709.5 192.3,709.4 192.9,709.9 193.4,709.1 194.0,708.3 194.6,706.3 195.1,703.1 195.7,699.9 196.2,697.0 196.8,694.3 197.4,692.3 197.9,691.6 198.5,690.5 199.1,690.6 199.6,690.3 200.2,690.4 200.7,690.2 201.3,689.8 201.9,688.7 202.4,687.8 203.0,686.1 203.5,684.1 204.1,683.2 204.7,681.9 205.2,680.1 205.8,679.0 206.3,677.6 206.9,675.9 207.5,673.6 208.0,671.6 208.6,669.2 209.1,666.5 209.7,664.3 210.3,663.5 210.8,664.0 211.4,665.5 211.9,668.7 212.5,671.5 213.1,673.8 213.6,675.5 214.2,676.8 214.8,678.5 215.3,680.9 215.9,684.1 216.4,687.1 217.0,690.2 217.6,692.8 218.1,694.3 218.7,695.3 219.2,696.2 219.8,696.1 220.4,695.9 220.9,695.7 221.5,694.8 222.0,694.0 222.6,693.4 223.2,692.4 223.7,690.5 224.3,690.2 224.8,689.8 225.4,689.7 226.0,688.1 226.5,687.1 227.1,685.2 227.6,684.3 228.2,683.7 228.8,684.8 229.3,687.1 229.9,690.2 230.5,693.0 231.0,695.6 231.6,697.5 232.1,698.4 232.7,698.2 233.3,698.0 233.8,697.3 234.4,697.2 234.9,696.9 235.5,696.2 236.1,695.1 236.6,694.5 237.2,692.9 237.7,691.4 238.3,690.4 238.9,690.1 239.4,689.0 240.0,688.0 240.5,686.5 241.1,685.0 241.7,682.7 242.2,680.7 242.8,678.8 243.3,677.8 243.9,676.2 244.5,674.5 245.0,672.4 245.6,671.4 246.2,669.4 246.7,667.5 247.3,665.3 247.8,663.0 248.4,659.6 249.0,657.7 249.5,655.1 250.1,652.3 250.6,650.2 251.2,648.0 251.8,645.1 252.3,642.4 252.9,640.7 253.4,639.2 254.0,637.7 254.6,635.1 255.1,633.3 255.7,631.0 256.2,629.2 256.8,629.3 257.4,630.5 257.9,630.8 258.5,632.3 259.0,633.1 259.6,634.1 260.2,635.5 260.7,637.7 261.3,640.3 261.9,643.5 262.4,645.6 263.0,647.7 263.5,650.4 264.1,652.1 264.7,653.7 265.2,654.4 265.8,654.9 266.3,654.0 266.9,652.5 267.5,651.2 268.0,651.3 268.6,651.1 269.1,652.0 269.7,653.3 270.3,655.0 270.8,655.8 271.4,657.6 271.9,660.5 272.5,663.4 273.1,665.0 273.6,666.3 274.2,667.7 274.7,668.8 275.3,668.8 275.9,669.1 276.4,670.3 277.0,671.1 277.6,671.0 278.1,670.9 278.7,670.8 279.2,670.6 279.8,670.4 280.4,669.4 280.9,670.1 281.5,670.7 282.0,671.3 282.6,671.8 283.2,673.6 283.7,674.6 284.3,675.2 284.8,676.2 285.4,677.7 286.0,679.2 286.5,680.8 287.1,683.0 287.6,684.7 288.2,685.8 288.8,687.0 289.3,687.9 289.9,688.7 290.4,689.6 291.0,690.5 291.6,690.6 292.1,690.9 292.7,691.1 293.2,690.2 293.8,689.1 294.4,688.0 294.9,687.1 295.5,685.5 296.1,684.7 296.6,683.7 297.2,682.0 297.7,679.9 298.3,677.8 298.9,675.5 299.4,673.7 300.0,672.4 300.5,671.5 301.1,670.6 301.7,670.1 302.2,669.8 302.8,669.1 303.3,668.6 303.9,669.1 304.5,670.1 305.0,670.5 305.6,670.9 306.1,670.8 306.7,670.4 307.3,669.2 307.8,668.1 308.4,666.8 308.9,665.5 309.5,664.2 310.1,663.3 310.6,662.9 311.2,663.2 311.8,664.5 312.3,665.9 312.9,666.8 313.4,667.8 314.0,669.2 314.6,670.4 315.1,672.5 315.7,674.4 316.2,677.3 316.8,679.7 317.4,681.8 317.9,682.6 318.5,683.3 319.0,682.9 319.6,682.6 320.2,681.7 320.7,680.6 321.3,679.3 321.8,677.6 322.4,675.6 323.0,673.6 323.5,671.4 324.1,670.0 324.6,668.5 325.2,666.0 325.8,663.7 326.3,662.4 326.9,660.3 327.5,658.8 328.0,658.1 328.6,656.8 329.1,654.3 329.7,653.5 330.3,651.9 330.8,649.6 331.4,648.8 331.9,648.6 332.5,646.5 333.1,645.4 333.6,644.9 334.2,644.0 334.7,644.0 335.3,644.2 335.9,643.7 336.4,642.7 337.0,640.6 337.5,637.6 338.1,635.9 338.7,634.4 339.2,633.9 339.8,634.1 340.3,635.4 340.9,636.6 341.5,638.5 342.0,639.3 342.6,640.1 343.2,639.8 343.7,639.0 344.3,637.3 344.8,636.5 345.4,635.7 346.0,634.8 346.5,633.1 347.1,631.7 347.6,631.1 348.2,631.3 348.8,631.1 349.3,631.9 349.9,632.7 350.4,632.8 351.0,632.2 351.6,633.2 352.1,634.5 352.7,636.2 353.2,637.2 353.8,638.6 354.4,639.1 354.9,639.2 355.5,638.0 356.0,637.6 356.6,637.4 357.2,636.8 357.7,637.1 358.3,639.0 358.9,639.7 359.4,641.0 360.0,642.8 360.5,643.7 361.1,643.2 361.7,643.2 362.2,641.7 362.8,639.6 363.3,637.6 363.9,636.5 364.5,635.4 365.0,633.8 365.6,631.8 366.1,629.9 366.7,627.0 367.3,624.9 367.8,623.8 368.4,623.6 368.9,623.0 369.5,622.4 370.1,621.3 370.6,619.7 371.2,616.5 371.7,613.2 372.3,611.2 372.9,610.6 373.4,611.5 374.0,614.3 374.6,617.8 375.1,620.4 375.7,622.4 376.2,623.9 376.8,625.1 377.4,626.9 377.9,629.5 378.5,631.4 379.0,633.2 379.6,635.5 380.2,636.9 380.7,637.0 381.3,636.6 381.8,634.7 382.4,630.9 383.0,626.3 383.5,621.5 384.1,616.5 384.6,612.3 385.2,608.4 385.8,605.1 386.3,602.9 386.9,600.8 387.4,598.0 388.0,596.2 388.6,594.9 389.1,592.3 389.7,590.4 390.3,590.1 390.8,588.3 391.4,586.0 391.9,584.2 392.5,583.0 393.1,581.1 393.6,580.0 394.2,578.7 394.7,577.2 395.3,574.3 395.9,571.9 396.4,569.3 397.0,568.3 397.5,566.8 398.1,565.4 398.7,563.5 399.2,561.8 399.8,557.7 400.3,554.5 400.9,550.1 401.5,544.3 402.0,538.5 402.6,532.3 403.1,523.8 403.7,515.3 404.3,507.0 404.8,499.0 405.4,492.4 406.0,487.9 406.5,483.6 407.1,477.5 407.6,470.1 408.2,461.5 408.8,452.6 409.3,448.2 409.9,446.8 410.4,446.7 411.0,445.6 411.6,443.1 412.1,439.2 412.7,435.2 413.2,430.4 413.8,428.2 414.4,428.4 414.9,427.3 415.5,423.8 416.0,421.5 416.6,415.9 417.2,409.2 417.7,400.7 418.3,392.4 418.8,385.3 419.4,381.7 420.0,377.5 420.5,375.8 421.1,375.7 421.7,372.7 422.2,367.2 422.8,363.5 423.3,357.7 423.9,349.3 424.5,338.5 425.0,331.0 425.6,318.6 426.1,304.6 426.7,294.2 427.3,288.0 427.8,276.9 428.4,268.8 428.9,261.3 429.5,249.9 430.1,237.6 430.6,226.6 431.2,214.5 431.7,201.9 432.3,190.3 432.9,177.3 433.4,173.2 434.0,170.3 434.5,161.9 435.1,153.5 435.7,146.7 436.2,135.8 436.8,125.4 437.4,126.8 437.9,134.2 438.5,143.0 439.0,147.5 439.6,149.4 440.2,155.1 440.7,161.0 441.3,162.0 441.8,173.2 442.4,197.1 443.0,212.5 443.5,222.7 444.1,238.1 444.6,253.6 445.2,268.5 445.8,293.4 446.3,315.2 446.9,339.9 447.4,360.4 448.0,375.2 448.6,386.2 449.1,406.7 449.7,423.2 450.2,431.3 450.8,433.5 451.4,425.8 451.9,410.3 452.5,399.5 453.1,394.4 453.6,386.6 454.2,378.8 454.7,370.3 455.3,355.6 455.9,339.3 456.4,331.7 457.0,338.4 457.5,352.4 458.1,368.2 458.7,386.8 459.2,405.3 459.8,416.5 460.3,422.3 460.9,426.2 461.5,426.4 462.0,422.6 462.6,415.8 463.1,409.4 463.7,404.9 464.3,401.0 464.8,397.1 465.4,394.3 465.9,396.3 466.5,397.4 467.1,402.6 467.6,415.1 468.2,436.9 468.8,460.5 469.3,489.0 469.9,511.1 470.4,521.8 471.0,527.9 471.6,531.4 472.1,533.5 472.7,536.5 473.2,548.3 473.8,550.9 474.4,546.6 474.9,541.6 475.5,541.6 476.0,540.1 476.6,545.2 477.2,549.1 477.7,552.2 478.3,549.4 478.8,542.1 479.4,532.7 480.0,527.5 480.5,521.6 481.1,518.2 481.6,516.5 482.2,513.9 482.8,508.9 483.3,502.4 483.9,493.6 484.5,484.0 485.0,474.9 485.6,466.8 486.1,459.7 486.7,454.1 487.3,448.4 487.8,441.9 488.4,435.4 488.9,426.4 489.5,418.5 490.1,411.8 490.6,408.0 491.2,406.6 491.7,407.7 492.3,406.9 492.9,406.0 493.4,403.8 494.0,399.4 494.5,395.1 495.1,391.0 495.7,387.3 496.2,382.4 496.8,378.1 497.3,373.8 497.9,371.1 498.5,367.9 499.0,365.6 499.6,363.4 500.2,361.0 500.7,357.8 501.3,354.2 501.8,353.2 502.4,359.8 503.0,368.5 503.5,377.0 504.1,385.6 504.6,392.5 505.2,391.5 505.8,389.4 506.3,388.5 506.9,387.4 507.4,384.6 508.0,382.2 508.6,378.6 509.1,374.6 509.7,370.3 510.2,367.9 510.8,364.5 511.4,363.2 511.9,361.7 512.5,362.1 513.0,361.8 513.6,364.9 514.2,365.6 514.7,368.2 515.3,368.9 515.9,370.6 516.4,377.5 517.0,390.4 517.5,405.9 518.1,426.8 518.7,448.6 519.2,462.8 519.8,476.4 520.3,488.9 520.9,494.6 521.5,501.9 522.0,511.1 522.6,516.7 523.1,518.5 523.7,522.3 524.3,525.7 524.8,527.7 525.4,527.9 525.9,530.7 526.5,534.6 527.1,535.6 527.6,535.4 528.2,534.7 528.7,531.1 529.3,525.8 529.9,520.0 530.4,514.0 531.0,508.2 531.6,502.7 532.1,497.1 532.7,490.9 533.2,486.2 533.8,483.7 534.4,486.0 534.9,490.9 535.5,498.3 536.0,507.6 536.6,517.7 537.2,525.2 537.7,532.5 538.3,539.6 538.8,545.0 539.4,547.5 540.0,547.4 540.5,545.5 541.1,541.5 541.6,535.9 542.2,530.4 542.8,524.2 543.3,516.9 543.9,509.4 544.4,501.8 545.0,495.4 545.6,489.1 546.1,485.1 546.7,482.5 547.3,479.2 547.8,476.4 548.4,476.3 548.9,473.8 549.5,470.9 550.1,469.2 550.6,467.9 551.2,465.1 551.7,464.7 552.3,465.7 552.9,465.8 553.4,466.9 554.0,469.1 554.5,471.8 555.1,472.4 555.7,475.4 556.2,478.9 556.8,482.6 557.3,486.0 557.9,491.0 558.5,496.5 559.0,498.1 559.6,498.2 560.1,497.4 560.7,496.0 561.3,492.8 561.8,491.3 562.4,491.0 562.9,491.5 563.5,493.8 564.1,496.9 564.6,500.3 565.2,504.3 565.8,508.3 566.3,510.8 566.9,514.0 567.4,517.0 568.0,518.2 568.6,519.7 569.1,521.1 569.7,520.1 570.2,517.3 570.8,514.4 571.4,508.9 571.9,502.5 572.5,496.1 573.0,491.4 573.6,488.1 574.2,487.3 574.7,489.3 575.3,493.7 575.8,498.4 576.4,502.1 577.0,504.6 577.5,506.4 578.1,506.6 578.6,506.3 579.2,506.0 579.8,504.5 580.3,501.5 580.9,497.9 581.5,493.7 582.0,490.2 582.6,489.1 583.1,486.7 583.7,485.5 584.3,485.3 584.8,483.6 585.4,481.0 585.9,480.1 586.5,478.9 587.1,476.9 587.6,475.5 588.2,474.3 588.7,473.6 589.3,473.4 589.9,473.6 590.4,474.4 591.0,475.5 591.5,477.0 592.1,478.8 592.7,481.9 593.2,484.2 593.8,487.8 594.3,490.7 594.9,493.9 595.5,496.0 596.0,498.6 596.6,500.5 597.2,501.8 597.7,502.7 598.3,502.0 598.8,501.3 599.4,500.4 600.0,499.6 600.5,497.3 601.1,495.5 601.6,493.4 602.2,491.5 602.8,490.0 603.3,488.6 603.9,488.7 604.4,489.4 605.0,489.6 605.6,490.1 606.1,490.5 606.7,490.0 607.2,489.3 607.8,488.0 608.4,486.2 608.9,484.8 609.5,484.3 610.0,484.3 610.6,485.1 611.2,485.7 611.7,487.3 612.3,489.3 612.9,490.8 613.4,491.7 614.0,492.6 614.5,492.8 615.1,492.8 615.7,493.4 616.2,494.2 616.8,495.6 617.3,496.9 617.9,496.7 618.5,495.8 619.0,495.5 619.6,495.0 620.1,493.7 620.7,493.4 621.3,492.6 621.8,491.0 622.4,489.6 622.9,489.9 623.5,489.7 624.1,490.6 624.6,491.5 625.2,492.0 625.7,492.2 626.3,492.8 626.9,493.0 627.4,493.9 628.0,495.0 628.6,495.9 629.1,497.6 629.7,498.9 630.2,499.6 630.8,500.5 631.4,502.0 631.9,501.9 632.5,501.4 633.0,500.6 633.6,499.5 634.2,498.2 634.7,497.5 635.3,497.7 635.8,496.9 636.4,496.7 637.0,495.5 637.5,495.4 638.1,495.5 638.6,496.9 639.2,497.3 639.8,497.7 640.3,497.3 640.9,497.5 641.4,496.9 642.0,497.4 642.6,498.0 643.1,498.5 643.7,498.8 644.3,500.5 644.8,503.5 645.4,507.0 645.9,512.3 646.5,517.6 647.1,523.1 647.6,526.9 648.2,531.2 648.7,533.7 649.3,535.4 649.9,536.0 650.4,535.9 651.0,535.3 651.5,534.8 652.1,534.6 652.7,533.8 653.2,534.2 653.8,534.3 654.3,535.4 654.9,536.9 655.5,539.2 656.0,541.1 656.6,542.4 657.1,542.4 657.7,544.0 658.3,547.1 658.8,550.0 659.4,552.9 660.0,555.6 660.5,556.1 661.1,556.1 661.6,555.9 662.2,557.5 662.8,559.5 663.3,560.4 663.9,559.8 664.4,559.5 665.0,558.0 665.6,555.5 666.1,554.0 666.7,553.4 667.2,552.0 667.8,550.7 668.4,550.4 668.9,550.3 669.5,550.1 670.0,549.9 670.6,550.1 671.2,549.4 671.7,548.1 672.3,546.3 672.8,543.9 673.4,541.1 674.0,538.9 674.5,537.3 675.1,536.4 675.7,535.4 676.2,535.6 676.8,536.5 677.3,537.6 677.9,538.1 678.5,539.4 679.0,539.4 679.6,539.2 680.1,539.6 680.7,539.9 681.3,540.1 681.8,540.9 682.4,541.6 682.9,541.2 683.5,540.8 684.1,541.1 684.6,542.3 685.2,543.4 685.7,544.8 686.3,547.3 686.9,548.9 687.4,550.0 688.0,550.5 688.5,551.0 689.1,551.3 689.7,551.7 690.2,552.6 690.8,554.5 691.4,556.4 691.9,557.9 692.5,560.0 693.0,561.9 693.6,562.8 694.2,563.6 694.7,563.8 695.3,564.4 695.8,564.6 696.4,565.6 697.0,567.5 697.5,570.0 698.1,571.4 698.6,573.2 699.2,574.8 699.8,576.1 700.3,576.6 700.9,577.8 701.4,578.1 702.0,578.6 702.6,578.5 703.1,579.5 703.7,581.0 704.2,582.4 704.8,582.7 705.4,583.9 705.9,584.6 706.5,584.3 707.1,584.7 707.6,585.2 708.2,585.2 708.7,584.8 709.3,583.4 709.9,582.1 710.4,580.8 711.0,578.2 711.5,576.2 712.1,575.5 712.7,574.7 713.2,573.9 713.8,574.0 714.3,573.8 714.9,574.2 715.5,573.3 716.0,573.0 716.6,572.3 717.1,572.4 717.7,572.2 718.3,572.6 718.8,572.9 719.4,573.5 719.9,573.0 720.5,571.6 721.1,570.6 721.6,570.3 722.2,570.7 722.8,571.7 723.3,572.9 723.9,574.6 724.4,576.3 725.0,578.4 725.6,581.0 726.1,583.7 726.7,587.4 727.2,590.3 727.8,592.7 728.4,595.9 728.9,598.2 729.5,598.2 730.0,597.9 730.6,597.4 731.2,594.4 731.7,592.3 732.3,590.6 732.8,588.7 733.4,586.1 734.0,584.7 734.5,582.9 735.1,582.1 735.6,580.8 736.2,579.6 736.8,578.2 737.3,576.5 737.9,573.9 738.5,572.3 739.0,570.3 739.6,568.9 740.1,568.1 740.7,567.8 741.3,568.2 741.8,569.0 742.4,569.0 742.9,567.0 743.5,564.4 744.1,561.8 744.6,559.2 745.2,556.7 745.7,556.2 746.3,556.1 746.9,555.2 747.4,554.5 748.0,554.2 748.5,555.3 749.1,556.4 749.7,557.2 750.2,558.5 750.8,559.6 751.3,559.2 751.9,558.4 752.5,558.4 753.0,557.9 753.6,558.1 754.2,559.0 754.7,559.7 755.3,558.6 755.8,557.0 756.4,555.3 757.0,552.9 757.5,551.1 758.1,551.0 758.6,551.4 759.2,551.5 759.8,552.3 760.3,553.9 760.9,555.3 761.4,555.8 762.0,555.4 762.6,554.3 763.1,553.0 763.7,552.1 764.2,552.5 764.8,554.1 765.4,556.1 765.9,557.6 766.5,558.3 767.0,558.3 767.6,558.2 768.2,557.6 768.7,555.3 769.3,554.0 769.9,553.3 770.4,552.3 771.0,552.9 771.5,554.4 772.1,556.5 772.7,558.9 773.2,561.9 773.8,563.1 774.3,565.4 774.9,566.9 775.5,568.2 776.0,570.5 776.6,573.0 777.1,575.0 777.7,577.6 778.3,579.9 778.8,581.1 779.4,582.0 779.9,582.7 780.5,581.6 781.1,580.5 781.6,579.6 782.2,579.5 782.7,578.8 783.3,579.9 783.9,581.5 784.4,582.4 785.0,582.2 785.6,582.2 786.1,581.4 786.7,580.2 787.2,580.3 787.8,580.9 788.4,582.3 788.9,582.9 789.5,583.2 790.0,582.4 790.6,581.5 791.2,579.7 791.7,578.7 792.3,577.6 792.8,577.3 793.4,578.3 794.0,579.5 794.5,580.5 795.1,581.7 795.6,583.2 796.2,583.2 796.8,583.3 797.3,583.1 797.9,582.7 798.4,580.9 799.0,578.3 799.6,576.2 800.1,574.8 800.7,574.8 801.3,576.3 801.8,580.0 802.4,583.7 802.9,588.4 803.5,592.1 804.1,596.1 804.6,599.1 805.2,601.6 805.7,604.2 806.3,606.3 806.9,606.7 807.4,606.0 808.0,604.9 808.5,601.6 809.1,597.5 809.7,594.8 810.2,593.2 810.8,590.9 811.3,588.6 811.9,585.9 812.5,581.9 813.0,578.1 813.6,574.5 814.1,571.6 814.7,569.7 815.3,568.5 815.8,567.0 816.4,567.1 817.0,567.7 817.5,569.4 818.1,569.3 818.6,570.0 819.2,569.9 819.8,569.7 820.3,568.3 820.9,568.2 821.4,566.8 822.0,565.0 822.6,562.8 823.1,561.5 823.7,560.7 824.2,560.3 824.8,560.7 825.4,561.6 825.9,563.3 826.5,564.5 827.0,566.1 827.6,566.9 828.2,569.2 828.7,570.1 829.3,571.3 829.8,572.6 830.4,574.7 831.0,574.8 831.5,574.4 832.1,573.8 832.7,573.0 833.2,571.7 833.8,570.5 834.3,569.5 834.9,568.9 835.5,569.0 836.0,568.2 836.6,568.3 837.1,568.4 837.7,568.8 838.3,568.2 838.8,568.9 839.4,568.4 839.9,568.4 840.5,568.4 841.1,568.3 841.6,567.5 842.2,567.2 842.7,567.1 843.3,568.0 843.9,569.8 844.4,572.6 845.0,576.4 845.5,579.8 846.1,582.5 846.7,584.9 847.2,587.5 847.8,589.6 848.3,591.9 848.9,594.0 849.5,596.5 850.0,599.4 850.6,602.6 851.2,606.2 851.7,610.8 852.3,615.0 852.8,618.5 853.4,622.1 854.0,625.2 854.5,626.3 855.1,627.4 855.6,626.8 856.2,625.4 856.8,624.5 857.3,623.8 857.9,623.1 858.4,623.5 859.0,623.8 859.6,623.2 860.1,622.8 860.7,621.7 861.2,620.3 861.8,619.3 862.4,618.8 862.9,618.6 863.5,618.2 864.0,617.5 864.6,615.8 865.2,614.5 865.7,613.3 866.3,612.7 866.9,613.3 867.4,615.1 868.0,616.8 868.5,619.2 869.1,622.4 869.7,625.4 870.2,628.0 870.8,630.1 871.3,632.7 871.9,635.7 872.5,638.5 873.0,641.4 873.6,643.7 874.1,645.2 874.7,645.4 875.3,646.0 875.8,646.3 876.4,646.9 876.9,646.4 877.5,646.5 878.1,646.1 878.6,646.5 879.2,647.4 879.7,649.0 880.3,650.1 880.9,651.1 881.4,651.0 882.0,651.5 882.6,651.6 883.1,652.3 883.7,652.5 884.2,653.2 884.8,653.3 885.4,654.0 885.9,654.4 886.5,655.7 887.0,657.2 887.6,658.3 888.2,659.1 888.7,659.7 889.3,660.4 889.8,660.6 890.4,661.6 891.0,661.4 891.5,662.5 892.1,664.3 892.6,666.4 893.2,668.3 893.8,672.5 894.3,676.5 894.9,680.5 895.4,684.8 896.0,689.2 896.6,692.2 897.1,693.2 897.7,693.0 898.3,692.4 898.8,690.9 899.4,689.5 899.9,688.2 900.5,687.7 901.1,687.1 901.6,686.2 902.2,684.7 902.7,683.5 903.3,681.2 903.9,677.8 904.4,675.3 905.0,673.9 905.5,672.2 906.1,671.2 906.7,670.8 907.2,671.0 907.8,670.1 908.3,668.9 908.9,669.0 909.5,670.3 910.0,670.8 910.6,672.2 911.1,673.6 911.7,674.0 912.3,673.5 912.8,673.5 913.4,673.2 914.0,672.7 914.5,672.5 915.1,672.0 915.6,671.1 916.2,671.0 916.8,672.1 917.3,673.1 917.9,674.9 918.4,676.1 919.0,677.5 919.6,678.2 920.1,679.5 920.7,680.1 921.2,681.5 921.8,682.3 922.4,683.8 922.9,685.4 923.5,687.2 924.0,688.8 924.6,690.9 925.2,692.7 925.7,694.3 926.3,695.5 926.8,696.3 927.4,696.3 928.0,695.2 928.5,693.7 929.1,692.5 929.7,691.4 930.2,690.6 930.8,691.1 931.3,691.1 931.9,690.8 932.5,691.6 933.0,692.1 933.6,692.3 934.1,693.0 934.7,693.4 935.3,693.0 935.8,692.4 936.4,692.3 936.9,692.2 937.5,692.4 938.1,691.9 938.6,690.9 939.2,689.2 939.7,686.8 940.3,683.4 940.9,679.5 941.4,675.9 942.0,672.0 942.5,666.6 943.1,661.8 943.7,657.4 944.2,652.1 944.8,646.9 945.4,642.7 945.9,637.2 946.5,630.7 947.0,624.5 947.6,617.3 948.2,610.6 948.7,604.7 949.3,599.5 949.8,594.8 950.4,591.1 951.0,588.7 951.5,588.0 952.1,588.5 952.6,590.3 953.2,593.3 953.8,596.2 954.3,597.9 954.9,599.7 955.4,600.7 956.0,601.0 956.6,601.6 957.1,603.0 957.7,604.2 958.2,604.1 958.8,602.5 959.4,598.8 959.9,594.9 960.5,589.9 961.1,586.3 961.6,584.0 962.2,584.0 962.7,584.3 963.3,586.7 963.9,589.5 964.4,593.1 965.0,596.1 965.5,598.7 966.1,600.6 966.7,601.8 967.2,602.2 967.8,602.0 968.3,601.8 968.9,601.0 969.5,600.9 970.0,603.1 970.6,606.6 971.1,611.3 971.7,617.3 972.3,623.3 972.8,627.8 973.4,630.9 973.9,632.1 974.5,632.7 975.1,633.3 975.6,634.0 976.2,635.4 976.8,637.3 977.3,639.3 977.9,640.6 978.4,641.6 979.0,642.0 979.6,642.0 980.1,641.2 980.7,641.0 981.2,641.5 981.8,642.9 982.4,644.6 982.9,646.9 983.5,649.1 984.0,650.3 984.6,651.0 985.2,651.1 985.7,649.5 986.3,647.5 986.8,645.3 987.4,643.3 988.0,641.3 988.5,640.3 989.1,639.4 989.6,639.2 990.2,637.3 990.8,636.4 991.3,635.7 991.9,634.3 992.5,632.2 993.0,631.1 993.6,629.7 994.1,628.8 994.7,628.0 995.3,627.8 995.8,628.5 996.4,628.3 996.9,628.1 997.5,628.0 998.1,628.6 998.6,629.0 999.2,630.0 999.7,630.7 1000.3,630.9 1000.9,630.9 1001.4,630.1 1002.0,629.6 1002.5,628.6 1003.1,628.2 1003.7,627.3 1004.2,625.9 1004.8,624.9 1005.3,624.6 1005.9,625.6 1006.5,626.8 1007.0,629.2 1007.6,630.5 1008.2,631.5 1008.7,631.4 1009.3,631.7 1009.8,631.1 1010.4,630.5 1011.0,629.4 1011.5,627.4 1012.1,623.6 1012.6,620.3 1013.2,617.1 1013.8,614.4 1014.3,612.5 1014.9,611.6 1015.4,610.9 1016.0,610.5 1016.6,609.6 1017.1,607.8 1017.7,605.8 1018.2,602.7 1018.8,600.5 1019.4,598.3 1019.9,596.8 1020.5,595.4 1021.0,595.4 1021.6,595.2 1022.2,596.0 1022.7,597.2 1023.3,597.4 1023.9,597.4 1024.4,597.9 1025.0,597.7 1025.5,598.0 1026.1,599.5 1026.7,601.1 1027.2,602.4 1027.8,603.8 1028.3,604.6 1028.9,605.4 1029.5,605.3 1030.0,605.2 1030.6,604.4 1031.1,604.1 1031.7,603.7 1032.3,603.4 1032.8,602.7 1033.4,602.5 1033.9,602.1 1034.5,601.5 1035.1,601.1 1035.6,600.0 1036.2,598.9 1036.7,598.4 1037.3,596.9 1037.9,596.1 1038.4,595.6 1039.0,595.7 1039.6,596.1 1040.1,597.5 1040.7,598.0 1041.2,598.0 1041.8,597.6 1042.4,595.9 1042.9,594.1 1043.5,592.6 1044.0,591.8 1044.6,591.3 1045.2,591.3 1045.7,592.1 1046.3,592.3 1046.8,592.9 1047.4,593.6 1048.0,594.2 1048.5,595.7 1049.1,597.6 1049.6,599.1 1050.2,600.2 1050.8,601.0 1051.3,600.9 1051.9,600.5 1052.4,599.2 1053.0,597.2 1053.6,595.0 1054.1,593.1 1054.7,590.9 1055.3,588.6 1055.8,586.7 1056.4,584.9 1056.9,582.8 1057.5,581.1 1058.1,580.1 1058.6,578.0 1059.2,576.6 1059.7,575.6 1060.3,574.9 1060.9,573.0 1061.4,573.1 1062.0,574.1 1062.5,572.8 1063.1,570.9 1063.7,570.2 1064.2,568.1 1064.8,565.0 1065.3,563.9 1065.9,561.9 1066.5,559.8 1067.0,557.8 1067.6,555.2 1068.1,551.5 1068.7,549.0 1069.3,547.8 1069.8,546.2 1070.4,544.7 1071.0,543.4 1071.5,543.0 1072.1,541.4 1072.6,542.4 1073.2,545.2 1073.8,547.0 1074.3,545.9 1074.9,543.5 1075.4,538.9 1076.0,530.8 1076.6,524.1 1077.1,518.1 1077.7,513.0 1078.2,509.2 1078.8,507.1 1079.4,504.5 1079.9,501.9 1080.5,499.6 1081.0,496.6 1081.6,494.0 1082.2,492.3 1082.7,492.4 1083.3,492.9 1083.8,491.7 1084.4,490.9 1085.0,491.6 1085.5,492.7 1086.1,493.1 1086.7,495.9 1087.2,499.7 1087.8,504.1 1088.3,510.3 1088.9,518.0 1089.5,526.1 1090.0,534.7 1090.6,542.2 1091.1,547.5 1091.7,553.7 1092.3,559.0 1092.8,561.4 1093.4,561.7 1093.9,561.3 1094.5,558.2 1095.1,553.8 1095.6,550.0 1096.2,547.7 1096.7,544.2 1097.3,540.8 1097.9,538.2 1098.4,537.1 1099.0,535.2 1099.5,536.2 1100.1,537.6 1100.7,540.2 1101.2,540.9 1101.8,540.4 1102.4,538.1 1102.9,534.8 1103.5,530.6 1104.0,527.2 1104.6,525.6 1105.2,523.8 1105.7,523.4 1106.3,521.9 1106.8,518.9 1107.4,515.4 1108.0,513.0 1108.5,509.7 1109.1,506.5 1109.6,504.7 1110.2,503.5 1110.8,501.4 1111.3,499.8 1111.9,501.6 1112.4,502.0 1113.0,501.9 1113.6,502.5 1114.1,504.6 1114.7,504.2 1115.2,505.3 1115.8,507.9 1116.4,509.2 1116.9,509.0 1117.5,507.3 1118.0,505.4 1118.6,502.2 1119.2,500.1 1119.7,497.6 1120.3,496.3 1120.9,494.8 1121.4,493.5 1122.0,492.9 1122.5,492.6 1123.1,492.9 1123.7,493.2 1124.2,491.7 1124.8,490.2 1125.3,488.9 1125.9,485.6 1126.5,481.8 1127.0,477.0 1127.6,470.5 1128.1,463.0 1128.7,455.6 1129.3,445.8 1129.8,436.7 1130.4,429.2 1130.9,420.6 1131.5,410.2 1132.1,400.0 1132.6,390.3 1133.2,378.4 1133.7,366.9 1134.3,361.0 1134.9,358.4 1135.4,358.2 1136.0,361.2 1136.6,366.3 1137.1,368.3 1137.7,369.3 1138.2,370.0 1138.8,369.2 1139.4,368.3 1139.9,369.7 1140.5,369.6 1141.0,366.4 1141.6,361.6 1142.2,357.4 1142.7,351.5 1143.3,348.0 1143.8,348.6 1144.4,351.8 1145.0,355.3 1145.5,359.9 1146.1,363.2 1146.6,367.0 1147.2,371.6 1147.8,374.4 1148.3,376.7 1148.9,381.6 1149.4,384.4 1150.0,385.1 1150.6,386.0 1151.1,385.8 1151.7,382.5 1152.3,379.4 1152.8,376.1 1153.4,373.8 1153.9,372.1 1154.5,371.3 1155.1,371.8 1155.6,374.1 1156.2,374.3 1156.7,375.6 1157.3,379.5 1157.9,384.2 1158.4,387.6 1159.0,391.6 1159.5,395.9 1160.1,398.3 1160.7,398.8 1161.2,398.3 1161.8,397.7 1162.3,398.1 1162.9,397.9 1163.5,396.5 1164.0,395.5 1164.6,395.6 1165.1,391.7 1165.7,387.2 1166.3,382.0 1166.8,376.1 1167.4,371.7 1168.0,369.7 1168.5,369.8 1169.1,371.9 1169.6,375.1 1170.2,377.6 1170.8,381.6 1171.3,382.6 1171.9,382.8 1172.4,383.9 1173.0,385.7 1173.6,384.5 1174.1,383.8 1174.7,381.9 1175.2,377.9 1175.8,373.2 1176.4,369.1 1176.9,368.0 1177.5,367.5 1178.0,367.6 1178.6,368.2 1179.2,370.1 1179.7,370.7 1180.3,372.4 1180.8,373.9 1181.4,376.0 1182.0,376.9 1182.5,379.5 1183.1,382.6 1183.7,386.7 1184.2,388.1 1184.8,390.2 1185.3,389.2 1185.9,387.1 1186.5,382.5 1187.0,378.8 1187.6,375.8 1188.1,373.6 1188.7,371.1 1189.3,371.2 1189.8,371.8 1190.4,371.7 1190.9,370.8 1191.5,369.0 1192.1,366.3 1192.6,362.7 1193.2,358.3 1193.7,355.4 1194.3,353.2 1194.9,349.8 1195.4,345.6 1196.0,341.1 1196.5,337.1 1197.1,333.6 1197.7,332.8 1198.2,331.0 1198.8,329.5 1199.4,326.9 1199.9,323.0 1200.5,316.1 1201.0,312.0 1201.6,308.4 1202.2,302.6 1202.7,297.3 1203.3,293.5 1203.8,289.8 1204.4,283.5 1205.0,278.4 1205.5,273.4 1206.1,270.0 1206.6,264.6 1207.2,260.4 1207.8,258.8 1208.3,258.9 1208.9,258.9 1209.4,259.7 1210.0,262.9 1210.6,265.5 1211.1,268.6 1211.7,271.4 1212.2,272.1 1212.8,269.9 1213.4,266.1 1213.9,259.7 1214.5,253.7 1215.1,251.1 1215.6,251.6 1216.2,254.3 1216.7,257.8 1217.3,263.2 1217.9,269.5 1218.4,276.6 1219.0,284.4 1219.5,293.2 1220.1,302.5 1220.7,309.8 1221.2,316.3 1221.8,322.4 1222.3,328.8 1222.9,332.1 1223.5,337.8 1224.0,344.0 1224.6,350.2 1225.1,357.1 1225.7,365.7 1226.3,373.1 1226.8,378.6 1227.4,383.1 1227.9,385.0 1228.5,383.6 1229.1,381.2 1229.6,378.5 1230.2,374.7 1230.8,372.1 1231.3,369.2 1231.9,366.2 1232.4,363.7 1233.0,362.8 1233.6,360.8 1234.1,361.1 1234.7,361.1 1235.2,359.4 1235.8,355.1 1236.4,352.8 1236.9,350.8 1237.5,348.0 1238.0,346.7 1238.6,345.6 1239.2,343.9 1239.7,339.0 1240.3,333.2 1240.8,329.1 1241.4,326.3 1242.0,322.8 1242.5,319.9 1243.1,320.2 1243.6,318.2 1244.2,316.2 1244.8,315.1 1245.3,314.7 1245.9,314.9 1246.5,316.9 1247.0,318.8 1247.6,317.7 1248.1,316.6 1248.7,313.2 1249.3,307.3 1249.8,300.8 1250.4,296.3 1250.9,291.9 1251.5,286.7 1252.1,280.0 1252.6,275.3 1253.2,270.3 1253.7,265.8 1254.3,262.9 1254.9,261.7 1255.4,258.8 1256.0,256.7 1256.5,255.6 1257.1,255.3 1257.7,256.0 1258.2,257.2 1258.8,258.7 1259.3,258.1 1259.9,257.7 1260.5,257.9 1261.0,256.5 1261.6,254.7 1262.2,253.2 1262.7,251.5 1263.3,248.5 1263.8,247.6 1264.4,244.9 1265.0,242.4 1265.5,238.8 1266.1,235.1 1266.6,231.0 1267.2,228.9 1267.8,224.7 1268.3,220.0 1268.9,214.7 1269.4,209.9 1270.0,204.1 1270.6,202.6 1271.1,203.2 1271.7,206.5 1272.2,207.6 1272.8,211.2 1273.4,214.2 1273.9,216.2 1274.5,215.8 1275.0,216.1 1275.6,215.5 1276.2,212.8 1276.7,209.5 1277.3,206.5 1277.9,204.1 1278.4,202.5 1279.0,201.9 1279.5,202.4 1280.1,204.0 1280.7,206.5 1281.2,208.2 1281.8,209.8 1282.3,211.9 1282.9,214.5 1283.5,217.9 1284.0,222.1 1284.6,226.4 1285.1,229.7 1285.7,232.6 1286.3,235.2 1286.8,238.0 1287.4,241.6 1287.9,245.7 1288.5,251.9 1289.1,258.2 1289.6,261.1 1290.2,263.8 1290.7,269.1 1291.3,271.3 1291.9,271.8 1292.4,274.7 1293.0,274.3 1293.6,270.0 1294.1,266.5 1294.7,264.6 1295.2,261.8 1295.8,261.4 1296.4,261.6 1296.9,262.9 1297.5,263.0 1298.0,263.0 1298.6,263.1 1299.2,264.3 1299.7,264.0 1300.3,264.1 1300.8,264.2 1301.4,264.8 1302.0,265.9 1302.5,266.5 1303.1,266.4 1303.6,267.3 1304.2,267.4 1304.8,265.8 1305.3,264.7 1305.9,262.2 1306.4,257.8 1307.0,252.0 1307.6,246.7 1308.1,243.5 1308.7,241.6 1309.3,242.8 1309.8,243.2 1310.4,242.6 1310.9,240.0 1311.5,237.8 1312.1,234.2 1312.6,233.3 1313.2,233.1 1313.7,233.3 1314.3,232.6 1314.9,231.8 1315.4,229.0 1316.0,226.9 1316.5,223.7 1317.1,222.2 1317.7,220.6 1318.2,220.3 1318.8,218.4 1319.3,217.9 1319.9,216.5 1320.5,214.6 1321.0,213.1 1321.6,212.4 1322.1,211.6 1322.7,210.1 1323.3,210.1 1323.8,211.5 1324.4,213.1 1325.0,215.2 1325.5,219.1 1326.1,220.4 1326.6,220.3 1327.2,219.5 1327.8,219.4 1328.3,217.0 1328.9,214.6 1329.4,214.0 1330.0,215.6 1330.6,217.3 1331.1,218.9 1331.7,220.8 1332.2,223.0 1332.8,225.8 1333.4,227.0 1333.9,230.8 1334.5,234.6 1335.0,239.2 1335.6,241.8 1336.2,245.9 1336.7,249.1 1337.3,254.7 1337.8,258.1 1338.4,262.7 1339.0,267.7 1339.5,272.5 1340.1,275.9 1340.7,281.9 1341.2,286.3 1341.8,289.0 1342.3,291.9 1342.9,293.2 1343.5,293.9 1344.0,295.4 1344.6,299.2 1345.1,304.2 1345.7,311.0 1346.3,316.2 1346.8,321.1 1347.4,323.8 1347.9,325.1 1348.5,325.9 1349.1,327.7 1349.6,329.4 1350.2,332.7 1350.7,336.1 1351.3,339.8 1351.9,343.5 1352.4,349.6 1353.0,353.8 1353.5,355.0 1354.1,356.4 1354.7,357.5 1355.2,355.7 1355.8,353.4 1356.4,354.4 1356.9,355.7 1357.5,357.8 1358.0,360.2 1358.6,364.5 1359.2,368.0 1359.7,369.6 1360.3,369.5 1360.8,370.6 1361.4,371.9 1362.0,374.8 1362.5,377.9 1363.1,380.7 1363.6,381.7 1364.2,381.6 1364.8,381.8 1365.3,384.3 1365.9,385.7 1366.4,388.3 1367.0,389.2 1367.6,391.2 1368.1,392.7 1368.7,396.3 1369.2,398.9 1369.8,402.8 1370.4,405.3 1370.9,406.9 1371.5,409.6 1372.1,413.2 1372.6,418.4 1373.2,423.1 1373.7,428.3 1374.3,432.2 1374.9,434.4 1375.4,438.8 1376.0,444.6 1376.5,450.9 1377.1,458.4 1377.7,467.0 1378.2,472.1 1378.8,473.7 1379.3,473.9 1379.9,471.0 1380.5,467.2 1381.0,462.5 1381.6,459.9 1382.1,458.6 1382.7,458.8 1383.3,458.5 1383.8,459.0 1384.4,458.2 1384.9,457.2 1385.5,455.3 1386.1,453.7 1386.6,453.3 1387.2,452.5 1387.8,448.5 1388.3,445.7 1388.9,442.4 1389.4,437.6 1390.0,433.1 1390.6,430.7 1391.1,427.9 1391.7,425.9 1392.2,423.6 1392.8,421.8 1393.4,419.7 1393.9,415.6 1394.5,411.4 1395.0,407.4 1395.6,401.5" fill="none" stroke="#e0284e" stroke-width="0.8" stroke-linejoin="round" stroke-opacity="0.7"/>
<polyline points="0.0,804.9 0.6,804.4 1.1,804.1 1.7,804.3 2.2,804.7 2.8,805.0 3.4,805.8 3.9,806.7 4.5,807.6 5.0,808.7 5.6,809.7 6.2,810.6 6.7,811.2 7.3,811.2 7.8,811.3 8.4,811.3 9.0,811.2 9.5,811.0 10.1,810.9 10.7,811.2 11.2,811.5 11.8,812.0 12.3,812.9 12.9,813.8 13.5,814.5 14.0,814.9 14.6,815.2 15.1,815.1 15.7,815.0 16.3,814.5 16.8,813.9 17.4,813.2 17.9,812.2 18.5,811.1 19.1,810.5 19.6,810.1 20.2,809.8 20.7,809.4 21.3,809.1 21.9,808.5 22.4,808.5 23.0,808.5 23.5,808.7 24.1,809.1 24.7,809.3 25.2,809.1 25.8,809.1 26.4,809.2 26.9,808.9 27.5,808.9 28.0,808.8 28.6,808.7 29.2,808.5 29.7,807.8 30.3,807.3 30.8,806.9 31.4,806.7 32.0,806.1 32.5,805.9 33.1,805.8 33.6,805.5 34.2,805.3 34.8,805.2 35.3,805.4 35.9,805.9 36.4,806.0 37.0,806.1 37.6,806.7 38.1,806.8 38.7,806.7 39.2,806.6 39.8,806.7 40.4,806.8 40.9,807.0 41.5,807.2 42.1,807.6 42.6,808.2 43.2,808.6 43.7,809.5 44.3,810.3 44.9,811.0 45.4,811.4 46.0,811.9 46.5,812.5 47.1,812.9 47.7,813.4 48.2,813.7 48.8,814.0 49.3,813.9 49.9,813.5 50.5,813.3 51.0,812.9 51.6,812.1 52.1,811.2 52.7,810.6 53.3,809.7 53.8,808.8 54.4,808.2 54.9,807.7 55.5,807.4 56.1,807.0 56.6,806.8 57.2,806.7 57.8,806.5 58.3,806.1 58.9,805.9 59.4,806.0 60.0,806.0 60.6,806.0 61.1,806.4 61.7,806.9 62.2,807.4 62.8,808.1 63.4,808.5 63.9,808.5 64.5,808.3 65.0,808.0 65.6,807.7 66.2,807.1 66.7,806.5 67.3,805.6 67.8,805.0 68.4,804.5 69.0,804.4 69.5,805.0 70.1,806.0 70.6,807.2 71.2,808.2 71.8,809.7 72.3,811.1 72.9,812.4 73.5,813.6 74.0,814.4 74.6,815.1 75.1,815.5 75.7,815.6 76.3,815.1 76.8,814.6 77.4,814.0 77.9,813.2 78.5,812.4 79.1,811.9 79.6,811.5 80.2,811.3 80.7,811.1 81.3,810.8 81.9,811.1 82.4,811.2 83.0,811.6 83.5,812.0 84.1,812.6 84.7,812.9 85.2,813.3 85.8,813.5 86.3,814.1 86.9,814.8 87.5,815.1 88.0,815.7 88.6,816.3 89.2,816.9 89.7,817.8 90.3,818.8 90.8,820.0 91.4,820.9 92.0,821.7 92.5,822.6 93.1,823.6 93.6,824.6 94.2,825.6 94.8,826.7 95.3,827.5 95.9,828.4 96.4,829.2 97.0,829.9 97.6,830.4 98.1,830.5 98.7,830.6 99.2,830.3 99.8,830.0 100.4,829.5 100.9,828.9 101.5,828.2 102.0,827.3 102.6,826.2 103.2,825.3 103.7,824.4 104.3,823.4 104.9,822.2 105.4,821.0 106.0,819.6 106.5,818.4 107.1,817.1 107.7,815.9 108.2,814.8 108.8,813.6 109.3,812.4 109.9,811.0 110.5,809.4 111.0,808.3 111.6,807.2 112.1,805.5 112.7,803.8 113.3,802.3 113.8,801.1 114.4,800.0 114.9,798.9 115.5,797.9 116.1,797.4 116.6,796.7 117.2,796.1 117.7,795.8 118.3,795.4 118.9,794.9 119.4,794.3 120.0,793.5 120.6,793.0 121.1,792.4 121.7,791.5 122.2,790.6 122.8,789.6 123.4,788.7 123.9,787.7 124.5,786.6 125.0,785.5 125.6,784.4 126.2,783.2 126.7,782.3 127.3,781.5 127.8,780.5 128.4,779.6 129.0,778.5 129.5,777.9 130.1,777.4 130.6,776.9 131.2,776.8 131.8,777.0 132.3,777.2 132.9,777.3 133.4,777.5 134.0,778.0 134.6,778.4 135.1,778.4 135.7,778.6 136.3,778.7 136.8,778.5 137.4,778.1 137.9,777.8 138.5,777.8 139.1,777.7 139.6,777.4 140.2,777.4 140.7,777.9 141.3,778.4 141.9,779.1 142.4,779.9 143.0,780.0 143.5,780.1 144.1,780.0 144.7,780.0 145.2,780.0 145.8,779.6 146.3,778.8 146.9,777.3 147.5,775.8 148.0,774.1 148.6,772.6 149.1,770.9 149.7,768.8 150.3,766.7 150.8,764.6 151.4,762.6 152.0,760.5 152.5,758.8 153.1,757.2 153.6,755.7 154.2,754.1 154.8,752.8 155.3,751.4 155.9,749.6 156.4,748.1 157.0,746.5 157.6,745.1 158.1,743.7 158.7,742.0 159.2,740.6 159.8,739.6 160.4,738.5 160.9,738.0 161.5,737.5 162.0,737.0 162.6,736.7 163.2,736.4 163.7,736.5 164.3,736.9 164.8,737.2 165.4,737.6 166.0,738.0 166.5,738.5 167.1,739.5 167.7,740.7 168.2,741.7 168.8,742.7 169.3,743.6 169.9,744.2 170.5,744.7 171.0,744.3 171.6,743.8 172.1,743.1 172.7,741.7 173.3,739.9 173.8,738.1 174.4,736.4 174.9,734.5 175.5,732.6 176.1,730.4 176.6,729.0 177.2,727.7 177.7,726.4 178.3,725.0 178.9,723.6 179.4,722.4 180.0,721.0 180.5,719.8 181.1,718.2 181.7,716.8 182.2,715.1 182.8,713.5 183.4,712.4 183.9,711.3 184.5,710.1 185.0,708.8 185.6,707.9 186.2,707.0 186.7,706.8 187.3,706.6 187.8,706.9 188.4,707.4 189.0,707.6 189.5,708.0 190.1,708.4 190.6,709.0 191.2,709.2 191.8,709.7 192.3,709.9 192.9,710.3 193.4,709.8 194.0,709.1 194.6,707.9 195.1,706.3 195.7,704.9 196.2,703.0 196.8,701.3 197.4,699.3 197.9,697.3 198.5,695.2 199.1,693.8 199.6,692.3 200.2,691.4 200.7,690.9 201.3,690.2 201.9,689.7 202.4,689.0 203.0,688.3 203.5,687.2 204.1,686.5 204.7,685.3 205.2,684.0 205.8,682.6 206.3,680.9 206.9,679.5 207.5,677.7 208.0,675.9 208.6,674.1 209.1,672.1 209.7,670.1 210.3,668.5 210.8,667.8 211.4,667.3 211.9,667.6 212.5,667.9 213.1,668.7 213.6,669.8 214.2,671.1 214.8,673.6 215.3,676.2 215.9,679.0 216.4,681.3 217.0,683.5 217.6,685.7 218.1,687.6 218.7,689.7 219.2,691.7 219.8,693.2 220.4,694.3 220.9,695.0 221.5,695.1 222.0,695.1 222.6,694.7 223.2,694.2 223.7,693.1 224.3,692.5 224.8,691.9 225.4,691.5 226.0,690.2 226.5,688.8 227.1,687.7 227.6,687.1 228.2,686.7 228.8,686.4 229.3,687.1 229.9,687.7 230.5,688.6 231.0,689.7 231.6,691.1 232.1,692.7 232.7,694.2 233.3,695.5 233.8,696.5 234.4,697.3 234.9,697.6 235.5,697.2 236.1,696.5 236.6,695.9 237.2,695.1 237.7,694.1 238.3,693.3 238.9,692.6 239.4,691.8 240.0,690.5 240.5,688.9 241.1,687.7 241.7,686.4 242.2,684.9 242.8,683.4 243.3,682.1 243.9,680.6 244.5,678.6 245.0,676.6 245.6,675.1 246.2,673.6 246.7,671.9 247.3,669.9 247.8,667.7 248.4,665.5 249.0,663.6 249.5,661.3 250.1,658.8 250.6,656.6 251.2,653.8 251.8,651.4 252.3,648.8 252.9,646.5 253.4,644.7 254.0,642.9 254.6,640.1 255.1,637.8 255.7,635.8 256.2,634.2 256.8,633.5 257.4,632.8 257.9,632.0 258.5,631.6 259.0,631.1 259.6,631.7 260.2,633.0 260.7,634.3 261.3,636.3 261.9,638.3 262.4,639.8 263.0,641.6 263.5,644.1 264.1,646.2 264.7,648.6 265.2,650.0 265.8,651.3 266.3,652.2 266.9,652.3 267.5,652.4 268.0,652.8 268.6,653.0 269.1,653.0 269.7,652.9 270.3,653.1 270.8,653.6 271.4,654.4 271.9,656.3 272.5,658.4 273.1,660.0 273.6,661.1 274.2,662.7 274.7,664.7 275.3,666.1 275.9,667.1 276.4,668.3 277.0,669.4 277.6,669.9 278.1,669.9 278.7,670.0 279.2,670.5 279.8,670.8 280.4,670.2 280.9,670.5 281.5,670.7 282.0,671.0 282.6,671.1 283.2,671.5 283.7,672.4 284.3,673.0 284.8,673.7 285.4,674.7 286.0,676.4 286.5,677.7 287.1,679.1 287.6,680.5 288.2,681.8 288.8,683.1 289.3,684.3 289.9,685.8 290.4,687.2 291.0,688.2 291.6,688.8 292.1,689.4 292.7,689.9 293.2,689.9 293.8,689.8 294.4,689.3 294.9,689.0 295.5,688.3 296.1,687.4 296.6,686.4 297.2,685.0 297.7,683.5 298.3,681.6 298.9,680.1 299.4,678.7 300.0,677.2 300.5,675.7 301.1,674.2 301.7,672.8 302.2,671.7 302.8,670.8 303.3,670.0 303.9,669.9 304.5,670.1 305.0,670.1 305.6,670.0 306.1,669.7 306.7,669.7 307.3,669.7 307.8,669.3 308.4,668.8 308.9,668.2 309.5,667.3 310.1,666.3 310.6,665.5 311.2,665.0 311.8,665.0 312.3,665.0 312.9,665.1 313.4,665.4 314.0,666.2 314.6,667.5 315.1,669.2 315.7,670.6 316.2,672.6 316.8,674.5 317.4,676.1 317.9,677.6 318.5,678.9 319.0,680.1 319.6,681.1 320.2,681.7 320.7,681.6 321.3,681.3 321.8,680.3 322.4,679.1 323.0,677.7 323.5,676.0 324.1,674.7 324.6,673.0 325.2,670.8 325.8,668.6 326.3,666.9 326.9,665.1 327.5,663.7 328.0,662.1 328.6,660.2 329.1,658.4 329.7,656.9 330.3,655.4 330.8,653.9 331.4,652.8 331.9,651.5 332.5,650.0 333.1,648.6 333.6,647.3 334.2,646.4 334.7,646.3 335.3,645.3 335.9,644.5 336.4,643.8 337.0,642.3 337.5,640.8 338.1,640.0 338.7,639.0 339.2,638.3 339.8,637.3 340.3,636.5 340.9,636.2 341.5,636.5 342.0,636.6 342.6,637.1 343.2,637.6 343.7,637.8 344.3,637.9 344.8,637.9 345.4,637.9 346.0,637.3 346.5,636.0 347.1,634.5 347.6,633.8 348.2,633.5 348.8,633.0 349.3,632.5 349.9,632.2 350.4,632.0 351.0,631.7 351.6,632.2 352.1,633.2 352.7,634.5 353.2,635.0 353.8,635.4 354.4,636.1 354.9,636.8 355.5,637.1 356.0,637.4 356.6,638.0 357.2,637.9 357.7,638.2 358.3,638.5 358.9,638.6 359.4,639.2 360.0,639.8 360.5,640.4 361.1,641.1 361.7,641.4 362.2,641.3 362.8,641.2 363.3,640.6 363.9,639.9 364.5,639.3 365.0,637.7 365.6,635.7 366.1,633.8 366.7,631.7 367.3,630.2 367.8,628.8 368.4,627.7 368.9,626.5 369.5,624.7 370.1,623.1 370.6,621.7 371.2,620.1 371.7,618.1 372.3,616.8 372.9,616.0 373.4,615.6 374.0,615.4 374.6,615.5 375.1,615.8 375.7,616.5 376.2,617.7 376.8,619.7 377.4,622.3 377.9,625.0 378.5,626.9 379.0,628.6 379.6,630.3 380.2,631.9 380.7,633.3 381.3,634.0 381.8,634.0 382.4,633.2 383.0,631.6 383.5,629.2 384.1,626.6 384.6,623.5 385.2,619.7 385.8,615.7 386.3,612.2 386.9,608.7 387.4,605.2 388.0,602.3 388.6,600.0 389.1,597.6 389.7,595.6 390.3,594.1 390.8,592.2 391.4,590.4 391.9,588.3 392.5,586.7 393.1,585.6 393.6,584.2 394.2,582.4 394.7,580.7 395.3,578.6 395.9,576.5 396.4,574.7 397.0,573.5 397.5,572.0 398.1,569.8 398.7,567.7 399.2,565.5 399.8,563.0 400.3,560.7 400.9,557.7 401.5,553.9 402.0,550.1 402.6,545.0 403.1,539.2 403.7,532.7 404.3,525.6 404.8,518.7 405.4,512.4 406.0,505.8 406.5,499.5 407.1,492.3 407.6,484.5 408.2,476.9 408.8,470.2 409.3,465.9 409.9,462.2 410.4,458.4 411.0,453.6 411.6,447.9 412.1,443.7 412.7,441.0 413.2,438.5 413.8,436.9 414.4,435.8 414.9,433.2 415.5,429.5 416.0,425.9 416.6,422.0 417.2,418.8 417.7,414.0 418.3,408.1 418.8,403.4 419.4,398.8 420.0,393.3 420.5,388.2 421.1,384.1 421.7,379.0 422.2,374.5 422.8,370.5 423.3,366.7 423.9,362.5 424.5,355.6 425.0,349.1 425.6,341.1 426.1,331.2 426.7,321.7 427.3,313.3 427.8,304.0 428.4,293.7 428.9,282.9 429.5,272.1 430.1,262.8 430.6,251.7 431.2,241.7 431.7,231.6 432.3,220.1 432.9,207.4 433.4,199.9 434.0,192.4 434.5,181.9 435.1,171.9 435.7,162.0 436.2,154.5 436.8,147.9 437.4,144.3 437.9,143.8 438.5,144.9 439.0,141.6 439.6,137.4 440.2,140.9 440.7,147.6 441.3,152.5 441.8,160.3 442.4,173.2 443.0,183.8 443.5,191.9 444.1,200.1 444.6,213.4 445.2,232.8 445.8,252.9 446.3,269.0 446.9,289.0 447.4,307.0 448.0,321.9 448.6,339.8 449.1,361.0 449.7,381.6 450.2,395.9 450.8,404.4 451.4,406.0 451.9,408.5 452.5,411.4 453.1,412.9 453.6,410.1 454.2,402.3 454.7,390.3 455.3,377.6 455.9,366.8 456.4,359.2 457.0,358.6 457.5,361.4 458.1,361.9 458.7,363.1 459.2,368.5 459.8,377.4 460.3,387.4 460.9,397.2 461.5,406.6 462.0,413.9 462.6,416.1 463.1,415.8 463.7,415.5 464.3,413.7 464.8,409.9 465.4,405.1 465.9,402.8 466.5,401.1 467.1,401.8 467.6,406.1 468.2,415.6 468.8,428.4 469.3,443.2 469.9,456.9 470.4,468.4 471.0,482.4 471.6,495.9 472.1,511.2 472.7,523.8 473.2,535.0 473.8,539.4 474.4,539.0 474.9,537.6 475.5,539.0 476.0,544.2 476.6,548.0 477.2,547.9 477.7,546.9 478.3,545.5 478.8,541.1 479.4,538.9 480.0,538.3 480.5,536.9 481.1,533.8 481.6,529.3 482.2,523.3 482.8,518.2 483.3,512.0 483.9,505.9 484.5,500.2 485.0,494.4 485.6,487.8 486.1,481.0 486.7,473.8 487.3,466.2 487.8,458.4 488.4,451.1 488.9,443.0 489.5,436.3 490.1,430.1 490.6,424.9 491.2,421.0 491.7,417.0 492.3,412.7 492.9,408.9 493.4,405.9 494.0,403.0 494.5,401.4 495.1,398.9 495.7,396.7 496.2,393.1 496.8,388.8 497.3,384.4 497.9,381.1 498.5,377.6 499.0,374.0 499.6,370.8 500.2,367.4 500.7,364.4 501.3,361.0 501.8,359.4 502.4,361.6 503.0,364.8 503.5,367.4 504.1,369.9 504.6,372.8 505.2,375.7 505.8,379.0 506.3,382.7 506.9,386.5 507.4,388.5 508.0,386.8 508.6,384.0 509.1,381.6 509.7,378.8 510.2,376.3 510.8,373.3 511.4,370.9 511.9,368.2 512.5,366.2 513.0,364.9 513.6,364.7 514.2,364.4 514.7,364.9 515.3,365.5 515.9,366.2 516.4,371.2 517.0,378.0 517.5,387.0 518.1,397.9 518.7,409.6 519.2,420.1 519.8,433.4 520.3,447.4 520.9,460.7 521.5,475.2 522.0,486.9 522.6,496.6 523.1,503.7 523.7,508.5 524.3,513.8 524.8,519.4 525.4,522.3 525.9,524.6 526.5,528.5 527.1,530.6 527.6,531.6 528.2,531.3 528.7,530.9 529.3,530.2 529.9,527.8 530.4,524.7 531.0,521.4 531.6,516.9 532.1,511.5 532.7,505.5 533.2,500.1 533.8,495.9 534.4,494.3 534.9,494.0 535.5,494.6 536.0,496.9 536.6,500.7 537.2,505.6 537.7,511.7 538.3,518.9 538.8,526.3 539.4,532.6 540.0,536.3 540.5,539.0 541.1,540.5 541.6,540.5 542.2,538.9 542.8,535.8 543.3,531.2 543.9,525.5 544.4,518.9 545.0,512.9 545.6,506.7 546.1,501.0 546.7,496.0 547.3,490.5 547.8,485.9 548.4,482.7 548.9,479.5 549.5,476.7 550.1,474.2 550.6,472.2 551.2,470.7 551.7,469.3 552.3,468.3 552.9,467.5 553.4,467.4 554.0,467.1 554.5,468.2 555.1,469.0 555.7,470.6 556.2,472.9 556.8,475.9 557.3,478.9 557.9,481.7 558.5,485.9 559.0,488.5 559.6,490.4 560.1,491.7 560.7,493.5 561.3,494.6 561.8,494.7 562.4,494.6 562.9,494.5 563.5,494.9 564.1,494.8 564.6,495.8 565.2,497.6 565.8,499.9 566.3,502.3 566.9,505.4 567.4,508.7 568.0,511.2 568.6,514.0 569.1,515.9 569.7,517.0 570.2,517.1 570.8,516.3 571.4,514.3 571.9,511.8 572.5,508.1 573.0,504.4 573.6,501.3 574.2,498.1 574.7,495.9 575.3,494.9 575.8,494.9 576.4,495.1 577.0,496.0 577.5,497.8 578.1,500.1 578.6,502.4 579.2,504.1 579.8,504.6 580.3,503.9 580.9,502.2 581.5,500.0 582.0,498.1 582.6,496.8 583.1,494.1 583.7,491.7 584.3,489.5 584.8,486.9 585.4,485.0 585.9,483.4 586.5,482.2 587.1,481.1 587.6,479.6 588.2,477.7 588.7,476.8 589.3,476.2 589.9,475.3 590.4,475.0 591.0,474.9 591.5,475.3 592.1,476.1 592.7,477.8 593.2,479.3 593.8,481.6 594.3,483.9 594.9,486.3 595.5,488.9 596.0,491.4 596.6,494.2 597.2,496.3 597.7,498.3 598.3,499.0 598.8,500.0 599.4,500.5 600.0,500.7 600.5,500.0 601.1,498.8 601.6,497.4 602.2,496.0 602.8,494.8 603.3,493.0 603.9,492.1 604.4,491.4 605.0,490.5 605.6,490.0 606.1,489.6 606.7,489.4 607.2,489.3 607.8,488.8 608.4,488.1 608.9,487.7 609.5,487.1 610.0,486.8 610.6,486.6 611.2,485.9 611.7,486.1 612.3,486.8 612.9,487.6 613.4,488.4 614.0,489.2 614.5,490.0 615.1,491.1 615.7,492.1 616.2,492.9 616.8,494.1 617.3,494.8 617.9,494.8 618.5,494.6 619.0,494.8 619.6,495.3 620.1,495.3 620.7,495.0 621.3,494.2 621.8,493.2 622.4,492.3 622.9,491.8 623.5,491.5 624.1,491.6 624.6,491.3 625.2,490.8 625.7,491.1 626.3,491.2 626.9,491.8 627.4,492.7 628.0,493.5 628.6,494.1 629.1,495.2 629.7,496.0 630.2,496.8 630.8,497.7 631.4,499.0 631.9,499.7 632.5,500.1 633.0,500.1 633.6,500.0 634.2,500.1 634.7,499.7 635.3,499.5 635.8,498.7 636.4,498.1 637.0,496.8 637.5,496.5 638.1,496.6 638.6,496.9 639.2,497.0 639.8,496.6 640.3,496.4 640.9,496.5 641.4,496.9 642.0,497.4 642.6,497.9 643.1,497.9 643.7,498.1 644.3,498.7 644.8,500.5 645.4,502.5 645.9,505.4 646.5,508.2 647.1,511.8 647.6,515.2 648.2,519.1 648.7,523.0 649.3,526.5 649.9,529.6 650.4,531.4 651.0,533.2 651.5,534.3 652.1,535.0 652.7,534.9 653.2,535.1 653.8,534.8 654.3,535.1 654.9,535.7 655.5,536.5 656.0,537.7 656.6,538.3 657.1,538.9 657.7,540.5 658.3,543.1 658.8,545.5 659.4,547.7 660.0,549.0 660.5,550.1 661.1,551.6 661.6,552.9 662.2,555.2 662.8,557.5 663.3,558.3 663.9,558.0 664.4,557.7 665.0,557.8 665.6,557.5 666.1,557.2 666.7,556.6 667.2,555.7 667.8,554.4 668.4,553.0 668.9,552.2 669.5,551.7 670.0,550.9 670.6,550.4 671.2,549.9 671.7,549.2 672.3,548.2 672.8,546.9 673.4,545.6 674.0,544.1 674.5,542.7 675.1,541.4 675.7,539.7 676.2,538.4 676.8,537.7 677.3,537.4 677.9,537.3 678.5,537.4 679.0,537.5 679.6,537.9 680.1,538.6 680.7,539.0 681.3,539.7 681.8,540.1 682.4,540.4 682.9,540.4 683.5,540.3 684.1,540.6 684.6,541.6 685.2,542.5 685.7,543.0 686.3,544.0 686.9,545.0 687.4,546.1 688.0,547.0 688.5,547.9 689.1,549.3 689.7,550.3 690.2,551.3 690.8,552.5 691.4,553.7 691.9,554.6 692.5,555.8 693.0,557.2 693.6,558.7 694.2,560.0 694.7,560.8 695.3,562.2 695.8,563.2 696.4,564.2 697.0,565.6 697.5,566.9 698.1,567.9 698.6,568.9 699.2,570.2 699.8,571.8 700.3,573.3 700.9,574.6 701.4,575.7 702.0,576.7 702.6,577.3 703.1,578.0 703.7,579.4 704.2,580.2 704.8,580.6 705.4,581.2 705.9,582.0 706.5,582.6 707.1,583.5 707.6,583.9 708.2,584.6 708.7,584.7 709.3,583.8 709.9,583.4 710.4,583.0 711.0,581.7 711.5,580.5 712.1,579.4 712.7,578.4 713.2,577.4 713.8,576.1 714.3,575.0 714.9,574.8 715.5,574.0 716.0,573.4 716.6,573.2 717.1,573.1 717.7,573.2 718.3,573.0 718.8,573.0 719.4,572.9 719.9,572.7 720.5,571.9 721.1,571.6 721.6,571.6 722.2,572.1 722.8,572.3 723.3,572.2 723.9,572.6 724.4,573.3 725.0,574.6 725.6,576.3 726.1,578.3 726.7,581.0 727.2,583.3 727.8,585.6 728.4,588.4 728.9,591.0 729.5,592.8 730.0,594.1 730.6,595.1 731.2,595.2 731.7,595.2 732.3,594.4 732.8,593.3 733.4,591.8 734.0,589.6 734.5,587.6 735.1,586.3 735.6,584.7 736.2,582.9 736.8,581.5 737.3,579.7 737.9,578.0 738.5,576.5 739.0,575.0 739.6,573.6 740.1,572.3 740.7,570.9 741.3,570.2 741.8,569.7 742.4,569.0 742.9,567.5 743.5,566.1 744.1,565.0 744.6,564.1 745.2,562.9 745.7,561.6 746.3,560.2 746.9,558.5 747.4,556.8 748.0,555.4 748.5,555.8 749.1,556.2 749.7,556.2 750.2,556.5 750.8,556.9 751.3,557.3 751.9,557.4 752.5,557.8 753.0,558.2 753.6,558.8 754.2,559.1 754.7,559.1 755.3,558.5 755.8,557.5 756.4,556.7 757.0,556.0 757.5,555.4 758.1,554.8 758.6,554.2 759.2,553.4 759.8,552.6 760.3,552.5 760.9,553.1 761.4,553.6 762.0,553.4 762.6,553.3 763.1,553.4 763.7,553.7 764.2,554.1 764.8,554.7 765.4,555.2 765.9,555.3 766.5,555.2 767.0,555.4 767.6,556.2 768.2,556.8 768.7,556.5 769.3,556.2 769.9,555.8 770.4,555.3 771.0,555.2 771.5,554.9 772.1,555.3 772.7,556.1 773.2,557.1 773.8,558.0 774.3,559.9 774.9,561.7 775.5,563.5 776.0,566.2 776.6,568.0 777.1,570.2 777.7,572.3 778.3,574.1 778.8,575.8 779.4,577.5 779.9,578.8 780.5,579.6 781.1,580.2 781.6,580.3 782.2,580.8 782.7,580.7 783.3,580.8 783.9,581.0 784.4,581.0 785.0,580.9 785.6,580.5 786.1,580.7 786.7,580.8 787.2,581.3 787.8,581.6 788.4,582.3 788.9,582.2 789.5,581.7 790.0,581.3 790.6,581.2 791.2,581.0 791.7,580.8 792.3,580.4 792.8,579.9 793.4,579.9 794.0,579.6 794.5,579.6 795.1,579.7 795.6,580.3 796.2,580.8 796.8,581.4 797.3,581.8 797.9,582.2 798.4,582.1 799.0,580.8 799.6,579.7 800.1,578.9 800.7,578.7 801.3,578.6 801.8,579.1 802.4,580.0 802.9,581.6 803.5,583.5 804.1,586.2 804.6,589.5 805.2,592.7 805.7,596.3 806.3,599.2 806.9,601.4 807.4,602.6 808.0,603.2 808.5,602.9 809.1,601.9 809.7,600.7 810.2,599.6 810.8,597.9 811.3,595.1 811.9,591.7 812.5,588.3 813.0,585.6 813.6,582.7 814.1,580.1 814.7,577.8 815.3,575.2 815.8,572.5 816.4,570.8 817.0,569.7 817.5,569.5 818.1,568.9 818.6,568.5 819.2,568.5 819.8,568.7 820.3,568.9 820.9,568.8 821.4,568.4 822.0,567.5 822.6,566.2 823.1,564.9 823.7,564.5 824.2,563.5 824.8,562.9 825.4,562.2 825.9,562.4 826.5,562.6 827.0,563.2 827.6,563.8 828.2,565.4 828.7,566.7 829.3,567.9 829.8,569.3 830.4,570.8 831.0,572.0 831.5,572.2 832.1,572.5 832.7,572.8 833.2,573.2 833.8,572.6 834.3,572.0 834.9,571.3 835.5,571.0 836.0,569.9 836.6,569.4 837.1,569.0 837.7,568.8 838.3,568.6 838.8,568.5 839.4,568.3 839.9,568.4 840.5,568.6 841.1,568.3 841.6,568.2 842.2,567.8 842.7,567.8 843.3,568.2 843.9,569.1 844.4,570.1 845.0,571.8 845.5,573.5 846.1,575.2 846.7,577.3 847.2,580.1 847.8,583.0 848.3,585.9 848.9,588.3 849.5,590.7 850.0,593.4 850.6,596.1 851.2,599.0 851.7,602.4 852.3,605.7 852.8,609.0 853.4,612.3 854.0,615.7 854.5,618.6 855.1,621.2 855.6,622.7 856.2,623.7 856.8,624.9 857.3,625.0 857.9,625.3 858.4,625.2 859.0,624.6 859.6,623.9 860.1,623.3 860.7,622.4 861.2,621.9 861.8,621.5 862.4,621.0 862.9,620.7 863.5,620.0 864.0,618.9 864.6,617.5 865.2,616.7 865.7,615.9 866.3,615.4 866.9,615.4 867.4,615.4 868.0,615.7 868.5,616.3 869.1,617.5 869.7,619.3 870.2,621.6 870.8,623.4 871.3,626.0 871.9,629.1 872.5,631.9 873.0,634.7 873.6,636.9 874.1,638.9 874.7,640.6 875.3,642.3 875.8,643.9 876.4,645.3 876.9,645.8 877.5,646.0 878.1,646.0 878.6,646.4 879.2,647.1 879.7,647.7 880.3,648.3 880.9,648.6 881.4,648.7 882.0,649.4 882.6,650.3 883.1,651.2 883.7,651.8 884.2,652.1 884.8,652.4 885.4,652.8 885.9,653.3 886.5,654.1 887.0,655.2 887.6,655.8 888.2,656.5 888.7,657.0 889.3,658.0 889.8,658.9 890.4,660.0 891.0,660.3 891.5,661.1 892.1,662.4 892.6,663.5 893.2,665.0 893.8,666.9 894.3,669.5 894.9,672.4 895.4,675.6 896.0,678.8 896.6,682.3 897.1,684.9 897.7,686.8 898.3,688.6 898.8,690.1 899.4,690.8 899.9,690.7 900.5,690.3 901.1,689.7 901.6,688.5 902.2,687.1 902.7,685.9 903.3,684.4 903.9,682.5 904.4,680.7 905.0,679.3 905.5,677.9 906.1,676.2 906.7,674.3 907.2,673.2 907.8,672.0 908.3,670.6 908.9,670.1 909.5,670.5 910.0,670.9 910.6,671.1 911.1,671.3 911.7,671.5 912.3,671.9 912.8,672.2 913.4,672.7 914.0,673.2 914.5,673.2 915.1,672.7 915.6,672.3 916.2,672.1 916.8,672.4 917.3,672.8 917.9,673.5 918.4,673.6 919.0,674.2 919.6,675.1 920.1,676.3 920.7,677.5 921.2,678.8 921.8,679.9 922.4,681.0 922.9,682.4 923.5,683.6 924.0,685.1 924.6,686.6 925.2,688.2 925.7,689.9 926.3,691.3 926.8,692.6 927.4,693.6 928.0,694.0 928.5,694.0 929.1,694.0 929.7,693.8 930.2,693.5 930.8,693.2 931.3,692.4 931.9,691.6 932.5,691.5 933.0,691.4 933.6,691.7 934.1,692.0 934.7,692.1 935.3,692.3 935.8,692.3 936.4,692.3 936.9,692.6 937.5,692.9 938.1,692.4 938.6,691.7 939.2,690.7 939.7,689.5 940.3,687.9 940.9,685.7 941.4,683.4 942.0,680.6 942.5,676.7 943.1,672.6 943.7,668.5 944.2,664.0 944.8,659.4 945.4,654.6 945.9,649.5 946.5,644.0 947.0,638.3 947.6,632.1 948.2,626.6 948.7,620.9 949.3,615.1 949.8,609.7 950.4,604.2 951.0,599.6 951.5,596.3 952.1,594.0 952.6,592.6 953.2,592.2 953.8,592.4 954.3,593.0 954.9,594.1 955.4,595.5 956.0,597.2 956.6,598.9 957.1,600.5 957.7,602.0 958.2,602.4 958.8,601.7 959.4,600.2 959.9,599.0 960.5,597.0 961.1,595.2 961.6,593.2 962.2,591.4 962.7,589.6 963.3,588.3 963.9,587.9 964.4,588.6 965.0,590.1 965.5,591.5 966.1,593.7 966.7,595.7 967.2,597.7 967.8,599.1 968.3,600.3 968.9,600.8 969.5,601.4 970.0,602.7 970.6,604.3 971.1,606.6 971.7,609.1 972.3,612.1 972.8,615.5 973.4,618.8 973.9,621.7 974.5,625.0 975.1,628.3 975.6,630.9 976.2,633.1 976.8,634.7 977.3,636.0 977.9,637.0 978.4,637.8 979.0,638.7 979.6,639.7 980.1,640.3 980.7,640.8 981.2,641.5 981.8,642.5 982.4,643.3 982.9,644.1 983.5,645.1 984.0,645.9 984.6,646.9 985.2,647.8 985.7,648.2 986.3,648.3 986.8,647.8 987.4,647.1 988.0,646.2 988.5,644.9 989.1,643.5 989.6,642.3 990.2,640.3 990.8,638.8 991.3,638.0 991.9,636.9 992.5,635.7 993.0,634.2 993.6,633.1 994.1,632.2 994.7,631.2 995.3,630.0 995.8,629.8 996.4,629.0 996.9,628.4 997.5,628.0 998.1,628.2 998.6,628.7 999.2,629.2 999.7,629.4 1000.3,629.5 1000.9,629.8 1001.4,629.6 1002.0,629.8 1002.5,629.7 1003.1,629.6 1003.7,629.1 1004.2,628.0 1004.8,627.3 1005.3,626.6 1005.9,626.9 1006.5,627.0 1007.0,627.5 1007.6,627.7 1008.2,628.0 1008.7,628.5 1009.3,629.3 1009.8,630.1 1010.4,630.5 1011.0,630.5 1011.5,629.4 1012.1,627.6 1012.6,625.7 1013.2,623.8 1013.8,621.9 1014.3,620.0 1014.9,617.6 1015.4,615.6 1016.0,613.8 1016.6,612.0 1017.1,610.2 1017.7,608.7 1018.2,606.8 1018.8,605.5 1019.4,603.9 1019.9,602.3 1020.5,600.6 1021.0,599.0 1021.6,597.8 1022.2,597.2 1022.7,597.0 1023.3,596.4 1023.9,596.4 1024.4,596.5 1025.0,596.9 1025.5,597.6 1026.1,598.5 1026.7,599.2 1027.2,600.1 1027.8,600.8 1028.3,601.3 1028.9,602.4 1029.5,603.2 1030.0,603.8 1030.6,604.1 1031.1,604.3 1031.7,604.6 1032.3,604.3 1032.8,603.9 1033.4,603.5 1033.9,603.1 1034.5,602.6 1035.1,602.3 1035.6,601.3 1036.2,600.7 1036.7,600.2 1037.3,599.2 1037.9,598.6 1038.4,597.8 1039.0,597.3 1039.6,597.2 1040.1,597.2 1040.7,597.0 1041.2,596.8 1041.8,596.6 1042.4,596.0 1042.9,595.8 1043.5,595.3 1044.0,594.9 1044.6,594.4 1045.2,593.6 1045.7,593.1 1046.3,592.4 1046.8,592.4 1047.4,592.4 1048.0,592.8 1048.5,593.9 1049.1,594.9 1049.6,596.0 1050.2,596.9 1050.8,597.6 1051.3,598.3 1051.9,599.0 1052.4,599.1 1053.0,598.7 1053.6,598.0 1054.1,597.0 1054.7,595.7 1055.3,593.9 1055.8,591.9 1056.4,589.9 1056.9,587.9 1057.5,586.0 1058.1,584.4 1058.6,582.4 1059.2,580.8 1059.7,579.2 1060.3,578.0 1060.9,576.6 1061.4,575.6 1062.0,575.4 1062.5,574.2 1063.1,572.9 1063.7,571.6 1064.2,570.6 1064.8,569.6 1065.3,568.3 1065.9,566.4 1066.5,565.0 1067.0,563.0 1067.6,560.1 1068.1,557.7 1068.7,555.4 1069.3,553.8 1069.8,552.0 1070.4,550.0 1071.0,547.4 1071.5,546.0 1072.1,544.6 1072.6,544.3 1073.2,544.9 1073.8,545.2 1074.3,544.4 1074.9,542.4 1075.4,540.7 1076.0,538.0 1076.6,535.5 1077.1,532.0 1077.7,528.2 1078.2,524.1 1078.8,519.0 1079.4,514.3 1079.9,510.0 1080.5,506.3 1081.0,502.9 1081.6,500.6 1082.2,498.4 1082.7,497.2 1083.3,496.2 1083.8,494.2 1084.4,492.4 1085.0,492.0 1085.5,492.5 1086.1,493.0 1086.7,493.8 1087.2,495.3 1087.8,497.9 1088.3,501.5 1088.9,505.6 1089.5,511.0 1090.0,517.2 1090.6,523.2 1091.1,528.9 1091.7,535.9 1092.3,542.5 1092.8,548.1 1093.4,552.0 1093.9,554.4 1094.5,555.9 1095.1,556.4 1095.6,555.7 1096.2,554.7 1096.7,552.8 1097.3,549.5 1097.9,546.0 1098.4,543.6 1099.0,541.4 1099.5,540.2 1100.1,539.2 1100.7,539.2 1101.2,539.0 1101.8,537.8 1102.4,537.2 1102.9,536.2 1103.5,535.4 1104.0,534.1 1104.6,533.0 1105.2,531.0 1105.7,529.1 1106.3,526.3 1106.8,523.1 1107.4,520.5 1108.0,518.4 1108.5,516.6 1109.1,514.2 1109.6,511.8 1110.2,509.5 1110.8,507.2 1111.3,504.7 1111.9,504.0 1112.4,503.4 1113.0,502.7 1113.6,502.0 1114.1,502.2 1114.7,502.9 1115.2,503.6 1115.8,504.9 1116.4,505.8 1116.9,506.8 1117.5,505.8 1118.0,505.3 1118.6,505.1 1119.2,504.6 1119.7,503.3 1120.3,501.8 1120.9,500.1 1121.4,497.9 1122.0,496.5 1122.5,495.1 1123.1,494.6 1123.7,494.0 1124.2,492.6 1124.8,491.5 1125.3,490.8 1125.9,489.2 1126.5,487.5 1127.0,484.3 1127.6,480.4 1128.1,476.0 1128.7,470.6 1129.3,463.8 1129.8,456.9 1130.4,449.9 1130.9,441.8 1131.5,432.9 1132.1,422.9 1132.6,413.5 1133.2,403.8 1133.7,393.7 1134.3,385.6 1134.9,379.2 1135.4,374.2 1136.0,369.8 1136.6,366.6 1137.1,364.6 1137.7,363.8 1138.2,364.1 1138.8,365.2 1139.4,367.3 1139.9,369.0 1140.5,369.5 1141.0,368.2 1141.6,365.4 1142.2,362.9 1142.7,360.6 1143.3,358.8 1143.8,357.5 1144.4,356.7 1145.0,356.4 1145.5,355.7 1146.1,355.6 1146.6,357.8 1147.2,361.7 1147.8,364.9 1148.3,368.3 1148.9,372.4 1149.4,375.7 1150.0,378.3 1150.6,380.2 1151.1,381.2 1151.7,382.1 1152.3,381.9 1152.8,380.6 1153.4,379.9 1153.9,378.9 1154.5,376.9 1155.1,375.6 1155.6,375.1 1156.2,374.1 1156.7,373.8 1157.3,375.4 1157.9,378.0 1158.4,380.8 1159.0,382.9 1159.5,385.7 1160.1,388.9 1160.7,391.5 1161.2,393.0 1161.8,394.6 1162.3,397.0 1162.9,398.1 1163.5,397.7 1164.0,396.9 1164.6,396.6 1165.1,394.9 1165.7,392.5 1166.3,389.2 1166.8,385.8 1167.4,383.7 1168.0,380.7 1168.5,378.5 1169.1,376.9 1169.6,375.6 1170.2,374.7 1170.8,375.7 1171.3,376.2 1171.9,377.3 1172.4,379.5 1173.0,381.6 1173.6,383.1 1174.1,383.2 1174.7,382.3 1175.2,380.9 1175.8,379.5 1176.4,376.8 1176.9,375.9 1177.5,374.7 1178.0,372.7 1178.6,370.7 1179.2,369.6 1179.7,369.4 1180.3,370.0 1180.8,370.7 1181.4,372.1 1182.0,373.5 1182.5,375.1 1183.1,377.5 1183.7,380.3 1184.2,382.1 1184.8,383.5 1185.3,384.3 1185.9,384.8 1186.5,384.6 1187.0,383.5 1187.6,383.0 1188.1,381.4 1188.7,379.1 1189.3,376.8 1189.8,375.3 1190.4,373.8 1190.9,372.2 1191.5,370.1 1192.1,368.7 1192.6,367.3 1193.2,365.0 1193.7,363.1 1194.3,361.1 1194.9,358.1 1195.4,354.2 1196.0,349.7 1196.5,346.2 1197.1,343.4 1197.7,341.3 1198.2,338.3 1198.8,335.3 1199.4,332.0 1199.9,328.3 1200.5,324.5 1201.0,321.5 1201.6,319.0 1202.2,314.7 1202.7,310.1 1203.3,304.8 1203.8,300.9 1204.4,296.0 1205.0,290.5 1205.5,285.3 1206.1,281.8 1206.6,277.2 1207.2,272.0 1207.8,268.6 1208.3,266.1 1208.9,264.4 1209.4,262.2 1210.0,261.6 1210.6,262.2 1211.1,263.8 1211.7,265.1 1212.2,265.9 1212.8,266.4 1213.4,265.8 1213.9,264.2 1214.5,262.5 1215.1,261.6 1215.6,260.8 1216.2,260.2 1216.7,258.7 1217.3,258.4 1217.9,260.3 1218.4,264.1 1219.0,269.4 1219.5,275.5 1220.1,282.8 1220.7,289.6 1221.2,296.5 1221.8,303.4 1222.3,311.0 1222.9,317.3 1223.5,323.8 1224.0,330.1 1224.6,336.3 1225.1,342.9 1225.7,348.9 1226.3,355.4 1226.8,361.3 1227.4,366.7 1227.9,371.0 1228.5,374.7 1229.1,377.2 1229.6,378.5 1230.2,378.9 1230.8,378.5 1231.3,376.4 1231.9,373.7 1232.4,371.1 1233.0,368.7 1233.6,366.5 1234.1,365.2 1234.7,363.6 1235.2,361.6 1235.8,358.9 1236.4,356.8 1236.9,356.0 1237.5,354.5 1238.0,353.1 1238.6,350.3 1239.2,348.4 1239.7,344.9 1240.3,340.6 1240.8,337.9 1241.4,335.9 1242.0,333.4 1242.5,329.4 1243.1,326.7 1243.6,323.7 1244.2,321.2 1244.8,318.9 1245.3,317.3 1245.9,317.5 1246.5,317.5 1247.0,317.5 1247.6,316.4 1248.1,315.6 1248.7,314.1 1249.3,312.1 1249.8,309.8 1250.4,307.0 1250.9,304.3 1251.5,300.0 1252.1,293.7 1252.6,288.1 1253.2,283.3 1253.7,278.9 1254.3,274.8 1254.9,270.8 1255.4,267.1 1256.0,263.5 1256.5,260.7 1257.1,259.1 1257.7,258.8 1258.2,258.0 1258.8,257.7 1259.3,256.9 1259.9,256.5 1260.5,257.0 1261.0,256.8 1261.6,256.7 1262.2,255.7 1262.7,254.6 1263.3,253.2 1263.8,252.0 1264.4,249.8 1265.0,247.8 1265.5,245.2 1266.1,241.8 1266.6,239.3 1267.2,236.9 1267.8,233.6 1268.3,229.4 1268.9,224.9 1269.4,220.5 1270.0,216.5 1270.6,213.7 1271.1,211.6 1271.7,210.6 1272.2,208.7 1272.8,207.7 1273.4,208.4 1273.9,209.7 1274.5,211.1 1275.0,211.9 1275.6,213.3 1276.2,213.5 1276.7,212.8 1277.3,211.2 1277.9,210.1 1278.4,209.0 1279.0,207.3 1279.5,205.9 1280.1,205.3 1280.7,205.3 1281.2,205.3 1281.8,205.8 1282.3,207.2 1282.9,209.2 1283.5,212.2 1284.0,215.1 1284.6,218.1 1285.1,220.8 1285.7,223.6 1286.3,226.5 1286.8,230.1 1287.4,234.0 1287.9,237.7 1288.5,242.3 1289.1,246.7 1289.6,249.6 1290.2,252.7 1290.7,257.4 1291.3,261.6 1291.9,265.0 1292.4,267.9 1293.0,269.0 1293.6,269.6 1294.1,268.9 1294.7,268.2 1295.2,268.3 1295.8,267.8 1296.4,265.8 1296.9,264.7 1297.5,263.8 1298.0,262.4 1298.6,262.3 1299.2,263.0 1299.7,263.4 1300.3,263.5 1300.8,263.6 1301.4,263.9 1302.0,265.1 1302.5,265.3 1303.1,265.2 1303.6,265.8 1304.2,266.1 1304.8,265.9 1305.3,265.6 1305.9,264.3 1306.4,262.6 1307.0,259.7 1307.6,256.3 1308.1,254.1 1308.7,251.9 1309.3,250.3 1309.8,247.6 1310.4,244.7 1310.9,241.7 1311.5,239.7 1312.1,238.5 1312.6,238.3 1313.2,237.8 1313.7,236.6 1314.3,235.2 1314.9,233.0 1315.4,231.1 1316.0,230.0 1316.5,228.5 1317.1,227.4 1317.7,226.2 1318.2,224.7 1318.8,222.7 1319.3,220.8 1319.9,219.3 1320.5,217.6 1321.0,216.7 1321.6,215.4 1322.1,214.7 1322.7,213.3 1323.3,212.4 1323.8,212.3 1324.4,212.7 1325.0,213.4 1325.5,214.6 1326.1,215.2 1326.6,215.9 1327.2,216.3 1327.8,217.3 1328.3,218.1 1328.9,217.5 1329.4,217.2 1330.0,217.6 1330.6,218.4 1331.1,218.0 1331.7,217.7 1332.2,218.5 1332.8,220.7 1333.4,222.1 1333.9,224.9 1334.5,227.7 1335.0,231.1 1335.6,233.8 1336.2,236.4 1336.7,240.0 1337.3,244.6 1337.8,248.7 1338.4,252.2 1339.0,256.8 1339.5,260.8 1340.1,265.3 1340.7,270.0 1341.2,274.5 1341.8,278.3 1342.3,282.2 1342.9,284.6 1343.5,287.9 1344.0,290.9 1344.6,294.1 1345.1,298.1 1345.7,302.1 1346.3,305.0 1346.8,308.3 1347.4,311.5 1347.9,314.6 1348.5,318.5 1349.1,322.0 1349.6,325.3 1350.2,328.2 1350.7,330.6 1351.3,332.9 1351.9,335.6 1352.4,339.5 1353.0,343.2 1353.5,345.5 1354.1,348.1 1354.7,350.5 1355.2,352.6 1355.8,353.6 1356.4,354.7 1356.9,356.1 1357.5,357.6 1358.0,357.9 1358.6,359.0 1359.2,361.2 1359.7,362.7 1360.3,363.7 1360.8,365.4 1361.4,368.2 1362.0,371.4 1362.5,373.8 1363.1,375.1 1363.6,376.1 1364.2,376.8 1364.8,378.3 1365.3,381.1 1365.9,383.2 1366.4,385.0 1367.0,385.4 1367.6,386.5 1368.1,388.5 1368.7,391.0 1369.2,393.6 1369.8,396.0 1370.4,398.2 1370.9,399.8 1371.5,402.9 1372.1,406.1 1372.6,410.6 1373.2,414.2 1373.7,417.6 1374.3,420.9 1374.9,423.8 1375.4,428.6 1376.0,433.8 1376.5,439.6 1377.1,445.3 1377.7,450.7 1378.2,455.5 1378.8,459.1 1379.3,462.4 1379.9,464.7 1380.5,467.1 1381.0,467.3 1381.6,466.8 1382.1,466.2 1382.7,464.9 1383.3,462.8 1383.8,460.8 1384.4,459.1 1384.9,457.9 1385.5,457.0 1386.1,456.1 1386.6,456.2 1387.2,455.3 1387.8,452.8 1388.3,450.5 1388.9,448.0 1389.4,445.5 1390.0,442.8 1390.6,439.6 1391.1,436.8 1391.7,434.1 1392.2,430.6 1392.8,427.4 1393.4,425.2 1393.9,421.8 1394.5,418.7 1395.0,415.5 1395.6,411.7" fill="none" stroke="#4f86d9" stroke-width="1.1" stroke-linejoin="round" stroke-opacity="1"/>
<polyline points="0.0,806.7 0.6,806.4 1.1,806.0 1.7,805.9 2.2,805.9 2.8,806.0 3.4,806.1 3.9,806.4 4.5,806.7 5.0,807.1 5.6,807.3 6.2,807.5 6.7,807.7 7.3,807.8 7.8,808.0 8.4,808.2 9.0,808.5 9.5,808.9 10.1,809.3 10.7,809.9 11.2,810.6 11.8,811.3 12.3,812.0 12.9,812.5 13.5,812.9 14.0,813.1 14.6,813.2 15.1,813.1 15.7,813.0 16.3,812.8 16.8,812.7 17.4,812.6 17.9,812.6 18.5,812.5 19.1,812.5 19.6,812.5 20.2,812.5 20.7,812.3 21.3,812.0 21.9,811.5 22.4,811.2 23.0,810.8 23.5,810.5 24.1,810.1 24.7,809.9 25.2,809.6 25.8,809.4 26.4,809.3 26.9,809.0 27.5,808.7 28.0,808.6 28.6,808.6 29.2,808.6 29.7,808.5 30.3,808.3 30.8,808.0 31.4,807.9 32.0,807.6 32.5,807.4 33.1,807.4 33.6,807.2 34.2,807.0 34.8,806.8 35.3,806.6 35.9,806.6 36.4,806.5 37.0,806.4 37.6,806.4 38.1,806.4 38.7,806.2 39.2,806.1 39.8,806.0 40.4,806.0 40.9,806.2 41.5,806.5 42.1,806.8 42.6,807.2 43.2,807.7 43.7,808.2 44.3,808.5 44.9,808.8 45.4,809.1 46.0,809.4 46.5,809.7 47.1,810.0 47.7,810.5 48.2,811.0 48.8,811.3 49.3,811.7 49.9,811.9 50.5,812.2 51.0,812.1 51.6,812.0 52.1,811.8 52.7,811.7 53.3,811.6 53.8,811.3 54.4,811.1 54.9,810.8 55.5,810.5 56.1,810.2 56.6,809.9 57.2,809.4 57.8,808.9 58.3,808.3 58.9,807.8 59.4,807.4 60.0,807.1 60.6,806.9 61.1,806.9 61.7,807.0 62.2,807.1 62.8,807.4 63.4,807.5 63.9,807.3 64.5,807.1 65.0,807.0 65.6,806.8 66.2,806.6 66.7,806.4 67.3,806.3 67.8,806.2 68.4,806.3 69.0,806.5 69.5,806.8 70.1,807.2 70.6,807.6 71.2,808.0 71.8,808.4 72.3,808.8 72.9,809.0 73.5,809.3 74.0,809.5 74.6,809.8 75.1,810.3 75.7,810.8 76.3,811.1 76.8,811.4 77.4,811.9 77.9,812.1 78.5,812.4 79.1,812.7 79.6,812.9 80.2,813.2 80.7,813.3 81.3,813.2 81.9,813.1 82.4,812.9 83.0,812.8 83.5,812.6 84.1,812.5 84.7,812.4 85.2,812.4 85.8,812.4 86.3,812.6 86.9,812.8 87.5,813.1 88.0,813.4 88.6,813.9 89.2,814.4 89.7,815.2 90.3,815.9 90.8,816.6 91.4,817.2 92.0,817.9 92.5,818.7 93.1,819.3 93.6,820.1 94.2,820.9 94.8,821.8 95.3,822.6 95.9,823.6 96.4,824.6 97.0,825.4 97.6,826.0 98.1,826.5 98.7,827.1 99.2,827.5 99.8,827.8 100.4,828.1 100.9,828.2 101.5,828.3 102.0,828.3 102.6,828.1 103.2,827.8 103.7,827.4 104.3,827.0 104.9,826.3 105.4,825.5 106.0,824.6 106.5,823.7 107.1,822.7 107.7,821.6 108.2,820.5 108.8,819.5 109.3,818.4 109.9,817.2 110.5,815.8 111.0,814.6 111.6,813.4 112.1,812.0 112.7,810.5 113.3,809.1 113.8,808.0 114.4,806.8 114.9,805.7 115.5,804.5 116.1,803.4 116.6,802.5 117.2,801.6 117.7,800.6 118.3,799.6 118.9,798.6 119.4,797.7 120.0,796.8 120.6,795.9 121.1,795.1 121.7,794.4 122.2,793.6 122.8,792.9 123.4,792.2 123.9,791.6 124.5,790.8 125.0,789.9 125.6,788.9 126.2,788.1 126.7,787.3 127.3,786.5 127.8,785.6 128.4,784.6 129.0,783.6 129.5,782.8 130.1,782.0 130.6,781.2 131.2,780.6 131.8,780.1 132.3,779.7 132.9,779.4 133.4,779.0 134.0,778.8 134.6,778.5 135.1,778.1 135.7,778.0 136.3,777.8 136.8,777.6 137.4,777.6 137.9,777.5 138.5,777.5 139.1,777.6 139.6,777.7 140.2,777.9 140.7,778.2 141.3,778.5 141.9,778.9 142.4,779.2 143.0,779.1 143.5,778.9 144.1,778.9 144.7,778.9 145.2,778.7 145.8,778.5 146.3,778.4 146.9,777.9 147.5,777.4 148.0,777.0 148.6,776.3 149.1,775.5 149.7,774.4 150.3,773.3 150.8,772.3 151.4,771.1 152.0,769.7 152.5,768.1 153.1,766.5 153.6,764.9 154.2,763.4 154.8,761.9 155.3,760.1 155.9,758.2 156.4,756.3 157.0,754.5 157.6,752.8 158.1,751.3 158.7,749.6 159.2,748.1 159.8,746.9 160.4,745.7 160.9,744.7 161.5,743.6 162.0,742.5 162.6,741.6 163.2,740.8 163.7,740.1 164.3,739.4 164.8,738.9 165.4,738.6 166.0,738.3 166.5,738.2 167.1,738.5 167.7,738.8 168.2,739.2 168.8,739.6 169.3,740.0 169.9,740.5 170.5,741.0 171.0,740.9 171.6,740.9 172.1,740.8 172.7,740.6 173.3,740.3 173.8,739.9 174.4,739.6 174.9,739.0 175.5,738.4 176.1,737.5 176.6,736.6 177.2,735.8 177.7,734.7 178.3,733.3 178.9,731.8 179.4,730.2 180.0,728.7 180.5,727.1 181.1,725.4 181.7,723.6 182.2,722.1 182.8,720.6 183.4,719.4 183.9,718.1 184.5,716.8 185.0,715.6 185.6,714.5 186.2,713.4 186.7,712.5 187.3,711.7 187.8,711.0 188.4,710.5 189.0,710.0 189.5,709.7 190.1,709.2 190.6,708.9 191.2,708.6 191.8,708.3 192.3,708.4 192.9,708.4 193.4,708.4 194.0,708.2 194.6,707.7 195.1,707.1 195.7,706.7 196.2,706.0 196.8,705.3 197.4,704.5 197.9,703.6 198.5,702.7 199.1,701.8 199.6,700.7 200.2,699.6 200.7,698.6 201.3,697.5 201.9,696.3 202.4,695.2 203.0,693.8 203.5,692.3 204.1,690.9 204.7,689.5 205.2,688.1 205.8,687.0 206.3,685.9 206.9,684.9 207.5,683.7 208.0,682.4 208.6,681.2 209.1,679.6 209.7,678.3 210.3,676.9 210.8,675.9 211.4,674.9 211.9,674.2 212.5,673.7 213.1,673.2 213.6,672.8 214.2,672.6 214.8,672.8 215.3,673.2 215.9,673.8 216.4,674.5 217.0,675.4 217.6,676.6 218.1,677.7 218.7,679.2 219.2,680.7 219.8,682.2 220.4,684.0 220.9,685.6 221.5,687.0 222.0,688.2 222.6,689.1 223.2,689.9 223.7,690.4 224.3,691.1 224.8,691.8 225.4,692.4 226.0,692.3 226.5,691.9 227.1,691.4 227.6,691.1 228.2,690.7 228.8,690.3 229.3,690.1 229.9,690.1 230.5,690.3 231.0,690.6 231.6,690.7 232.1,690.8 232.7,691.0 233.3,691.3 233.8,691.6 234.4,691.9 234.9,692.4 235.5,692.5 236.1,692.6 236.6,692.8 237.2,693.1 237.7,693.4 238.3,693.8 238.9,694.1 239.4,694.1 240.0,693.9 240.5,693.3 241.1,692.5 241.7,691.5 242.2,690.4 242.8,689.2 243.3,688.1 243.9,687.0 244.5,685.6 245.0,684.2 245.6,682.8 246.2,681.3 246.7,679.8 247.3,678.2 247.8,676.3 248.4,674.5 249.0,672.8 249.5,671.0 250.1,668.7 250.6,666.6 251.2,664.5 251.8,662.5 252.3,660.3 252.9,658.2 253.4,656.2 254.0,654.2 254.6,651.8 255.1,649.6 255.7,647.3 256.2,645.4 256.8,643.7 257.4,642.1 257.9,640.4 258.5,639.1 259.0,637.9 259.6,637.3 260.2,636.5 260.7,636.1 261.3,636.1 261.9,636.3 262.4,636.7 263.0,637.2 263.5,638.1 264.1,638.9 264.7,639.9 265.2,640.8 265.8,642.1 266.3,643.2 266.9,644.3 267.5,645.4 268.0,646.3 268.6,647.3 269.1,648.5 269.7,649.6 270.3,650.8 270.8,651.8 271.4,652.8 271.9,654.2 272.5,655.3 273.1,656.2 273.6,656.9 274.2,657.8 274.7,658.8 275.3,659.5 275.9,660.1 276.4,660.9 277.0,661.9 277.6,663.1 278.1,664.1 278.7,665.0 279.2,665.8 279.8,666.7 280.4,667.5 280.9,668.3 281.5,668.9 282.0,669.6 282.6,670.3 283.2,670.7 283.7,671.1 284.3,671.5 284.8,672.1 285.4,672.8 286.0,673.3 286.5,674.1 287.1,674.9 287.6,675.7 288.2,676.4 288.8,677.3 289.3,678.4 289.9,679.4 290.4,680.5 291.0,681.5 291.6,682.6 292.1,683.5 292.7,684.5 293.2,685.2 293.8,685.8 294.4,686.2 294.9,686.7 295.5,687.1 296.1,687.3 296.6,687.3 297.2,686.9 297.7,686.4 298.3,685.8 298.9,685.0 299.4,684.2 300.0,683.2 300.5,682.3 301.1,681.3 301.7,680.1 302.2,679.0 302.8,677.9 303.3,676.8 303.9,675.7 304.5,675.1 305.0,674.4 305.6,673.6 306.1,672.7 306.7,672.0 307.3,671.2 307.8,670.5 308.4,669.8 308.9,669.1 309.5,668.6 310.1,668.2 310.6,667.8 311.2,667.5 311.8,667.4 312.3,667.4 312.9,667.4 313.4,667.3 314.0,667.5 314.6,667.8 315.1,668.2 315.7,668.4 316.2,669.0 316.8,669.7 317.4,670.6 317.9,671.3 318.5,672.0 319.0,672.7 319.6,673.7 320.2,674.6 320.7,675.4 321.3,676.0 321.8,676.4 322.4,676.8 323.0,676.9 323.5,676.8 324.1,676.8 324.6,676.6 325.2,676.0 325.8,675.2 326.3,674.2 326.9,673.2 327.5,672.0 328.0,670.6 328.6,668.9 329.1,667.2 329.7,665.8 330.3,664.2 330.8,662.4 331.4,660.7 331.9,659.2 332.5,657.6 333.1,656.2 333.6,654.7 334.2,653.3 334.7,652.3 335.3,651.1 335.9,649.9 336.4,648.8 337.0,647.5 337.5,646.1 338.1,645.0 338.7,643.8 339.2,642.8 339.8,641.9 340.3,641.4 340.9,640.8 341.5,640.5 342.0,640.2 342.6,639.7 343.2,639.2 343.7,638.9 344.3,638.5 344.8,638.1 345.4,637.6 346.0,636.9 346.5,636.1 347.1,635.5 347.6,635.2 348.2,635.3 348.8,635.3 349.3,635.1 349.9,635.1 350.4,634.9 351.0,634.8 351.6,634.7 352.1,634.6 352.7,634.5 353.2,634.4 353.8,634.5 354.4,634.5 354.9,634.7 355.5,634.7 356.0,634.7 356.6,634.9 357.2,635.0 357.7,635.7 358.3,636.5 358.9,636.8 359.4,637.3 360.0,638.0 360.5,638.6 361.1,639.1 361.7,639.4 362.2,639.7 362.8,639.6 363.3,639.4 363.9,639.2 364.5,639.0 365.0,638.5 365.6,637.8 366.1,637.1 366.7,636.4 367.3,635.8 367.8,635.0 368.4,634.5 368.9,633.6 369.5,632.3 370.1,631.2 370.6,629.7 371.2,627.9 371.7,625.9 372.3,624.3 372.9,623.1 373.4,622.2 374.0,621.6 374.6,621.0 375.1,620.3 375.7,619.8 376.2,619.7 376.8,619.9 377.4,620.2 377.9,620.9 378.5,621.4 379.0,622.1 379.6,622.9 380.2,623.7 380.7,624.5 381.3,625.3 381.8,625.8 382.4,626.4 383.0,627.0 383.5,627.1 384.1,626.7 384.6,626.0 385.2,625.0 385.8,623.8 386.3,622.7 386.9,621.4 387.4,619.6 388.0,617.7 388.6,615.8 389.1,613.4 389.7,611.1 390.3,608.8 390.8,605.9 391.4,603.1 391.9,600.2 392.5,597.7 393.1,595.4 393.6,593.2 394.2,591.2 394.7,589.1 395.3,587.1 395.9,585.3 396.4,583.4 397.0,582.0 397.5,580.1 398.1,578.3 398.7,576.7 399.2,574.9 399.8,572.7 400.3,570.7 400.9,568.2 401.5,565.2 402.0,562.4 402.6,559.3 403.1,555.6 403.7,551.3 404.3,546.7 404.8,542.1 405.4,537.7 406.0,533.2 406.5,528.6 407.1,523.1 407.6,517.3 408.2,511.0 408.8,504.7 409.3,499.3 409.9,493.9 410.4,488.6 411.0,483.0 411.6,476.8 412.1,471.6 412.7,466.6 413.2,461.5 413.8,456.9 414.4,453.0 414.9,449.5 415.5,445.8 416.0,442.2 416.6,437.8 417.2,433.3 417.7,428.8 418.3,424.6 418.8,421.0 419.4,417.9 420.0,414.5 420.5,410.7 421.1,406.8 421.7,402.5 422.2,398.3 422.8,394.6 423.3,390.4 423.9,385.3 424.5,379.5 425.0,374.0 425.6,367.2 426.1,359.7 426.7,352.9 427.3,346.1 427.8,339.2 428.4,332.1 428.9,324.8 429.5,317.3 430.1,309.2 430.6,300.4 431.2,291.4 431.7,281.4 432.3,270.9 432.9,260.3 433.4,251.9 434.0,243.1 434.5,232.4 435.1,222.0 435.7,212.4 436.2,203.1 436.8,194.8 437.4,187.9 437.9,182.0 438.5,176.1 439.0,170.8 439.6,164.9 440.2,161.4 440.7,159.7 441.3,157.3 441.8,157.4 442.4,160.6 443.0,164.0 443.5,167.9 444.1,172.5 444.6,177.5 445.2,185.1 445.8,196.9 446.3,208.3 446.9,220.8 447.4,233.7 448.0,247.5 448.6,261.8 449.1,276.4 449.7,290.8 450.2,304.6 450.8,318.6 451.4,329.4 451.9,338.7 452.5,350.2 453.1,359.9 453.6,366.0 454.2,371.0 454.7,375.6 455.3,379.6 455.9,381.4 456.4,381.8 457.0,382.3 457.5,384.9 458.1,386.6 458.7,388.0 459.2,389.3 459.8,389.9 460.3,388.8 460.9,387.4 461.5,386.7 462.0,386.6 462.6,387.4 463.1,388.6 463.7,388.7 464.3,388.4 464.8,389.2 465.4,391.3 465.9,395.1 466.5,399.2 467.1,404.2 467.6,410.0 468.2,415.9 468.8,422.1 469.3,429.4 469.9,435.3 470.4,439.2 471.0,443.7 471.6,449.4 472.1,456.2 472.7,462.8 473.2,470.6 473.8,477.5 474.4,483.7 474.9,490.4 475.5,497.9 476.0,506.3 476.6,515.2 477.2,521.9 477.7,529.1 478.3,534.6 478.8,538.1 479.4,539.2 480.0,538.7 480.5,537.2 481.1,536.4 481.6,536.8 482.2,535.7 482.8,533.0 483.3,529.4 483.9,525.7 484.5,520.7 485.0,516.7 485.6,513.1 486.1,509.0 486.7,503.8 487.3,497.8 487.8,490.9 488.4,484.7 488.9,477.5 489.5,471.1 490.1,465.2 490.6,459.7 491.2,454.4 491.7,449.0 492.3,443.2 492.9,437.5 493.4,432.1 494.0,427.1 494.5,422.2 495.1,417.6 495.7,413.4 496.2,409.0 496.8,404.9 497.3,400.7 497.9,396.9 498.5,393.3 499.0,389.9 499.6,386.9 500.2,384.4 500.7,381.7 501.3,378.8 501.8,376.3 502.4,375.2 503.0,374.6 503.5,374.2 504.1,373.7 504.6,373.4 505.2,373.2 505.8,373.2 506.3,373.6 506.9,373.8 507.4,374.0 508.0,374.2 508.6,374.4 509.1,374.5 509.7,374.4 510.2,374.5 510.8,374.5 511.4,374.9 511.9,375.5 512.5,376.4 513.0,376.7 513.6,375.8 514.2,374.2 514.7,373.3 515.3,372.2 515.9,371.2 516.4,372.2 517.0,374.4 517.5,377.6 518.1,382.0 518.7,387.2 519.2,392.4 519.8,398.9 520.3,406.2 520.9,413.1 521.5,420.7 522.0,429.1 522.6,437.3 523.1,445.4 523.7,453.2 524.3,461.7 524.8,469.8 525.4,477.8 525.9,486.0 526.5,494.6 527.1,502.9 527.6,509.3 528.2,513.9 528.7,517.3 529.3,519.3 529.9,520.8 530.4,522.1 531.0,521.9 531.6,520.8 532.1,520.0 532.7,518.1 533.2,515.9 533.8,513.6 534.4,512.6 534.9,512.1 535.5,511.2 536.0,510.8 536.6,511.0 537.2,511.2 537.7,511.6 538.3,512.2 538.8,513.2 539.4,514.3 540.0,515.3 540.5,516.5 541.1,517.6 541.6,518.7 542.2,519.8 542.8,520.7 543.3,521.4 543.9,522.2 544.4,522.6 545.0,522.7 545.6,521.5 546.1,520.0 546.7,518.2 547.3,515.5 547.8,512.4 548.4,509.3 548.9,505.3 549.5,501.1 550.1,496.5 550.6,492.5 551.2,488.7 551.7,485.1 552.3,482.1 552.9,479.0 553.4,476.6 554.0,474.9 554.5,473.9 555.1,472.9 555.7,472.4 556.2,472.5 556.8,473.3 557.3,474.1 557.9,475.0 558.5,476.7 559.0,478.0 559.6,478.8 560.1,480.0 560.7,481.3 561.3,482.6 561.8,483.8 562.4,485.2 562.9,486.7 563.5,488.3 564.1,490.4 564.6,492.2 565.2,494.0 565.8,495.8 566.3,497.9 566.9,500.0 567.4,501.7 568.0,502.9 568.6,504.2 569.1,505.4 569.7,505.9 570.2,506.5 570.8,507.0 571.4,507.1 571.9,507.0 572.5,506.8 573.0,506.5 573.6,506.3 574.2,506.0 574.7,505.9 575.3,506.0 575.8,506.0 576.4,505.7 577.0,505.1 577.5,504.8 578.1,504.1 578.6,503.4 579.2,502.7 579.8,501.3 580.3,499.9 580.9,498.6 581.5,497.5 582.0,496.6 582.6,496.4 583.1,495.9 583.7,495.9 584.3,495.9 584.8,495.5 585.4,494.8 585.9,493.7 586.5,492.2 587.1,490.6 587.6,488.9 588.2,487.2 588.7,485.5 589.3,483.9 589.9,482.4 590.4,481.0 591.0,480.0 591.5,479.3 592.1,479.2 592.7,479.4 593.2,479.4 593.8,479.7 594.3,480.3 594.9,481.2 595.5,482.1 596.0,483.2 596.6,484.5 597.2,485.8 597.7,487.2 598.3,488.4 598.8,489.6 599.4,491.1 600.0,492.3 600.5,493.2 601.1,493.9 601.6,494.4 602.2,495.1 602.8,495.5 603.3,495.6 603.9,495.6 604.4,495.7 605.0,495.5 605.6,495.4 606.1,494.8 606.7,494.1 607.2,493.3 607.8,492.4 608.4,491.5 608.9,490.3 609.5,489.6 610.0,489.1 610.6,488.6 611.2,488.0 611.7,487.8 612.3,488.1 612.9,488.4 613.4,488.6 614.0,488.6 614.5,488.9 615.1,489.1 615.7,489.5 616.2,489.8 616.8,490.0 617.3,490.4 617.9,490.8 618.5,491.1 619.0,491.6 619.6,492.2 620.1,492.7 620.7,493.1 621.3,493.2 621.8,493.1 622.4,493.2 622.9,493.3 623.5,493.2 624.1,493.1 624.6,493.1 625.2,493.1 625.7,493.2 626.3,493.1 626.9,493.0 627.4,493.0 628.0,492.9 628.6,493.0 629.1,493.4 629.7,493.8 630.2,494.0 630.8,494.3 631.4,495.0 631.9,495.5 632.5,496.0 633.0,496.4 633.6,496.7 634.2,497.1 634.7,497.4 635.3,497.7 635.8,497.7 636.4,497.9 637.0,497.9 637.5,498.1 638.1,498.4 638.6,498.5 639.2,498.5 639.8,498.3 640.3,498.0 640.9,498.0 641.4,497.8 642.0,497.7 642.6,497.3 643.1,497.2 643.7,497.4 644.3,497.8 644.8,498.7 645.4,499.6 645.9,500.9 646.5,502.3 647.1,504.4 647.6,506.3 648.2,508.5 648.7,510.5 649.3,512.3 649.9,514.1 650.4,516.0 651.0,517.9 651.5,519.8 652.1,521.6 652.7,523.3 653.2,525.2 653.8,527.0 654.3,529.1 654.9,531.1 655.5,533.0 656.0,534.5 656.6,535.8 657.1,536.6 657.7,537.7 658.3,539.0 658.8,540.3 659.4,541.2 660.0,542.0 660.5,542.9 661.1,544.0 661.6,545.3 662.2,546.8 662.8,548.2 663.3,549.4 663.9,550.5 664.4,551.6 665.0,552.7 665.6,553.2 666.1,553.6 666.7,554.1 667.2,554.3 667.8,554.8 668.4,555.2 668.9,555.2 669.5,554.8 670.0,554.3 670.6,554.1 671.2,553.7 671.7,553.2 672.3,552.4 672.8,551.3 673.4,550.0 674.0,548.6 674.5,547.4 675.1,546.5 675.7,545.3 676.2,544.4 676.8,543.8 677.3,543.3 677.9,542.7 678.5,542.2 679.0,541.5 679.6,541.0 680.1,540.6 680.7,540.2 681.3,539.7 681.8,539.2 682.4,539.1 682.9,538.9 683.5,538.8 684.1,539.0 684.6,539.5 685.2,540.2 685.7,540.8 686.3,541.5 686.9,542.4 687.4,543.1 688.0,543.7 688.5,544.2 689.1,544.8 689.7,545.5 690.2,546.4 690.8,547.5 691.4,548.4 691.9,549.3 692.5,550.4 693.0,551.7 693.6,552.8 694.2,554.0 694.7,555.1 695.3,556.2 695.8,557.3 696.4,558.4 697.0,559.6 697.5,560.7 698.1,561.9 698.6,563.1 699.2,564.4 699.8,565.9 700.3,567.0 700.9,568.4 701.4,569.4 702.0,570.5 702.6,571.4 703.1,572.5 703.7,573.7 704.2,574.6 704.8,575.4 705.4,576.5 705.9,577.7 706.5,578.6 707.1,579.6 707.6,580.3 708.2,580.9 708.7,581.4 709.3,581.6 709.9,581.8 710.4,581.8 711.0,581.5 711.5,581.3 712.1,581.0 712.7,580.9 713.2,580.6 713.8,580.3 714.3,579.9 714.9,579.3 715.5,578.7 716.0,578.2 716.6,577.4 717.1,576.8 717.7,576.3 718.3,575.7 718.8,575.2 719.4,574.5 719.9,573.8 720.5,573.3 721.1,572.8 721.6,572.5 722.2,572.6 722.8,572.7 723.3,572.7 723.9,572.8 724.4,573.1 725.0,573.7 725.6,574.5 726.1,575.1 726.7,576.3 727.2,577.5 727.8,578.8 728.4,580.4 728.9,581.6 729.5,582.7 730.0,583.7 730.6,584.8 731.2,585.7 731.7,586.8 732.3,587.7 732.8,588.3 733.4,588.7 734.0,589.0 734.5,589.3 735.1,589.6 735.6,589.4 736.2,589.0 736.8,588.3 737.3,587.5 737.9,586.2 738.5,584.9 739.0,583.4 739.6,581.6 740.1,579.9 740.7,578.6 741.3,577.5 741.8,576.3 742.4,575.2 742.9,573.6 743.5,572.1 744.1,570.8 744.6,569.5 745.2,568.2 745.7,566.9 746.3,565.6 746.9,564.4 747.4,563.3 748.0,562.2 748.5,561.6 749.1,561.2 749.7,560.6 750.2,560.3 750.8,559.9 751.3,559.4 751.9,558.8 752.5,558.2 753.0,557.5 753.6,557.1 754.2,557.4 754.7,557.6 755.3,557.4 755.8,557.0 756.4,556.8 757.0,556.6 757.5,556.4 758.1,556.3 758.6,556.2 759.2,556.1 759.8,555.9 760.3,555.8 760.9,555.8 761.4,555.5 762.0,555.0 762.6,554.6 763.1,554.4 763.7,554.2 764.2,554.2 764.8,554.1 765.4,553.9 765.9,553.9 766.5,554.2 767.0,554.5 767.6,554.8 768.2,555.1 768.7,555.0 769.3,554.9 769.9,555.0 770.4,555.0 771.0,555.2 771.5,555.1 772.1,555.2 772.7,555.8 773.2,556.6 773.8,557.4 774.3,558.2 774.9,558.9 775.5,559.7 776.0,560.7 776.6,561.6 777.1,562.5 777.7,563.8 778.3,565.1 778.8,566.4 779.4,567.8 779.9,569.4 780.5,570.7 781.1,571.9 781.6,573.3 782.2,574.4 782.7,575.5 783.3,576.5 783.9,577.5 784.4,578.4 785.0,579.2 785.6,579.7 786.1,580.1 786.7,580.5 787.2,580.8 787.8,581.2 788.4,581.5 788.9,581.5 789.5,581.3 790.0,581.2 790.6,581.0 791.2,580.8 791.7,580.7 792.3,580.6 792.8,580.6 793.4,580.7 794.0,580.9 794.5,580.9 795.1,580.7 795.6,580.8 796.2,581.0 796.8,581.2 797.3,581.3 797.9,581.3 798.4,581.0 799.0,580.3 799.6,579.7 800.1,579.3 800.7,579.2 801.3,579.4 801.8,580.0 802.4,580.7 802.9,581.7 803.5,582.8 804.1,584.2 804.6,585.2 805.2,586.2 805.7,587.6 806.3,589.0 806.9,590.0 807.4,590.9 808.0,591.6 808.5,592.2 809.1,592.7 809.7,593.5 810.2,594.6 810.8,595.3 811.3,595.7 811.9,595.5 812.5,594.9 813.0,594.1 813.6,593.0 814.1,591.5 814.7,589.9 815.3,588.0 815.8,586.1 816.4,584.3 817.0,582.4 817.5,580.6 818.1,578.6 818.6,577.1 819.2,575.6 819.8,574.4 820.3,573.3 820.9,572.0 821.4,570.5 822.0,569.1 822.6,567.9 823.1,567.2 823.7,566.7 824.2,566.0 824.8,565.7 825.4,565.5 825.9,565.6 826.5,565.7 827.0,565.8 827.6,565.6 828.2,565.8 828.7,565.8 829.3,566.2 829.8,566.4 830.4,566.8 831.0,567.1 831.5,567.3 832.1,567.6 832.7,568.0 833.2,568.5 833.8,569.0 834.3,569.3 834.9,569.6 835.5,570.2 836.0,570.4 836.6,570.7 837.1,570.6 837.7,570.7 838.3,570.7 838.8,570.9 839.4,570.5 839.9,570.2 840.5,570.0 841.1,569.6 841.6,569.1 842.2,568.6 842.7,568.4 843.3,568.5 843.9,568.8 844.4,569.3 845.0,570.1 845.5,571.0 846.1,571.9 846.7,572.8 847.2,574.1 847.8,575.4 848.3,576.8 848.9,578.2 849.5,579.9 850.0,581.8 850.6,584.0 851.2,586.3 851.7,588.8 852.3,591.5 852.8,594.5 853.4,597.7 854.0,600.8 854.5,603.4 855.1,605.9 855.6,608.1 856.2,609.9 856.8,612.0 857.3,613.7 857.9,615.5 858.4,617.1 859.0,618.5 859.6,619.8 860.1,620.9 860.7,621.8 861.2,622.3 861.8,622.6 862.4,622.9 862.9,622.9 863.5,622.6 864.0,622.0 864.6,621.1 865.2,620.3 865.7,619.6 866.3,618.9 866.9,618.7 867.4,618.5 868.0,618.3 868.5,618.5 869.1,618.8 869.7,619.1 870.2,619.5 870.8,620.1 871.3,620.9 871.9,622.3 872.5,623.7 873.0,625.1 873.6,626.3 874.1,627.6 874.7,629.1 875.3,630.8 875.8,632.7 876.4,634.4 876.9,635.9 877.5,637.5 878.1,639.0 878.6,640.6 879.2,642.0 879.7,643.3 880.3,644.4 880.9,645.4 881.4,646.3 882.0,647.4 882.6,648.1 883.1,648.6 883.7,648.9 884.2,649.2 884.8,649.7 885.4,650.3 885.9,650.8 886.5,651.3 887.0,652.0 887.6,652.6 888.2,653.4 888.7,654.1 889.3,654.9 889.8,655.5 890.4,656.2 891.0,656.5 891.5,657.2 892.1,658.2 892.6,659.4 893.2,660.4 893.8,661.7 894.3,663.3 894.9,665.2 895.4,667.3 896.0,669.4 896.6,671.3 897.1,673.0 897.7,674.6 898.3,676.0 898.8,677.5 899.4,678.9 899.9,680.1 900.5,681.4 901.1,682.7 901.6,683.6 902.2,684.7 902.7,685.4 903.3,685.6 903.9,685.5 904.4,685.4 905.0,685.0 905.5,684.3 906.1,683.3 906.7,682.0 907.2,680.8 907.8,679.5 908.3,678.2 908.9,677.3 909.5,676.5 910.0,675.8 910.6,675.2 911.1,674.6 911.7,673.8 912.3,673.1 912.8,672.7 913.4,672.3 914.0,671.9 914.5,671.7 915.1,671.6 915.6,671.6 916.2,671.6 916.8,671.8 917.3,672.2 917.9,672.7 918.4,672.9 919.0,673.5 919.6,674.2 920.1,674.8 920.7,675.1 921.2,675.5 921.8,676.0 922.4,676.7 922.9,677.6 923.5,678.5 924.0,679.4 924.6,680.4 925.2,681.7 925.7,683.1 926.3,684.4 926.8,685.7 927.4,686.8 928.0,687.5 928.5,688.2 929.1,688.8 929.7,689.5 930.2,690.1 930.8,690.7 931.3,691.1 931.9,691.5 932.5,692.0 933.0,692.5 933.6,692.8 934.1,693.0 934.7,693.0 935.3,693.1 935.8,692.9 936.4,692.7 936.9,692.5 937.5,692.3 938.1,691.9 938.6,691.5 939.2,691.2 939.7,690.8 940.3,690.0 940.9,689.0 941.4,687.8 942.0,686.5 942.5,684.6 943.1,682.7 943.7,680.4 944.2,677.8 944.8,675.1 945.4,672.1 945.9,668.7 946.5,664.9 947.0,660.9 947.6,656.4 948.2,651.6 948.7,646.8 949.3,641.8 949.8,636.8 950.4,631.8 951.0,627.1 951.5,622.9 952.1,619.0 952.6,615.4 953.2,612.2 953.8,609.5 954.3,607.0 954.9,604.6 955.4,602.6 956.0,600.7 956.6,599.2 957.1,598.4 957.7,598.0 958.2,597.5 958.8,597.0 959.4,596.3 959.9,596.0 960.5,595.6 961.1,595.4 961.6,595.2 962.2,595.2 962.7,595.0 963.3,595.1 963.9,595.2 964.4,595.2 965.0,595.1 965.5,595.2 966.1,595.4 966.7,595.4 967.2,595.5 967.8,595.2 968.3,594.9 968.9,594.5 969.5,594.6 970.0,595.6 970.6,597.2 971.1,599.0 971.7,601.4 972.3,603.9 972.8,606.6 973.4,608.9 973.9,611.0 974.5,612.9 975.1,614.9 975.6,616.8 976.2,618.7 976.8,620.6 977.3,622.6 977.9,624.5 978.4,626.6 979.0,628.7 979.6,630.7 980.1,632.6 980.7,634.6 981.2,636.2 981.8,637.8 982.4,639.0 982.9,640.0 983.5,641.0 984.0,641.8 984.6,642.8 985.2,643.8 985.7,644.2 986.3,644.6 986.8,644.7 987.4,644.8 988.0,644.7 988.5,644.5 989.1,644.3 989.6,644.1 990.2,643.6 990.8,643.3 991.3,643.1 991.9,642.6 992.5,641.7 993.0,640.7 993.6,639.6 994.1,638.6 994.7,637.3 995.3,636.1 995.8,635.0 996.4,633.9 996.9,633.2 997.5,632.4 998.1,631.9 998.6,631.5 999.2,631.1 999.7,630.8 1000.3,630.3 1000.9,629.9 1001.4,629.7 1002.0,629.4 1002.5,629.1 1003.1,628.8 1003.7,628.7 1004.2,628.4 1004.8,628.2 1005.3,628.0 1005.9,628.2 1006.5,628.4 1007.0,628.5 1007.6,628.8 1008.2,628.9 1008.7,629.0 1009.3,629.2 1009.8,629.1 1010.4,628.9 1011.0,628.5 1011.5,628.1 1012.1,627.3 1012.6,626.6 1013.2,625.7 1013.8,625.0 1014.3,624.2 1014.9,623.4 1015.4,622.9 1016.0,622.1 1016.6,621.2 1017.1,619.8 1017.7,618.1 1018.2,616.3 1018.8,614.6 1019.4,612.9 1019.9,611.1 1020.5,609.1 1021.0,607.3 1021.6,605.8 1022.2,604.6 1022.7,603.6 1023.3,602.5 1023.9,601.6 1024.4,601.0 1025.0,600.4 1025.5,599.9 1026.1,599.5 1026.7,599.1 1027.2,599.0 1027.8,599.0 1028.3,599.1 1028.9,599.4 1029.5,599.8 1030.0,600.1 1030.6,600.5 1031.1,601.0 1031.7,601.5 1032.3,601.8 1032.8,602.0 1033.4,602.1 1033.9,602.2 1034.5,602.5 1035.1,602.7 1035.6,602.6 1036.2,602.4 1036.7,602.3 1037.3,601.9 1037.9,601.5 1038.4,600.9 1039.0,600.4 1039.6,600.2 1040.1,599.9 1040.7,599.6 1041.2,599.1 1041.8,598.7 1042.4,598.1 1042.9,597.5 1043.5,596.9 1044.0,596.4 1044.6,595.8 1045.2,595.4 1045.7,595.1 1046.3,594.7 1046.8,594.6 1047.4,594.5 1048.0,594.4 1048.5,594.8 1049.1,595.1 1049.6,595.5 1050.2,595.7 1050.8,595.6 1051.3,595.7 1051.9,595.7 1052.4,595.7 1053.0,595.6 1053.6,595.4 1054.1,595.4 1054.7,595.3 1055.3,594.9 1055.8,594.4 1056.4,593.8 1056.9,593.1 1057.5,592.5 1058.1,591.7 1058.6,590.5 1059.2,589.4 1059.7,588.1 1060.3,586.9 1060.9,585.2 1061.4,583.8 1062.0,582.7 1062.5,581.0 1063.1,579.5 1063.7,578.0 1064.2,576.5 1064.8,575.2 1065.3,573.7 1065.9,572.2 1066.5,570.8 1067.0,569.3 1067.6,567.7 1068.1,565.9 1068.7,564.2 1069.3,562.7 1069.8,561.3 1070.4,559.8 1071.0,557.9 1071.5,556.2 1072.1,554.8 1072.6,553.6 1073.2,552.5 1073.8,551.4 1074.3,549.9 1074.9,548.1 1075.4,546.3 1076.0,544.0 1076.6,541.5 1077.1,539.0 1077.7,536.4 1078.2,534.2 1078.8,532.0 1079.4,529.7 1079.9,527.2 1080.5,524.4 1081.0,521.8 1081.6,519.3 1082.2,517.0 1082.7,514.6 1083.3,512.2 1083.8,509.1 1084.4,505.7 1085.0,503.1 1085.5,501.3 1086.1,499.6 1086.7,498.4 1087.2,497.9 1087.8,498.1 1088.3,499.3 1088.9,500.9 1089.5,502.6 1090.0,504.8 1090.6,507.6 1091.1,510.7 1091.7,514.4 1092.3,518.2 1092.8,521.7 1093.4,524.9 1093.9,527.9 1094.5,530.7 1095.1,533.7 1095.6,536.5 1096.2,538.9 1096.7,540.8 1097.3,542.7 1097.9,544.3 1098.4,545.8 1099.0,546.7 1099.5,547.3 1100.1,547.6 1100.7,547.8 1101.2,547.4 1101.8,546.2 1102.4,545.0 1102.9,542.8 1103.5,540.7 1104.0,538.8 1104.6,537.2 1105.2,535.6 1105.7,534.2 1106.3,532.7 1106.8,531.0 1107.4,529.1 1108.0,527.8 1108.5,526.4 1109.1,524.8 1109.6,522.9 1110.2,521.2 1110.8,519.1 1111.3,516.9 1111.9,515.2 1112.4,513.2 1113.0,511.6 1113.6,510.2 1114.1,509.4 1114.7,508.5 1115.2,507.7 1115.8,507.2 1116.4,506.5 1116.9,505.8 1117.5,504.9 1118.0,504.3 1118.6,503.9 1119.2,503.3 1119.7,502.7 1120.3,502.4 1120.9,501.9 1121.4,501.4 1122.0,501.2 1122.5,501.0 1123.1,500.2 1123.7,499.7 1124.2,498.8 1124.8,498.1 1125.3,497.0 1125.9,495.5 1126.5,493.8 1127.0,491.1 1127.6,488.4 1128.1,485.6 1128.7,482.6 1129.3,478.9 1129.8,474.7 1130.4,470.7 1130.9,466.3 1131.5,461.1 1132.1,455.2 1132.6,448.9 1133.2,442.1 1133.7,434.9 1134.3,428.1 1134.9,421.5 1135.4,415.5 1136.0,409.8 1136.6,404.2 1137.1,398.7 1137.7,393.4 1138.2,388.8 1138.8,384.5 1139.4,380.5 1139.9,377.3 1140.5,374.3 1141.0,371.2 1141.6,367.6 1142.2,364.7 1142.7,362.6 1143.3,361.3 1143.8,360.8 1144.4,360.9 1145.0,361.9 1145.5,362.4 1146.1,362.6 1146.6,363.0 1147.2,363.5 1147.8,363.9 1148.3,364.5 1148.9,365.6 1149.4,366.6 1150.0,367.5 1150.6,368.3 1151.1,368.5 1151.7,368.8 1152.3,369.8 1152.8,371.1 1153.4,372.4 1153.9,373.6 1154.5,374.7 1155.1,375.6 1155.6,376.7 1156.2,377.1 1156.7,377.5 1157.3,378.7 1157.9,379.9 1158.4,380.7 1159.0,381.4 1159.5,382.3 1160.1,382.9 1160.7,383.5 1161.2,384.0 1161.8,384.4 1162.3,385.4 1162.9,386.7 1163.5,387.8 1164.0,388.9 1164.6,389.8 1165.1,390.3 1165.7,390.7 1166.3,390.4 1166.8,389.4 1167.4,389.1 1168.0,388.8 1168.5,388.3 1169.1,387.3 1169.6,386.3 1170.2,385.6 1170.8,385.3 1171.3,384.4 1171.9,383.3 1172.4,382.7 1173.0,382.6 1173.6,381.9 1174.1,380.8 1174.7,379.6 1175.2,378.3 1175.8,377.1 1176.4,376.2 1176.9,376.0 1177.5,376.0 1178.0,376.1 1178.6,376.2 1179.2,376.3 1179.7,376.3 1180.3,376.1 1180.8,375.8 1181.4,375.8 1182.0,375.1 1182.5,375.5 1183.1,376.1 1183.7,376.5 1184.2,376.4 1184.8,376.6 1185.3,376.9 1185.9,377.4 1186.5,377.7 1187.0,377.8 1187.6,378.2 1188.1,378.2 1188.7,378.3 1189.3,378.6 1189.8,378.7 1190.4,378.7 1190.9,378.3 1191.5,377.5 1192.1,376.7 1192.6,375.4 1193.2,374.0 1193.7,372.2 1194.3,370.1 1194.9,367.5 1195.4,364.7 1196.0,361.7 1196.5,359.2 1197.1,356.7 1197.7,355.0 1198.2,352.8 1198.8,350.1 1199.4,347.6 1199.9,344.7 1200.5,341.3 1201.0,337.8 1201.6,334.3 1202.2,330.5 1202.7,326.8 1203.3,323.1 1203.8,319.6 1204.4,315.6 1205.0,311.2 1205.5,306.8 1206.1,303.1 1206.6,299.3 1207.2,295.5 1207.8,291.7 1208.3,288.1 1208.9,284.6 1209.4,281.5 1210.0,278.8 1210.6,276.3 1211.1,274.5 1211.7,273.4 1212.2,271.6 1212.8,269.2 1213.4,267.2 1213.9,265.1 1214.5,263.5 1215.1,261.9 1215.6,261.2 1216.2,261.2 1216.7,261.3 1217.3,261.8 1217.9,263.1 1218.4,265.3 1219.0,267.6 1219.5,269.8 1220.1,272.7 1220.7,275.6 1221.2,278.6 1221.8,281.8 1222.3,284.9 1222.9,287.9 1223.5,292.1 1224.0,297.1 1224.6,302.9 1225.1,309.2 1225.7,315.9 1226.3,322.5 1226.8,328.9 1227.4,335.1 1227.9,341.0 1228.5,346.0 1229.1,350.5 1229.6,354.3 1230.2,357.6 1230.8,360.7 1231.3,362.7 1231.9,364.6 1232.4,366.2 1233.0,367.7 1233.6,368.8 1234.1,369.9 1234.7,370.4 1235.2,370.0 1235.8,368.9 1236.4,367.7 1236.9,366.2 1237.5,364.1 1238.0,362.1 1238.6,359.5 1239.2,357.4 1239.7,355.0 1240.3,352.1 1240.8,349.7 1241.4,347.4 1242.0,345.1 1242.5,342.7 1243.1,340.6 1243.6,338.4 1244.2,335.8 1244.8,333.7 1245.3,331.1 1245.9,329.1 1246.5,327.7 1247.0,326.7 1247.6,324.9 1248.1,322.5 1248.7,320.4 1249.3,317.9 1249.8,315.5 1250.4,313.0 1250.9,310.8 1251.5,308.7 1252.1,305.6 1252.6,302.8 1253.2,299.8 1253.7,297.3 1254.3,294.4 1254.9,291.5 1255.4,288.4 1256.0,285.2 1256.5,282.5 1257.1,279.5 1257.7,276.3 1258.2,273.0 1258.8,270.5 1259.3,267.9 1259.9,265.6 1260.5,263.9 1261.0,262.0 1261.6,260.1 1262.2,258.2 1262.7,256.8 1263.3,256.0 1263.8,255.0 1264.4,253.7 1265.0,252.3 1265.5,250.8 1266.1,249.4 1266.6,248.1 1267.2,246.8 1267.8,244.6 1268.3,242.0 1268.9,239.1 1269.4,236.2 1270.0,233.1 1270.6,230.7 1271.1,228.4 1271.7,226.2 1272.2,224.0 1272.8,222.3 1273.4,221.0 1273.9,219.5 1274.5,218.0 1275.0,216.2 1275.6,214.9 1276.2,213.6 1276.7,212.2 1277.3,210.9 1277.9,209.4 1278.4,208.3 1279.0,207.9 1279.5,207.8 1280.1,208.2 1280.7,208.6 1281.2,209.3 1281.8,209.7 1282.3,210.0 1282.9,210.2 1283.5,211.2 1284.0,212.0 1284.6,212.7 1285.1,213.4 1285.7,214.4 1286.3,215.9 1286.8,217.7 1287.4,219.9 1287.9,222.4 1288.5,225.8 1289.1,229.4 1289.6,232.3 1290.2,235.4 1290.7,239.1 1291.3,242.6 1291.9,245.8 1292.4,249.0 1293.0,251.5 1293.6,253.6 1294.1,255.6 1294.7,257.4 1295.2,258.9 1295.8,260.3 1296.4,261.6 1296.9,263.1 1297.5,264.4 1298.0,265.2 1298.6,265.7 1299.2,266.3 1299.7,266.2 1300.3,265.8 1300.8,265.9 1301.4,265.9 1302.0,265.5 1302.5,265.0 1303.1,264.5 1303.6,264.1 1304.2,264.2 1304.8,264.4 1305.3,264.5 1305.9,263.9 1306.4,263.1 1307.0,261.8 1307.6,260.7 1308.1,259.7 1308.7,258.6 1309.3,258.0 1309.8,256.8 1310.4,255.3 1310.9,253.7 1311.5,252.0 1312.1,250.6 1312.6,249.0 1313.2,247.1 1313.7,245.4 1314.3,243.5 1314.9,241.7 1315.4,239.4 1316.0,237.3 1316.5,235.1 1317.1,233.5 1317.7,232.4 1318.2,231.5 1318.8,230.3 1319.3,228.7 1319.9,227.2 1320.5,225.3 1321.0,223.9 1321.6,222.7 1322.1,221.6 1322.7,220.3 1323.3,219.3 1323.8,218.5 1324.4,217.7 1325.0,217.1 1325.5,217.0 1326.1,216.4 1326.6,216.3 1327.2,215.8 1327.8,216.0 1328.3,215.7 1328.9,214.9 1329.4,214.7 1330.0,215.1 1330.6,215.9 1331.1,216.3 1331.7,216.5 1332.2,217.2 1332.8,218.5 1333.4,219.7 1333.9,221.5 1334.5,222.6 1335.0,224.1 1335.6,225.7 1336.2,227.4 1336.7,229.0 1337.3,231.2 1337.8,233.6 1338.4,236.5 1339.0,239.5 1339.5,242.8 1340.1,246.5 1340.7,250.6 1341.2,254.1 1341.8,257.4 1342.3,261.1 1342.9,264.6 1343.5,268.3 1344.0,271.5 1344.6,275.4 1345.1,279.4 1345.7,283.7 1346.3,287.5 1346.8,291.4 1347.4,294.9 1347.9,298.4 1348.5,301.5 1349.1,304.9 1349.6,308.1 1350.2,311.2 1350.7,314.3 1351.3,317.5 1351.9,320.3 1352.4,323.9 1353.0,327.4 1353.5,330.1 1354.1,333.3 1354.7,336.2 1355.2,339.0 1355.8,340.9 1356.4,342.7 1356.9,344.5 1357.5,346.6 1358.0,348.7 1358.6,351.1 1359.2,353.4 1359.7,355.4 1360.3,357.1 1360.8,359.0 1361.4,360.9 1362.0,363.0 1362.5,364.9 1363.1,366.4 1363.6,367.0 1364.2,367.9 1364.8,369.8 1365.3,371.9 1365.9,373.4 1366.4,375.2 1367.0,376.8 1367.6,378.9 1368.1,381.1 1368.7,383.1 1369.2,384.9 1369.8,386.4 1370.4,388.3 1370.9,390.4 1371.5,393.1 1372.1,395.5 1372.6,398.0 1373.2,400.3 1373.7,403.0 1374.3,405.9 1374.9,408.7 1375.4,412.3 1376.0,416.0 1376.5,419.7 1377.1,424.1 1377.7,428.4 1378.2,433.0 1378.8,436.7 1379.3,440.0 1379.9,442.8 1380.5,445.4 1381.0,448.0 1381.6,450.3 1382.1,452.9 1382.7,455.1 1383.3,456.8 1383.8,458.1 1384.4,459.1 1384.9,460.1 1385.5,460.9 1386.1,461.6 1386.6,461.7 1387.2,461.1 1387.8,459.5 1388.3,457.7 1388.9,455.4 1389.4,453.1 1390.0,450.9 1390.6,448.7 1391.1,446.9 1391.7,445.1 1392.2,443.4 1392.8,441.4 1393.4,439.0 1393.9,436.1 1394.5,433.4 1395.0,430.5 1395.6,427.2" fill="none" stroke="#2a3fe0" stroke-width="1.1" stroke-linejoin="round" stroke-opacity="1"/>
<polyline points="0.0,808.5 0.6,808.4 1.1,808.3 1.7,808.3 2.2,808.3 2.8,808.3 3.4,808.4 3.9,808.5 4.5,808.6 5.0,808.7 5.6,808.8 6.2,808.9 6.7,808.9 7.3,808.9 7.8,808.9 8.4,808.9 9.0,808.9 9.5,808.9 10.1,809.0 10.7,809.1 11.2,809.2 11.8,809.3 12.3,809.5 12.9,809.7 13.5,809.8 14.0,809.8 14.6,809.8 15.1,809.8 15.7,809.8 16.3,809.8 16.8,809.8 17.4,809.8 17.9,809.8 18.5,809.7 19.1,809.7 19.6,809.6 20.2,809.6 20.7,809.6 21.3,809.6 21.9,809.5 22.4,809.5 23.0,809.5 23.5,809.5 24.1,809.5 24.7,809.6 25.2,809.6 25.8,809.6 26.4,809.6 26.9,809.6 27.5,809.6 28.0,809.6 28.6,809.6 29.2,809.6 29.7,809.6 30.3,809.6 30.8,809.6 31.4,809.6 32.0,809.6 32.5,809.6 33.1,809.6 33.6,809.7 34.2,809.7 34.8,809.8 35.3,809.8 35.9,809.8 36.4,809.7 37.0,809.7 37.6,809.6 38.1,809.4 38.7,809.3 39.2,809.2 39.8,809.1 40.4,809.0 40.9,809.1 41.5,809.1 42.1,809.1 42.6,809.2 43.2,809.2 43.7,809.2 44.3,809.1 44.9,809.1 45.4,809.0 46.0,808.9 46.5,808.8 47.1,808.8 47.7,808.9 48.2,808.9 48.8,809.0 49.3,809.0 49.9,809.0 50.5,809.0 51.0,808.9 51.6,808.9 52.1,808.8 52.7,808.8 53.3,808.8 53.8,808.8 54.4,808.8 54.9,808.8 55.5,808.8 56.1,808.7 56.6,808.7 57.2,808.5 57.8,808.4 58.3,808.3 58.9,808.3 59.4,808.3 60.0,808.3 60.6,808.3 61.1,808.3 61.7,808.4 62.2,808.4 62.8,808.5 63.4,808.5 63.9,808.5 64.5,808.5 65.0,808.5 65.6,808.5 66.2,808.5 66.7,808.5 67.3,808.4 67.8,808.4 68.4,808.4 69.0,808.4 69.5,808.4 70.1,808.5 70.6,808.7 71.2,808.8 71.8,809.0 72.3,809.2 72.9,809.4 73.5,809.5 74.0,809.6 74.6,809.7 75.1,809.8 75.7,809.8 76.3,809.8 76.8,809.8 77.4,809.7 77.9,809.7 78.5,809.6 79.1,809.6 79.6,809.5 80.2,809.5 80.7,809.5 81.3,809.4 81.9,809.4 82.4,809.3 83.0,809.4 83.5,809.4 84.1,809.5 84.7,809.6 85.2,809.7 85.8,809.9 86.3,810.1 86.9,810.2 87.5,810.4 88.0,810.6 88.6,810.8 89.2,811.0 89.7,811.3 90.3,811.6 90.8,812.0 91.4,812.3 92.0,812.7 92.5,813.0 93.1,813.3 93.6,813.7 94.2,814.0 94.8,814.4 95.3,814.7 95.9,815.1 96.4,815.5 97.0,815.9 97.6,816.3 98.1,816.7 98.7,817.1 99.2,817.5 99.8,817.9 100.4,818.2 100.9,818.6 101.5,819.0 102.0,819.3 102.6,819.5 103.2,819.7 103.7,819.8 104.3,819.8 104.9,819.8 105.4,819.7 106.0,819.7 106.5,819.6 107.1,819.6 107.7,819.5 108.2,819.4 108.8,819.4 109.3,819.2 109.9,819.1 110.5,818.9 111.0,818.8 111.6,818.6 112.1,818.5 112.7,818.2 113.3,818.0 113.8,817.8 114.4,817.5 114.9,817.3 115.5,816.9 116.1,816.6 116.6,816.3 117.2,816.0 117.7,815.7 118.3,815.3 118.9,814.9 119.4,814.5 120.0,814.1 120.6,813.6 121.1,813.1 121.7,812.6 122.2,812.0 122.8,811.4 123.4,810.8 123.9,810.1 124.5,809.4 125.0,808.7 125.6,807.9 126.2,807.1 126.7,806.2 127.3,805.4 127.8,804.5 128.4,803.6 129.0,802.7 129.5,801.7 130.1,800.7 130.6,799.8 131.2,798.9 131.8,798.2 132.3,797.4 132.9,796.6 133.4,795.8 134.0,795.0 134.6,794.2 135.1,793.4 135.7,792.6 136.3,791.9 136.8,791.1 137.4,790.4 137.9,789.8 138.5,789.1 139.1,788.6 139.6,788.0 140.2,787.4 140.7,786.9 141.3,786.4 141.9,785.9 142.4,785.5 143.0,785.0 143.5,784.6 144.1,784.2 144.7,783.8 145.2,783.5 145.8,783.1 146.3,782.7 146.9,782.2 147.5,781.7 148.0,781.2 148.6,780.7 149.1,780.1 149.7,779.5 150.3,778.8 150.8,778.2 151.4,777.5 152.0,776.9 152.5,776.2 153.1,775.5 153.6,774.9 154.2,774.2 154.8,773.5 155.3,772.8 155.9,772.0 156.4,771.3 157.0,770.5 157.6,769.8 158.1,769.1 158.7,768.3 159.2,767.6 159.8,766.9 160.4,766.2 160.9,765.5 161.5,764.8 162.0,764.2 162.6,763.5 163.2,762.9 163.7,762.2 164.3,761.6 164.8,761.0 165.4,760.3 166.0,759.7 166.5,759.1 167.1,758.5 167.7,758.0 168.2,757.4 168.8,756.9 169.3,756.4 169.9,755.9 170.5,755.4 171.0,754.7 171.6,754.0 172.1,753.3 172.7,752.5 173.3,751.7 173.8,750.9 174.4,750.0 174.9,749.1 175.5,748.1 176.1,747.1 176.6,746.2 177.2,745.3 177.7,744.3 178.3,743.3 178.9,742.3 179.4,741.3 180.0,740.4 180.5,739.5 181.1,738.5 181.7,737.6 182.2,736.6 182.8,735.7 183.4,734.9 183.9,734.1 184.5,733.2 185.0,732.4 185.6,731.6 186.2,730.8 186.7,730.1 187.3,729.4 187.8,728.7 188.4,728.2 189.0,727.6 189.5,727.2 190.1,726.6 190.6,726.1 191.2,725.6 191.8,725.2 192.3,724.8 192.9,724.3 193.4,723.8 194.0,723.3 194.6,722.6 195.1,721.9 195.7,721.3 196.2,720.5 196.8,719.8 197.4,719.0 197.9,718.2 198.5,717.3 199.1,716.5 199.6,715.6 200.2,714.8 200.7,713.9 201.3,712.8 201.9,711.8 202.4,710.8 203.0,709.7 203.5,708.7 204.1,707.6 204.7,706.7 205.2,705.7 205.8,704.7 206.3,703.7 206.9,702.8 207.5,701.8 208.0,700.7 208.6,699.7 209.1,698.6 209.7,697.6 210.3,696.6 210.8,695.7 211.4,694.8 211.9,694.2 212.5,693.5 213.1,692.8 213.6,692.2 214.2,691.6 214.8,691.2 215.3,690.8 215.9,690.6 216.4,690.3 217.0,690.0 217.6,689.9 218.1,689.7 218.7,689.6 219.2,689.5 219.8,689.3 220.4,689.1 220.9,688.9 221.5,688.6 222.0,688.2 222.6,687.9 223.2,687.6 223.7,687.2 224.3,686.9 224.8,686.6 225.4,686.3 226.0,685.8 226.5,685.3 227.1,684.9 227.6,684.6 228.2,684.4 228.8,684.3 229.3,684.2 229.9,684.3 230.5,684.5 231.0,684.6 231.6,684.8 232.1,684.9 232.7,685.0 233.3,685.1 233.8,685.2 234.4,685.3 234.9,685.5 235.5,685.6 236.1,685.7 236.6,685.9 237.2,686.1 237.7,686.2 238.3,686.3 238.9,686.6 239.4,686.8 240.0,686.9 240.5,687.0 241.1,687.3 241.7,687.5 242.2,687.7 242.8,688.0 243.3,688.2 243.9,688.3 244.5,688.4 245.0,688.3 245.6,688.2 246.2,688.0 246.7,687.8 247.3,687.5 247.8,687.2 248.4,686.6 249.0,686.1 249.5,685.4 250.1,684.6 250.6,683.8 251.2,682.9 251.8,682.0 252.3,681.0 252.9,680.0 253.4,679.1 254.0,678.0 254.6,676.9 255.1,675.8 255.7,674.7 256.2,673.7 256.8,672.8 257.4,671.9 257.9,670.9 258.5,669.9 259.0,669.0 259.6,668.3 260.2,667.6 260.7,666.9 261.3,666.3 261.9,665.7 262.4,665.0 263.0,664.3 263.5,663.6 264.1,662.9 264.7,662.2 265.2,661.4 265.8,660.7 266.3,659.9 266.9,659.1 267.5,658.3 268.0,657.6 268.6,656.9 269.1,656.2 269.7,655.6 270.3,655.0 270.8,654.5 271.4,654.1 271.9,653.8 272.5,653.4 273.1,653.0 273.6,652.7 274.2,652.5 274.7,652.4 275.3,652.2 275.9,652.1 276.4,652.0 277.0,652.0 277.6,652.0 278.1,651.9 278.7,651.9 279.2,651.9 279.8,652.0 280.4,652.1 280.9,652.3 281.5,652.6 282.0,652.9 282.6,653.2 283.2,653.7 283.7,654.2 284.3,654.6 284.8,655.2 285.4,655.9 286.0,656.7 286.5,657.5 287.1,658.3 287.6,659.2 288.2,660.2 288.8,661.2 289.3,662.3 289.9,663.2 290.4,664.2 291.0,665.2 291.6,666.2 292.1,667.1 292.7,668.1 293.2,668.9 293.8,669.6 294.4,670.4 294.9,671.0 295.5,671.6 296.1,672.1 296.6,672.6 297.2,673.0 297.7,673.4 298.3,673.6 298.9,673.9 299.4,674.2 300.0,674.6 300.5,674.9 301.1,675.2 301.7,675.5 302.2,675.7 302.8,676.0 303.3,676.2 303.9,676.4 304.5,676.6 305.0,676.8 305.6,676.8 306.1,676.8 306.7,676.8 307.3,676.9 307.8,676.8 308.4,676.7 308.9,676.6 309.5,676.4 310.1,676.3 310.6,676.2 311.2,676.0 311.8,676.0 312.3,676.0 312.9,676.0 313.4,675.9 314.0,676.0 314.6,676.0 315.1,676.2 315.7,676.2 316.2,676.4 316.8,676.5 317.4,676.6 317.9,676.8 318.5,676.8 319.0,676.8 319.6,676.8 320.2,676.7 320.7,676.6 321.3,676.4 321.8,676.2 322.4,675.8 323.0,675.5 323.5,675.1 324.1,674.7 324.6,674.3 325.2,673.8 325.8,673.3 326.3,672.7 326.9,672.3 327.5,671.8 328.0,671.3 328.6,670.7 329.1,670.1 329.7,669.7 330.3,669.1 330.8,668.6 331.4,668.1 331.9,667.7 332.5,667.2 333.1,666.8 333.6,666.3 334.2,665.9 334.7,665.5 335.3,665.1 335.9,664.6 336.4,664.1 337.0,663.5 337.5,662.9 338.1,662.2 338.7,661.6 339.2,661.0 339.8,660.5 340.3,660.0 340.9,659.5 341.5,659.1 342.0,658.7 342.6,658.3 343.2,657.9 343.7,657.5 344.3,657.0 344.8,656.5 345.4,655.9 346.0,655.3 346.5,654.7 347.1,654.0 347.6,653.3 348.2,652.7 348.8,651.9 349.3,651.1 349.9,650.3 350.4,649.4 351.0,648.5 351.6,647.8 352.1,647.1 352.7,646.4 353.2,645.7 353.8,644.9 354.4,644.3 354.9,643.7 355.5,643.1 356.0,642.5 356.6,641.9 357.2,641.4 357.7,641.0 358.3,640.6 358.9,640.3 359.4,640.0 360.0,639.8 360.5,639.6 361.1,639.3 361.7,639.0 362.2,638.8 362.8,638.6 363.3,638.3 363.9,638.1 364.5,637.9 365.0,637.5 365.6,637.2 366.1,636.9 366.7,636.5 367.3,636.2 367.8,635.8 368.4,635.5 368.9,635.1 369.5,634.7 370.1,634.4 370.6,634.1 371.2,633.7 371.7,633.2 372.3,632.8 372.9,632.5 373.4,632.2 374.0,632.0 374.6,631.7 375.1,631.3 375.7,631.1 376.2,630.9 376.8,630.7 377.4,630.7 377.9,630.7 378.5,630.6 379.0,630.7 379.6,630.8 380.2,631.0 380.7,631.1 381.3,631.1 381.8,630.9 382.4,630.8 383.0,630.5 383.5,630.2 384.1,629.7 384.6,629.3 385.2,628.7 385.8,628.1 386.3,627.4 386.9,626.7 387.4,625.9 388.0,625.1 388.6,624.4 389.1,623.6 389.7,622.8 390.3,622.0 390.8,621.1 391.4,620.1 391.9,619.0 392.5,618.1 393.1,617.0 393.6,615.9 394.2,614.7 394.7,613.5 395.3,612.3 395.9,611.2 396.4,610.0 397.0,608.9 397.5,607.7 398.1,606.5 398.7,605.3 399.2,604.2 399.8,602.9 400.3,601.7 400.9,600.2 401.5,598.7 402.0,597.1 402.6,595.3 403.1,593.4 403.7,591.4 404.3,589.3 404.8,587.3 405.4,585.3 406.0,583.2 406.5,580.8 407.1,578.1 407.6,575.3 408.2,572.2 408.8,569.2 409.3,566.3 409.9,563.4 410.4,560.4 411.0,557.1 411.6,553.6 412.1,550.3 412.7,546.9 413.2,543.3 413.8,539.8 414.4,536.3 414.9,532.8 415.5,529.3 416.0,525.8 416.6,522.2 417.2,518.6 417.7,514.8 418.3,511.0 418.8,507.2 419.4,503.6 420.0,499.8 420.5,496.1 421.1,492.5 421.7,488.6 422.2,484.6 422.8,480.7 423.3,476.7 423.9,472.4 424.5,467.8 425.0,463.4 425.6,458.6 426.1,453.5 426.7,448.5 427.3,443.5 427.8,438.2 428.4,432.9 428.9,427.4 429.5,421.6 430.1,415.8 430.6,409.8 431.2,403.5 431.7,397.1 432.3,390.5 432.9,383.8 433.4,377.7 434.0,371.5 434.5,364.8 435.1,358.0 435.7,351.1 436.2,344.7 436.8,338.3 437.4,332.4 437.9,326.9 438.5,321.5 439.0,315.9 439.6,310.1 440.2,305.0 440.7,300.5 441.3,295.8 441.8,291.9 442.4,288.8 443.0,285.4 443.5,281.9 444.1,278.4 444.6,275.9 445.2,274.3 445.8,273.2 446.3,271.9 446.9,270.9 447.4,270.3 448.0,269.8 448.6,269.8 449.1,270.4 449.7,271.0 450.2,271.5 450.8,271.9 451.4,271.9 451.9,271.9 452.5,272.2 453.1,272.6 453.6,272.6 454.2,272.1 454.7,271.5 455.3,270.8 455.9,270.3 456.4,270.0 457.0,270.5 457.5,271.7 458.1,273.3 458.7,274.9 459.2,277.2 459.8,279.9 460.3,282.4 460.9,284.8 461.5,287.4 462.0,290.0 462.6,292.7 463.1,295.7 463.7,298.7 464.3,301.9 464.8,305.2 465.4,308.8 465.9,312.9 466.5,317.1 467.1,321.0 467.6,325.6 468.2,331.7 468.8,338.4 469.3,345.6 469.9,352.3 470.4,358.7 471.0,365.1 471.6,371.5 472.1,378.1 472.7,384.7 473.2,391.9 473.8,398.1 474.4,403.7 474.9,409.8 475.5,415.4 476.0,420.5 476.6,425.8 477.2,430.9 477.7,435.9 478.3,440.1 478.8,443.3 479.4,445.8 480.0,448.6 480.5,451.1 481.1,453.2 481.6,455.1 482.2,456.4 482.8,457.1 483.3,457.7 483.9,458.4 484.5,459.3 485.0,460.5 485.6,461.8 486.1,462.7 486.7,463.4 487.3,464.4 487.8,465.8 488.4,467.2 488.9,468.6 489.5,470.0 490.1,471.1 490.6,471.6 491.2,471.7 491.7,471.9 492.3,471.7 492.9,471.2 493.4,470.5 494.0,469.8 494.5,469.3 495.1,468.7 495.7,468.2 496.2,467.7 496.8,467.2 497.3,466.7 497.9,466.2 498.5,465.8 499.0,465.3 499.6,464.5 500.2,463.7 500.7,462.5 501.3,460.7 501.8,458.4 502.4,456.1 503.0,453.6 503.5,451.3 504.1,449.4 504.6,447.1 505.2,444.4 505.8,441.6 506.3,439.0 506.9,435.9 507.4,433.2 508.0,430.7 508.6,428.0 509.1,425.0 509.7,421.8 510.2,418.5 510.8,415.3 511.4,412.3 511.9,409.4 512.5,406.8 513.0,404.2 513.6,401.8 514.2,399.3 514.7,396.9 515.3,394.5 515.9,392.3 516.4,390.8 517.0,390.0 517.5,389.6 518.1,389.7 518.7,390.1 519.2,390.5 519.8,391.3 520.3,392.5 520.9,393.6 521.5,395.1 522.0,396.8 522.6,398.9 523.1,400.8 523.7,402.8 524.3,404.9 524.8,406.9 525.4,408.9 525.9,411.2 526.5,413.5 527.1,415.9 527.6,418.2 528.2,420.5 528.7,422.8 529.3,425.0 529.9,427.3 530.4,429.6 531.0,431.7 531.6,433.8 532.1,435.8 532.7,437.8 533.2,439.8 533.8,441.9 534.4,444.5 534.9,447.2 535.5,449.9 536.0,452.1 536.6,454.4 537.2,456.8 537.7,459.5 538.3,462.1 538.8,464.9 539.4,467.5 540.0,470.1 540.5,472.6 541.1,475.2 541.6,477.7 542.2,480.2 542.8,482.5 543.3,484.8 543.9,487.0 544.4,489.2 545.0,491.2 545.6,493.2 546.1,495.1 546.7,497.0 547.3,498.7 547.8,500.4 548.4,502.2 548.9,503.8 549.5,505.4 550.1,506.3 550.6,506.9 551.2,507.1 551.7,507.0 552.3,506.8 552.9,506.6 553.4,506.1 554.0,505.5 554.5,505.1 555.1,504.4 555.7,503.6 556.2,502.9 556.8,502.5 557.3,502.1 557.9,501.5 558.5,501.0 559.0,500.5 559.6,499.8 560.1,499.0 560.7,498.2 561.3,497.5 561.8,496.9 562.4,496.4 562.9,496.1 563.5,496.0 564.1,496.0 564.6,496.2 565.2,496.5 565.8,497.0 566.3,497.6 566.9,498.3 567.4,499.0 568.0,499.2 568.6,499.4 569.1,499.5 569.7,499.4 570.2,498.9 570.8,498.3 571.4,497.5 571.9,496.5 572.5,495.3 573.0,494.3 573.6,493.4 574.2,492.6 574.7,492.1 575.3,491.8 575.8,491.6 576.4,491.6 577.0,491.6 577.5,491.9 578.1,492.2 578.6,492.5 579.2,493.0 579.8,493.2 580.3,493.4 580.9,493.7 581.5,494.0 582.0,494.1 582.6,494.5 583.1,494.8 583.7,495.1 584.3,495.4 584.8,495.7 585.4,495.8 585.9,496.0 586.5,496.2 587.1,496.3 587.6,496.2 588.2,496.0 588.7,496.1 589.3,496.0 589.9,495.8 590.4,495.5 591.0,495.2 591.5,494.9 592.1,494.5 592.7,494.5 593.2,494.3 593.8,494.4 594.3,494.4 594.9,494.6 595.5,494.8 596.0,495.0 596.6,495.1 597.2,495.1 597.7,495.1 598.3,495.0 598.8,494.7 599.4,494.5 600.0,494.2 600.5,493.7 601.1,493.2 601.6,492.7 602.2,492.1 602.8,491.6 603.3,491.1 603.9,490.8 604.4,490.6 605.0,490.5 605.6,490.6 606.1,490.6 606.7,490.7 607.2,490.7 607.8,490.6 608.4,490.3 608.9,489.9 609.5,489.5 610.0,489.2 610.6,488.9 611.2,488.6 611.7,488.3 612.3,488.1 612.9,487.9 613.4,487.9 614.0,487.8 614.5,487.9 615.1,488.0 615.7,488.2 616.2,488.3 616.8,488.6 617.3,488.8 617.9,489.0 618.5,489.2 619.0,489.5 619.6,489.8 620.1,490.1 620.7,490.4 621.3,490.6 621.8,490.9 622.4,491.2 622.9,491.4 623.5,491.7 624.1,492.0 624.6,492.2 625.2,492.4 625.7,492.6 626.3,492.6 626.9,492.7 627.4,492.8 628.0,492.8 628.6,492.7 629.1,492.7 629.7,492.7 630.2,492.7 630.8,492.7 631.4,492.7 631.9,492.7 632.5,492.7 633.0,492.7 633.6,492.6 634.2,492.7 634.7,492.9 635.3,493.1 635.8,493.1 636.4,493.2 637.0,493.3 637.5,493.4 638.1,493.6 638.6,493.7 639.2,493.8 639.8,493.9 640.3,494.1 640.9,494.3 641.4,494.5 642.0,494.7 642.6,495.0 643.1,495.2 643.7,495.5 644.3,495.8 644.8,496.2 645.4,496.7 645.9,497.2 646.5,497.7 647.1,498.4 647.6,499.1 648.2,499.9 648.7,500.6 649.3,501.2 649.9,501.9 650.4,502.4 651.0,503.1 651.5,503.7 652.1,504.5 652.7,505.1 653.2,505.7 653.8,506.4 654.3,507.2 654.9,508.1 655.5,509.1 656.0,510.0 656.6,510.8 657.1,511.6 657.7,512.6 658.3,513.7 658.8,514.8 659.4,515.9 660.0,516.9 660.5,517.9 661.1,518.9 661.6,519.9 662.2,521.0 662.8,522.0 663.3,523.0 663.9,523.9 664.4,524.8 665.0,525.7 665.6,526.5 666.1,527.4 666.7,528.3 667.2,529.2 667.8,530.0 668.4,530.9 668.9,531.8 669.5,532.7 670.0,533.6 670.6,534.6 671.2,535.4 671.7,536.1 672.3,536.8 672.8,537.5 673.4,538.2 674.0,538.9 674.5,539.5 675.1,540.1 675.7,540.7 676.2,541.3 676.8,542.0 677.3,542.7 677.9,543.3 678.5,543.7 679.0,544.0 679.6,544.3 680.1,544.5 680.7,544.7 681.3,544.8 681.8,544.8 682.4,544.9 682.9,545.0 683.5,545.1 684.1,545.2 684.6,545.4 685.2,545.7 685.7,545.9 686.3,546.2 686.9,546.4 687.4,546.7 688.0,546.9 688.5,547.0 689.1,547.2 689.7,547.3 690.2,547.6 690.8,547.9 691.4,548.1 691.9,548.1 692.5,548.2 693.0,548.3 693.6,548.5 694.2,548.7 694.7,548.8 695.3,548.9 695.8,548.9 696.4,549.0 697.0,549.3 697.5,549.6 698.1,549.9 698.6,550.2 699.2,550.6 699.8,551.1 700.3,551.5 700.9,552.0 701.4,552.5 702.0,553.0 702.6,553.5 703.1,554.0 703.7,554.6 704.2,555.2 704.8,555.8 705.4,556.5 705.9,557.2 706.5,558.0 707.1,558.8 707.6,559.6 708.2,560.5 708.7,561.2 709.3,562.0 709.9,562.7 710.4,563.3 711.0,563.8 711.5,564.4 712.1,565.0 712.7,565.6 713.2,566.2 713.8,566.7 714.3,567.2 714.9,567.8 715.5,568.3 716.0,568.8 716.6,569.3 717.1,569.8 717.7,570.4 718.3,570.8 718.8,571.3 719.4,571.7 719.9,572.0 720.5,572.3 721.1,572.6 721.6,572.9 722.2,573.3 722.8,573.7 723.3,574.0 723.9,574.4 724.4,574.8 725.0,575.2 725.6,575.6 726.1,576.0 726.7,576.5 727.2,577.0 727.8,577.6 728.4,578.3 728.9,578.8 729.5,579.3 730.0,579.7 730.6,580.1 731.2,580.3 731.7,580.6 732.3,580.8 732.8,580.9 733.4,580.9 734.0,581.0 734.5,581.0 735.1,581.1 735.6,581.1 736.2,581.0 736.8,580.9 737.3,580.6 737.9,580.4 738.5,580.2 739.0,579.9 739.6,579.6 740.1,579.3 740.7,579.0 741.3,578.8 741.8,578.5 742.4,578.3 742.9,577.9 743.5,577.5 744.1,577.2 744.6,576.9 745.2,576.6 745.7,576.3 746.3,576.0 746.9,575.6 747.4,575.3 748.0,575.0 748.5,574.7 749.1,574.6 749.7,574.3 750.2,574.2 750.8,573.9 751.3,573.7 751.9,573.4 752.5,573.1 753.0,572.9 753.6,572.7 754.2,572.6 754.7,572.5 755.3,572.1 755.8,571.7 756.4,571.3 757.0,570.9 757.5,570.5 758.1,570.0 758.6,569.5 759.2,568.9 759.8,568.3 760.3,567.7 760.9,567.1 761.4,566.4 762.0,565.5 762.6,564.7 763.1,563.9 763.7,563.3 764.2,562.7 764.8,562.1 765.4,561.6 765.9,561.2 766.5,560.8 767.0,560.3 767.6,559.9 768.2,559.5 768.7,559.0 769.3,558.5 769.9,558.1 770.4,557.8 771.0,557.6 771.5,557.3 772.1,557.2 772.7,557.2 773.2,557.2 773.8,557.1 774.3,557.1 774.9,557.1 775.5,557.1 776.0,557.3 776.6,557.7 777.1,558.0 777.7,558.4 778.3,558.9 778.8,559.3 779.4,559.8 779.9,560.2 780.5,560.6 781.1,561.0 781.6,561.5 782.2,561.8 782.7,562.1 783.3,562.5 783.9,562.9 784.4,563.4 785.0,563.7 785.6,564.1 786.1,564.4 786.7,564.8 787.2,565.2 787.8,565.6 788.4,566.0 788.9,566.5 789.5,567.0 790.0,567.5 790.6,567.9 791.2,568.4 791.7,568.8 792.3,569.2 792.8,569.6 793.4,570.1 794.0,570.5 794.5,570.9 795.1,571.3 795.6,571.9 796.2,572.5 796.8,573.0 797.3,573.5 797.9,573.8 798.4,574.2 799.0,574.4 799.6,574.6 800.1,574.8 800.7,575.2 801.3,575.7 801.8,576.2 802.4,576.9 802.9,577.7 803.5,578.5 804.1,579.3 804.6,580.1 805.2,580.9 805.7,581.7 806.3,582.4 806.9,583.1 807.4,583.7 808.0,584.2 808.5,584.6 809.1,584.8 809.7,585.1 810.2,585.4 810.8,585.5 811.3,585.5 811.9,585.3 812.5,585.2 813.0,585.0 813.6,584.8 814.1,584.6 814.7,584.4 815.3,584.2 815.8,584.0 816.4,583.8 817.0,583.6 817.5,583.4 818.1,583.1 818.6,583.0 819.2,582.8 819.8,582.6 820.3,582.5 820.9,582.1 821.4,581.8 822.0,581.4 822.6,581.0 823.1,580.6 823.7,580.3 824.2,580.0 824.8,579.8 825.4,579.5 825.9,579.4 826.5,579.3 827.0,579.0 827.6,578.7 828.2,578.6 828.7,578.5 829.3,578.3 829.8,578.1 830.4,578.0 831.0,577.9 831.5,577.8 832.1,577.7 832.7,577.7 833.2,577.6 833.8,577.6 834.3,577.3 834.9,577.1 835.5,576.8 836.0,576.3 836.6,575.9 837.1,575.4 837.7,574.8 838.3,574.2 838.8,573.6 839.4,572.9 839.9,572.2 840.5,571.6 841.1,571.1 841.6,570.5 842.2,570.0 842.7,569.7 843.3,569.4 843.9,569.1 844.4,569.0 845.0,569.0 845.5,569.2 846.1,569.4 846.7,569.7 847.2,570.1 847.8,570.5 848.3,571.0 848.9,571.5 849.5,572.1 850.0,572.7 850.6,573.4 851.2,574.1 851.7,575.0 852.3,575.9 852.8,576.8 853.4,577.8 854.0,578.8 854.5,579.8 855.1,580.9 855.6,581.9 856.2,583.0 856.8,584.1 857.3,585.1 857.9,586.2 858.4,587.2 859.0,588.2 859.6,589.1 860.1,589.9 860.7,590.8 861.2,591.6 861.8,592.4 862.4,593.1 862.9,593.9 863.5,594.6 864.0,595.2 864.6,595.8 865.2,596.5 865.7,597.2 866.3,597.9 866.9,598.7 867.4,599.5 868.0,600.4 868.5,601.4 869.1,602.3 869.7,603.4 870.2,604.5 870.8,605.6 871.3,606.7 871.9,608.0 872.5,609.2 873.0,610.6 873.6,611.8 874.1,613.1 874.7,614.4 875.3,615.8 875.8,617.1 876.4,618.5 876.9,619.6 877.5,620.8 878.1,621.9 878.6,623.0 879.2,624.1 879.7,625.2 880.3,626.2 880.9,627.2 881.4,628.1 882.0,629.1 882.6,630.0 883.1,630.9 883.7,631.6 884.2,632.3 884.8,633.0 885.4,633.6 885.9,634.2 886.5,634.7 887.0,635.2 887.6,635.7 888.2,636.3 888.7,636.9 889.3,637.5 889.8,638.2 890.4,638.8 891.0,639.4 891.5,640.1 892.1,640.9 892.6,641.7 893.2,642.6 893.8,643.6 894.3,644.7 894.9,645.9 895.4,647.2 896.0,648.5 896.6,649.7 897.1,651.0 897.7,652.2 898.3,653.6 898.8,654.8 899.4,656.1 899.9,657.3 900.5,658.4 901.1,659.6 901.6,660.6 902.2,661.5 902.7,662.4 903.3,663.1 903.9,663.7 904.4,664.4 905.0,664.9 905.5,665.4 906.1,665.8 906.7,666.2 907.2,666.7 907.8,667.0 908.3,667.4 908.9,667.7 909.5,668.2 910.0,668.6 910.6,669.2 911.1,669.6 911.7,670.0 912.3,670.4 912.8,670.8 913.4,671.2 914.0,671.5 914.5,671.8 915.1,672.2 915.6,672.5 916.2,672.8 916.8,673.1 917.3,673.5 917.9,674.0 918.4,674.4 919.0,674.8 919.6,675.1 920.1,675.5 920.7,675.9 921.2,676.3 921.8,676.7 922.4,677.1 922.9,677.6 923.5,678.1 924.0,678.6 924.6,679.2 925.2,679.7 925.7,680.1 926.3,680.5 926.8,680.9 927.4,681.1 928.0,681.2 928.5,681.2 929.1,681.2 929.7,681.1 930.2,681.0 930.8,681.0 931.3,681.1 931.9,681.0 932.5,681.1 933.0,681.2 933.6,681.4 934.1,681.5 934.7,681.6 935.3,681.7 935.8,681.9 936.4,682.1 936.9,682.4 937.5,682.8 938.1,683.1 938.6,683.3 939.2,683.5 939.7,683.7 940.3,683.8 940.9,683.8 941.4,683.8 942.0,683.8 942.5,683.5 943.1,683.1 943.7,682.7 944.2,682.1 944.8,681.5 945.4,680.9 945.9,680.1 946.5,679.1 947.0,678.1 947.6,676.9 948.2,675.7 948.7,674.5 949.3,673.1 949.8,671.7 950.4,670.2 951.0,668.7 951.5,667.2 952.1,665.8 952.6,664.4 953.2,663.1 953.8,661.8 954.3,660.4 954.9,659.0 955.4,657.6 956.0,656.2 956.6,654.8 957.1,653.4 957.7,652.0 958.2,650.4 958.8,648.7 959.4,646.8 959.9,645.0 960.5,643.1 961.1,641.2 961.6,639.4 962.2,637.7 962.7,636.0 963.3,634.4 963.9,632.8 964.4,631.3 965.0,629.8 965.5,628.3 966.1,626.8 966.7,625.3 967.2,623.8 967.8,622.2 968.3,620.7 968.9,619.1 969.5,617.7 970.0,616.3 970.6,615.1 971.1,613.9 971.7,612.9 972.3,612.0 972.8,611.2 973.4,610.4 973.9,609.6 974.5,609.0 975.1,608.5 975.6,608.0 976.2,607.8 976.8,607.6 977.3,607.5 977.9,607.5 978.4,607.6 979.0,607.7 979.6,608.0 980.1,608.4 980.7,608.9 981.2,609.6 981.8,610.4 982.4,611.3 982.9,612.3 983.5,613.4 984.0,614.5 984.6,615.6 985.2,616.6 985.7,617.4 986.3,618.2 986.8,618.9 987.4,619.6 988.0,620.2 988.5,620.8 989.1,621.4 989.6,622.1 990.2,622.5 990.8,623.0 991.3,623.4 991.9,623.9 992.5,624.5 993.0,625.2 993.6,625.9 994.1,626.7 994.7,627.4 995.3,628.2 995.8,628.9 996.4,629.6 996.9,630.1 997.5,630.6 998.1,631.1 998.6,631.7 999.2,632.2 999.7,632.6 1000.3,633.0 1000.9,633.5 1001.4,634.0 1002.0,634.5 1002.5,634.9 1003.1,635.3 1003.7,635.5 1004.2,635.6 1004.8,635.6 1005.3,635.5 1005.9,635.5 1006.5,635.5 1007.0,635.5 1007.6,635.5 1008.2,635.4 1008.7,635.3 1009.3,635.3 1009.8,635.1 1010.4,634.9 1011.0,634.6 1011.5,634.2 1012.1,633.8 1012.6,633.3 1013.2,632.8 1013.8,632.4 1014.3,631.9 1014.9,631.3 1015.4,630.6 1016.0,630.0 1016.6,629.3 1017.1,628.4 1017.7,627.6 1018.2,626.6 1018.8,625.8 1019.4,625.0 1019.9,624.2 1020.5,623.4 1021.0,622.6 1021.6,621.9 1022.2,621.3 1022.7,620.7 1023.3,619.9 1023.9,619.3 1024.4,618.7 1025.0,618.1 1025.5,617.6 1026.1,617.2 1026.7,616.8 1027.2,616.4 1027.8,616.1 1028.3,615.7 1028.9,615.3 1029.5,614.9 1030.0,614.5 1030.6,614.1 1031.1,613.7 1031.7,613.3 1032.3,612.7 1032.8,612.2 1033.4,611.7 1033.9,611.3 1034.5,610.8 1035.1,610.3 1035.6,609.8 1036.2,609.3 1036.7,608.8 1037.3,608.3 1037.9,607.8 1038.4,607.3 1039.0,606.9 1039.6,606.4 1040.1,605.8 1040.7,605.2 1041.2,604.6 1041.8,604.0 1042.4,603.4 1042.9,602.7 1043.5,602.0 1044.0,601.4 1044.6,600.8 1045.2,600.4 1045.7,600.1 1046.3,599.7 1046.8,599.4 1047.4,599.1 1048.0,598.9 1048.5,598.7 1049.1,598.6 1049.6,598.4 1050.2,598.3 1050.8,598.3 1051.3,598.3 1051.9,598.4 1052.4,598.3 1053.0,598.2 1053.6,598.2 1054.1,598.1 1054.7,598.0 1055.3,597.8 1055.8,597.5 1056.4,597.1 1056.9,596.9 1057.5,596.6 1058.1,596.3 1058.6,595.8 1059.2,595.4 1059.7,594.9 1060.3,594.5 1060.9,593.9 1061.4,593.3 1062.0,592.8 1062.5,592.2 1063.1,591.6 1063.7,590.9 1064.2,590.2 1064.8,589.6 1065.3,588.9 1065.9,588.1 1066.5,587.4 1067.0,586.5 1067.6,585.6 1068.1,584.7 1068.7,583.8 1069.3,583.0 1069.8,582.1 1070.4,581.2 1071.0,580.3 1071.5,579.4 1072.1,578.5 1072.6,577.7 1073.2,576.9 1073.8,576.1 1074.3,575.0 1074.9,573.9 1075.4,572.8 1076.0,571.5 1076.6,570.2 1077.1,568.8 1077.7,567.4 1078.2,566.0 1078.8,564.5 1079.4,562.9 1079.9,561.3 1080.5,559.6 1081.0,557.9 1081.6,556.1 1082.2,554.3 1082.7,552.5 1083.3,550.8 1083.8,548.8 1084.4,547.0 1085.0,545.2 1085.5,543.6 1086.1,541.9 1086.7,540.4 1087.2,539.0 1087.8,537.8 1088.3,536.8 1088.9,536.0 1089.5,535.3 1090.0,534.8 1090.6,534.4 1091.1,534.0 1091.7,533.8 1092.3,533.8 1092.8,533.6 1093.4,533.3 1093.9,532.9 1094.5,532.6 1095.1,532.2 1095.6,531.6 1096.2,531.2 1096.7,530.7 1097.3,530.1 1097.9,529.7 1098.4,529.2 1099.0,528.8 1099.5,528.5 1100.1,528.3 1100.7,528.2 1101.2,528.0 1101.8,527.9 1102.4,527.6 1102.9,527.2 1103.5,526.9 1104.0,526.6 1104.6,526.4 1105.2,526.0 1105.7,525.7 1106.3,525.2 1106.8,524.4 1107.4,523.7 1108.0,523.3 1108.5,522.9 1109.1,522.5 1109.6,522.2 1110.2,522.0 1110.8,521.9 1111.3,521.8 1111.9,521.8 1112.4,521.8 1113.0,521.8 1113.6,522.0 1114.1,522.2 1114.7,522.5 1115.2,522.7 1115.8,523.1 1116.4,523.4 1116.9,523.6 1117.5,523.8 1118.0,523.9 1118.6,524.0 1119.2,524.0 1119.7,523.9 1120.3,523.8 1120.9,523.5 1121.4,523.1 1122.0,522.5 1122.5,521.8 1123.1,521.0 1123.7,520.1 1124.2,518.9 1124.8,517.7 1125.3,516.4 1125.9,514.9 1126.5,513.4 1127.0,511.8 1127.6,510.2 1128.1,508.5 1128.7,506.7 1129.3,504.7 1129.8,502.6 1130.4,500.6 1130.9,498.5 1131.5,496.1 1132.1,493.3 1132.6,490.5 1133.2,487.4 1133.7,484.2 1134.3,481.1 1134.9,478.1 1135.4,475.3 1136.0,472.7 1136.6,470.2 1137.1,467.6 1137.7,465.0 1138.2,462.4 1138.8,459.8 1139.4,457.3 1139.9,454.9 1140.5,452.5 1141.0,449.9 1141.6,447.2 1142.2,444.6 1142.7,442.0 1143.3,439.5 1143.8,437.0 1144.4,434.7 1145.0,432.6 1145.5,430.2 1146.1,427.9 1146.6,425.8 1147.2,423.8 1147.8,421.7 1148.3,419.6 1148.9,417.6 1149.4,415.5 1150.0,413.5 1150.6,411.5 1151.1,409.4 1151.7,407.4 1152.3,405.3 1152.8,403.1 1153.4,401.1 1153.9,399.1 1154.5,397.1 1155.1,395.1 1155.6,393.2 1156.2,391.3 1156.7,389.3 1157.3,387.6 1157.9,386.2 1158.4,384.7 1159.0,383.2 1159.5,381.8 1160.1,380.6 1160.7,379.6 1161.2,378.7 1161.8,377.7 1162.3,377.1 1162.9,376.6 1163.5,376.3 1164.0,375.9 1164.6,375.6 1165.1,375.5 1165.7,375.6 1166.3,375.6 1166.8,375.7 1167.4,376.0 1168.0,376.2 1168.5,376.5 1169.1,376.7 1169.6,376.8 1170.2,377.0 1170.8,377.4 1171.3,377.6 1171.9,377.8 1172.4,378.1 1173.0,378.4 1173.6,378.6 1174.1,378.8 1174.7,379.1 1175.2,379.4 1175.8,379.7 1176.4,380.1 1176.9,380.5 1177.5,380.7 1178.0,380.7 1178.6,380.8 1179.2,380.9 1179.7,381.1 1180.3,381.1 1180.8,380.9 1181.4,381.0 1182.0,380.9 1182.5,380.9 1183.1,381.0 1183.7,381.1 1184.2,381.1 1184.8,381.3 1185.3,381.5 1185.9,381.6 1186.5,381.6 1187.0,381.5 1187.6,381.6 1188.1,381.7 1188.7,381.6 1189.3,381.4 1189.8,381.3 1190.4,381.3 1190.9,380.9 1191.5,380.3 1192.1,379.6 1192.6,378.9 1193.2,378.1 1193.7,377.4 1194.3,376.5 1194.9,375.5 1195.4,374.6 1196.0,373.4 1196.5,372.3 1197.1,371.3 1197.7,370.3 1198.2,369.2 1198.8,368.2 1199.4,367.3 1199.9,366.3 1200.5,365.3 1201.0,364.2 1201.6,363.1 1202.2,361.7 1202.7,360.1 1203.3,358.5 1203.8,356.9 1204.4,354.9 1205.0,353.0 1205.5,351.0 1206.1,349.0 1206.6,346.8 1207.2,344.6 1207.8,342.6 1208.3,340.8 1208.9,339.1 1209.4,337.4 1210.0,335.7 1210.6,334.0 1211.1,332.5 1211.7,331.1 1212.2,329.4 1212.8,327.4 1213.4,325.3 1213.9,323.1 1214.5,321.1 1215.1,318.9 1215.6,316.9 1216.2,314.9 1216.7,312.7 1217.3,310.8 1217.9,309.1 1218.4,307.5 1219.0,306.2 1219.5,304.9 1220.1,304.1 1220.7,303.3 1221.2,302.5 1221.8,301.9 1222.3,301.4 1222.9,300.9 1223.5,300.5 1224.0,300.2 1224.6,300.2 1225.1,300.4 1225.7,300.8 1226.3,301.3 1226.8,301.9 1227.4,302.5 1227.9,303.0 1228.5,303.6 1229.1,304.3 1229.6,305.0 1230.2,305.6 1230.8,306.2 1231.3,306.7 1231.9,307.2 1232.4,307.9 1233.0,308.6 1233.6,309.4 1234.1,310.4 1234.7,311.3 1235.2,312.1 1235.8,313.0 1236.4,314.0 1236.9,315.2 1237.5,316.2 1238.0,317.4 1238.6,318.6 1239.2,319.9 1239.7,320.9 1240.3,321.9 1240.8,323.1 1241.4,324.2 1242.0,325.2 1242.5,326.0 1243.1,326.9 1243.6,327.7 1244.2,328.4 1244.8,329.1 1245.3,329.6 1245.9,330.5 1246.5,331.6 1247.0,332.8 1247.6,333.9 1248.1,334.9 1248.7,335.7 1249.3,336.3 1249.8,336.7 1250.4,337.1 1250.9,337.3 1251.5,337.1 1252.1,336.6 1252.6,335.9 1253.2,335.2 1253.7,334.2 1254.3,333.2 1254.9,332.0 1255.4,330.6 1256.0,329.2 1256.5,327.8 1257.1,326.3 1257.7,324.7 1258.2,322.9 1258.8,321.0 1259.3,318.9 1259.9,316.7 1260.5,314.6 1261.0,312.3 1261.6,310.2 1262.2,308.0 1262.7,305.9 1263.3,303.8 1263.8,301.7 1264.4,299.6 1265.0,297.4 1265.5,295.3 1266.1,293.1 1266.6,290.8 1267.2,288.6 1267.8,286.1 1268.3,283.5 1268.9,281.0 1269.4,278.7 1270.0,276.2 1270.6,273.7 1271.1,271.5 1271.7,269.3 1272.2,267.2 1272.8,265.1 1273.4,263.3 1273.9,261.7 1274.5,259.9 1275.0,258.0 1275.6,256.2 1276.2,254.4 1276.7,252.5 1277.3,250.6 1277.9,248.6 1278.4,246.8 1279.0,245.0 1279.5,243.1 1280.1,241.2 1280.7,239.3 1281.2,237.7 1281.8,236.1 1282.3,234.7 1282.9,233.4 1283.5,232.4 1284.0,231.5 1284.6,230.6 1285.1,229.9 1285.7,229.5 1286.3,229.0 1286.8,228.8 1287.4,228.6 1287.9,228.5 1288.5,228.7 1289.1,229.0 1289.6,229.2 1290.2,229.3 1290.7,229.6 1291.3,230.0 1291.9,230.2 1292.4,230.5 1293.0,230.6 1293.6,230.7 1294.1,230.7 1294.7,230.9 1295.2,231.1 1295.8,231.3 1296.4,231.5 1296.9,231.9 1297.5,232.2 1298.0,232.6 1298.6,233.1 1299.2,233.6 1299.7,234.3 1300.3,234.9 1300.8,235.5 1301.4,236.4 1302.0,237.5 1302.5,238.6 1303.1,239.6 1303.6,240.8 1304.2,241.8 1304.8,242.7 1305.3,243.4 1305.9,244.2 1306.4,244.7 1307.0,244.9 1307.6,245.2 1308.1,245.7 1308.7,246.3 1309.3,247.0 1309.8,247.5 1310.4,248.0 1310.9,248.5 1311.5,249.1 1312.1,249.6 1312.6,250.1 1313.2,250.5 1313.7,251.0 1314.3,251.3 1314.9,251.6 1315.4,251.7 1316.0,251.8 1316.5,251.7 1317.1,251.6 1317.7,251.5 1318.2,251.2 1318.8,250.9 1319.3,250.5 1319.9,250.1 1320.5,249.5 1321.0,248.8 1321.6,248.1 1322.1,247.2 1322.7,246.1 1323.3,245.3 1323.8,244.4 1324.4,243.4 1325.0,242.5 1325.5,241.7 1326.1,240.7 1326.6,240.0 1327.2,239.2 1327.8,238.6 1328.3,237.7 1328.9,236.8 1329.4,236.0 1330.0,235.4 1330.6,234.8 1331.1,234.0 1331.7,233.3 1332.2,232.7 1332.8,232.2 1333.4,231.7 1333.9,231.3 1334.5,230.8 1335.0,230.5 1335.6,230.1 1336.2,230.0 1336.7,229.8 1337.3,229.8 1337.8,229.8 1338.4,229.9 1339.0,230.2 1339.5,230.7 1340.1,231.3 1340.7,232.3 1341.2,233.2 1341.8,234.0 1342.3,234.9 1342.9,235.5 1343.5,236.5 1344.0,237.6 1344.6,238.9 1345.1,240.4 1345.7,241.9 1346.3,243.4 1346.8,244.9 1347.4,246.5 1347.9,248.1 1348.5,249.7 1349.1,251.6 1349.6,253.5 1350.2,255.5 1350.7,257.6 1351.3,259.6 1351.9,261.9 1352.4,264.4 1353.0,266.9 1353.5,269.2 1354.1,271.5 1354.7,273.9 1355.2,276.3 1355.8,278.7 1356.4,281.2 1356.9,283.6 1357.5,286.1 1358.0,288.6 1358.6,291.1 1359.2,293.6 1359.7,296.0 1360.3,298.5 1360.8,301.2 1361.4,303.9 1362.0,306.7 1362.5,309.6 1363.1,312.4 1363.6,315.0 1364.2,317.5 1364.8,320.3 1365.3,323.3 1365.9,326.0 1366.4,328.6 1367.0,331.1 1367.6,333.7 1368.1,336.4 1368.7,339.1 1369.2,341.7 1369.8,344.1 1370.4,346.7 1370.9,349.1 1371.5,351.7 1372.1,354.2 1372.6,356.7 1373.2,359.2 1373.7,361.8 1374.3,364.2 1374.9,366.6 1375.4,369.2 1376.0,372.0 1376.5,374.9 1377.1,377.9 1377.7,380.8 1378.2,383.6 1378.8,386.1 1379.3,388.5 1379.9,390.8 1380.5,393.0 1381.0,395.2 1381.6,397.3 1382.1,399.6 1382.7,401.7 1383.3,403.8 1383.8,405.7 1384.4,407.5 1384.9,409.4 1385.5,411.1 1386.1,412.4 1386.6,414.0 1387.2,415.6 1387.8,417.0 1388.3,418.4 1388.9,419.7 1389.4,421.0 1390.0,422.2 1390.6,423.3 1391.1,424.3 1391.7,425.1 1392.2,425.9 1392.8,426.7 1393.4,427.5 1393.9,428.1 1394.5,428.6 1395.0,428.9 1395.6,428.9" fill="none" stroke="#1fc3e0" stroke-width="2.0" stroke-linejoin="round" stroke-opacity="1"/>
<g font-family="'Liberation Sans', sans-serif" font-size="21" stroke-width="0.25">
<text x="336" y="96.2" fill="#c0181c" stroke="#c0181c">4037.96</text>
<text x="0.3" y="844.8" fill="#1c7c1c" stroke="#1c7c1c" font-size="19.5" textLength="61" lengthAdjust="spacingAndGlyphs">585.44</text>
</g>
<path d="M412 88.5H435.5M430.3 83.5L435.6 88.5L430.3 93.5" stroke="#3f9cba" stroke-width="1" fill="none"/>
<path d="M73 837.5H96.5M91.3 832.5L96.6 837.5L91.3 842.5" stroke="#3f9cba" stroke-width="1" fill="none"/>
<g font-family="'Liberation Sans', sans-serif" font-size="20.5" fill="#8a8c8f">
<text x="1430.6" y="95.6">4037</text>
<text x="1430.6" y="245.6">3347</text>
<text x="1430.6" y="395.6">2656</text>
<text x="1430.6" y="544.6">1966</text>
<text x="1430.6" y="694.6">1275</text>
<text x="1430.6" y="843.6">585</text>
</g>
<g font-family="'Liberation Sans','Noto Sans CJK SC',sans-serif" font-size="21" stroke-width="0.3">
<text x="2" y="20" fill="#333" stroke="#333" textLength="195" lengthAdjust="spacingAndGlyphs">399006.SZ[创业板指]</text>
<text x="220.8" y="20" fill="#333" stroke="#333" textLength="110" lengthAdjust="spacingAndGlyphs">2022/06/17</text>
<text x="348" y="20" fill="#333" stroke="#333" font-size="20.5">收</text>
<text x="372" y="20" fill="#c0181c" stroke="#c0181c" textLength="74" lengthAdjust="spacingAndGlyphs">2657.21</text>
<text x="463.5" y="20" fill="#333" stroke="#333" font-size="20.5">幅</text>
<text x="487.5" y="20" fill="#c0181c" stroke="#c0181c" textLength="125" lengthAdjust="spacingAndGlyphs">2.77%(71.74)</text>
<text x="627.5" y="20" fill="#333" stroke="#333" font-size="20.5">开</text>
<text x="651.8" y="20" fill="#1c7c1c" stroke="#1c7c1c" textLength="76" lengthAdjust="spacingAndGlyphs">2561.40</text>
<text x="743.7" y="20" fill="#333" stroke="#333" font-size="20.5">高</text>
<text x="766.8" y="20" fill="#c0181c" stroke="#c0181c" textLength="76" lengthAdjust="spacingAndGlyphs">2666.08</text>
<text x="858.5" y="20" fill="#333" stroke="#333" font-size="20.5">低</text>
<text x="881.8" y="20" fill="#1c7c1c" stroke="#1c7c1c" textLength="76" lengthAdjust="spacingAndGlyphs">2559.67</text>
<text x="972.7" y="20" fill="#333" stroke="#333" font-size="20.5">换</text>
<text x="996.8" y="20" fill="#333" stroke="#333" textLength="59" lengthAdjust="spacingAndGlyphs">1.96%</text>
<text x="1071" y="20" fill="#333" stroke="#333" font-size="20.5">振</text>
<text x="1094.5" y="20" fill="#333" stroke="#333" textLength="59.5" lengthAdjust="spacingAndGlyphs">4.12%</text>
<text x="1169.3" y="20" fill="#333" stroke="#333" font-size="20.5">额</text>
<text x="1193.3" y="20" fill="#333" stroke="#333" textLength="97" lengthAdjust="spacingAndGlyphs">2101.66亿</text>
<text x="2" y="51" fill="#333" stroke="#333" textLength="44" lengthAdjust="spacingAndGlyphs">MA5</text>
<text x="55" y="51" fill="#dc2a4a" stroke="#dc2a4a" textLength="76.3" lengthAdjust="spacingAndGlyphs">2582.51</text>
<text x="126.3" y="52" fill="#dc2a4a" stroke="none" font-family="'DejaVu Sans', sans-serif" font-size="21" textLength="20" lengthAdjust="spacingAndGlyphs">↑</text>
<text x="149.3" y="51" fill="#333" stroke="#333" textLength="56.2" lengthAdjust="spacingAndGlyphs">MA10</text>
<text x="214.5" y="51" fill="#4682b4" stroke="#4682b4" textLength="76.3" lengthAdjust="spacingAndGlyphs">2565.49</text>
<text x="285.8" y="52" fill="#4682b4" stroke="none" font-family="'DejaVu Sans', sans-serif" font-size="21" textLength="20" lengthAdjust="spacingAndGlyphs">↑</text>
<text x="308.8" y="51" fill="#333" stroke="#333" textLength="56.8" lengthAdjust="spacingAndGlyphs">MA20</text>
<text x="373.5" y="51" fill="#2a45e6" stroke="#2a45e6" textLength="76.3" lengthAdjust="spacingAndGlyphs">2470.62</text>
<text x="444.8" y="52" fill="#2a45e6" stroke="none" font-family="'DejaVu Sans', sans-serif" font-size="21" textLength="20" lengthAdjust="spacingAndGlyphs">↑</text>
<text x="468.5" y="51" fill="#333" stroke="#333" textLength="57" lengthAdjust="spacingAndGlyphs">MA60</text>
<text x="533.8" y="51" fill="#22bfe0" stroke="#22bfe0" textLength="76.3" lengthAdjust="spacingAndGlyphs">2459.30</text>
<text x="605.0999999999999" y="52" fill="#22bfe0" stroke="none" font-family="'DejaVu Sans', sans-serif" font-size="21" textLength="20" lengthAdjust="spacingAndGlyphs">↓</text>
<text x="628" y="51" fill="#333" stroke="#333" textLength="69" lengthAdjust="spacingAndGlyphs">MA120</text>
<text x="705" y="51" fill="#3cb043" stroke="#3cb043" textLength="76.3" lengthAdjust="spacingAndGlyphs">2718.15</text>
<text x="776.3" y="52" fill="#3cb043" stroke="none" font-family="'DejaVu Sans', sans-serif" font-size="21" textLength="20" lengthAdjust="spacingAndGlyphs">↓</text>
<text x="799.5" y="51" fill="#333" stroke="#333" textLength="69.5" lengthAdjust="spacingAndGlyphs">MA250</text>
<text x="877.5" y="51" fill="#c020e0" stroke="#c020e0" textLength="76.3" lengthAdjust="spacingAndGlyphs">3043.32</text>
<text x="948.8" y="52" fill="#c020e0" stroke="none" font-family="'DejaVu Sans', sans-serif" font-size="21" textLength="20" lengthAdjust="spacingAndGlyphs">↓</text>
<text x="1143" y="51" fill="#333" stroke="#333" textLength="317" lengthAdjust="spacingAndGlyphs">2012/03/20-2022/06/17(2490日)</text>
<path d="M1143 54.5H1440" stroke="#333" stroke-width="1.3"/>
</g>
<g font-family="'Liberation Sans',sans-serif" font-size="20" text-anchor="middle">
<text x="143.3" y="875.2" fill="#111">A</text><text x="317.5" y="875.2" fill="#111">A</text><text x="504.2" y="875.2" fill="#d81e2c">A</text><text x="690.8" y="875.2" fill="#2244cc">A</text>
</g>
</svg>
</body></html>
